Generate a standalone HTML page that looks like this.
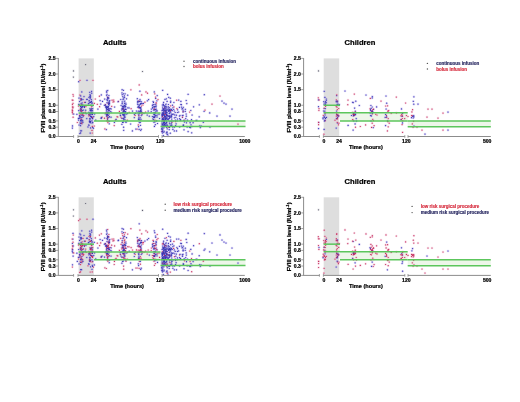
<!DOCTYPE html>
<html><head><meta charset="utf-8"><style>html,body{margin:0;padding:0;background:#fff;width:520px;height:402px;overflow:hidden}svg{display:block;filter:blur(0.22px)}.h circle{r:1.3px}.s circle{r:0.6px}.h .b{fill:#a89ce8}.h .r{fill:#eeb0c8}.h .g{fill:#c8c8d0}.s .b{fill:#3834b4}.s .r{fill:#c42c5c}.s .g{fill:#606070}</style></head>
<body><svg width="520" height="402" viewBox="0 0 520 402">
<defs><filter id="db" x="-5%" y="-5%" width="110%" height="110%"><feGaussianBlur stdDeviation="0.22"/></filter></defs>
<rect width="520" height="402" fill="#fff"/>
<rect x="78.6" y="58.4" width="15.2" height="78.1" fill="#dedede"/>
<rect x="78.6" y="105.26" width="15.4" height="7.81" fill="#e9f4e4" opacity="0.8"/>
<rect x="94" y="113.07" width="66.5" height="7.81" fill="#e9f4e4" opacity="0.8"/>
<rect x="160.5" y="120.88" width="85.0" height="5.62" fill="#e9f4e4" opacity="0.8"/>
<g filter="url(#db)">
<g opacity="0.45" class="h">
<circle class="r" cx="72.4" cy="104.6"/>
<circle class="r" cx="73.1" cy="117.2"/>
<circle class="r" cx="72.3" cy="110.9"/>
<circle class="r" cx="73.0" cy="94.5"/>
<circle class="b" cx="72.4" cy="128.1"/>
<circle class="r" cx="73.0" cy="103.3"/>
<circle class="r" cx="73.3" cy="96.1"/>
<circle class="r" cx="72.8" cy="113.8"/>
<circle class="b" cx="73.7" cy="114.0"/>
<circle class="b" cx="72.5" cy="125.9"/>
<circle class="r" cx="72.8" cy="107.9"/>
<circle class="r" cx="72.7" cy="110.8"/>
<circle class="r" cx="72.9" cy="100.2"/>
<circle class="r" cx="73.2" cy="107.0"/>
<circle class="r" cx="72.2" cy="100.1"/>
<circle class="r" cx="72.3" cy="112.4"/>
<circle class="r" cx="72.3" cy="109.9"/>
<circle class="r" cx="72.5" cy="106.9"/>
<circle class="b" cx="85.1" cy="112.6"/>
<circle class="b" cx="81.9" cy="123.7"/>
<circle class="b" cx="80.4" cy="106.3"/>
<circle class="b" cx="80.7" cy="108.9"/>
<circle class="b" cx="80.9" cy="120.9"/>
<circle class="r" cx="81.5" cy="119.2"/>
<circle class="b" cx="83.2" cy="116.6"/>
<circle class="b" cx="81.7" cy="112.1"/>
<circle class="b" cx="82.0" cy="117.4"/>
<circle class="b" cx="82.1" cy="113.2"/>
<circle class="b" cx="82.4" cy="106.7"/>
<circle class="r" cx="81.0" cy="119.0"/>
<circle class="r" cx="81.8" cy="108.0"/>
<circle class="b" cx="82.9" cy="115.4"/>
<circle class="b" cx="81.5" cy="107.7"/>
<circle class="b" cx="81.2" cy="110.3"/>
<circle class="b" cx="81.0" cy="117.4"/>
<circle class="r" cx="79.5" cy="115.6"/>
<circle class="b" cx="81.6" cy="98.9"/>
<circle class="b" cx="82.1" cy="102.9"/>
<circle class="b" cx="81.8" cy="106.0"/>
<circle class="b" cx="81.0" cy="105.4"/>
<circle class="b" cx="83.1" cy="115.0"/>
<circle class="r" cx="79.9" cy="95.0"/>
<circle class="b" cx="81.1" cy="103.6"/>
<circle class="b" cx="81.9" cy="122.1"/>
<circle class="b" cx="84.0" cy="96.6"/>
<circle class="b" cx="81.0" cy="105.6"/>
<circle class="b" cx="81.0" cy="119.9"/>
<circle class="b" cx="80.7" cy="108.9"/>
<circle class="b" cx="82.3" cy="105.9"/>
<circle class="b" cx="80.9" cy="100.3"/>
<circle class="b" cx="79.8" cy="105.2"/>
<circle class="r" cx="82.2" cy="114.7"/>
<circle class="b" cx="78.5" cy="120.1"/>
<circle class="b" cx="81.1" cy="107.5"/>
<circle class="b" cx="82.8" cy="120.9"/>
<circle class="b" cx="80.8" cy="106.5"/>
<circle class="b" cx="80.6" cy="132.9"/>
<circle class="b" cx="81.8" cy="91.9"/>
<circle class="b" cx="82.1" cy="120.2"/>
<circle class="b" cx="80.3" cy="110.2"/>
<circle class="b" cx="84.0" cy="106.7"/>
<circle class="b" cx="80.9" cy="98.5"/>
<circle class="b" cx="80.7" cy="95.9"/>
<circle class="b" cx="79.9" cy="116.3"/>
<circle class="b" cx="81.7" cy="99.7"/>
<circle class="b" cx="81.7" cy="109.5"/>
<circle class="b" cx="78.4" cy="118.4"/>
<circle class="b" cx="80.0" cy="116.8"/>
<circle class="b" cx="81.6" cy="115.1"/>
<circle class="r" cx="81.8" cy="111.4"/>
<circle class="b" cx="80.4" cy="111.1"/>
<circle class="r" cx="81.4" cy="104.6"/>
<circle class="r" cx="80.2" cy="114.2"/>
<circle class="b" cx="79.0" cy="98.1"/>
<circle class="r" cx="82.7" cy="113.7"/>
<circle class="b" cx="80.2" cy="122.9"/>
<circle class="r" cx="81.0" cy="110.3"/>
<circle class="b" cx="83.6" cy="110.0"/>
<circle class="b" cx="79.8" cy="133.5"/>
<circle class="b" cx="82.6" cy="110.5"/>
<circle class="b" cx="78.7" cy="110.6"/>
<circle class="b" cx="78.7" cy="81.7"/>
<circle class="b" cx="82.3" cy="107.1"/>
<circle class="b" cx="80.6" cy="130.8"/>
<circle class="b" cx="80.6" cy="125.7"/>
<circle class="b" cx="81.6" cy="130.8"/>
<circle class="b" cx="79.6" cy="101.5"/>
<circle class="b" cx="82.9" cy="122.5"/>
<circle class="b" cx="78.8" cy="104.4"/>
<circle class="b" cx="81.9" cy="120.8"/>
<circle class="b" cx="79.9" cy="118.2"/>
<circle class="b" cx="79.3" cy="118.1"/>
<circle class="b" cx="82.4" cy="106.1"/>
<circle class="b" cx="83.5" cy="112.9"/>
<circle class="b" cx="80.6" cy="120.7"/>
<circle class="b" cx="80.6" cy="123.6"/>
<circle class="r" cx="78.5" cy="106.0"/>
<circle class="b" cx="82.7" cy="104.8"/>
<circle class="b" cx="92.7" cy="108.5"/>
<circle class="b" cx="90.1" cy="110.1"/>
<circle class="b" cx="90.5" cy="121.3"/>
<circle class="b" cx="88.8" cy="124.8"/>
<circle class="r" cx="91.0" cy="109.5"/>
<circle class="b" cx="90.4" cy="97.5"/>
<circle class="b" cx="91.2" cy="105.4"/>
<circle class="b" cx="92.6" cy="118.6"/>
<circle class="b" cx="88.4" cy="103.8"/>
<circle class="b" cx="90.1" cy="98.6"/>
<circle class="b" cx="91.4" cy="101.4"/>
<circle class="r" cx="92.0" cy="130.4"/>
<circle class="r" cx="91.9" cy="117.2"/>
<circle class="b" cx="90.0" cy="115.0"/>
<circle class="b" cx="92.0" cy="102.6"/>
<circle class="r" cx="92.3" cy="126.4"/>
<circle class="b" cx="90.2" cy="133.1"/>
<circle class="b" cx="90.9" cy="105.3"/>
<circle class="b" cx="90.0" cy="108.6"/>
<circle class="b" cx="91.3" cy="101.4"/>
<circle class="b" cx="89.9" cy="118.7"/>
<circle class="b" cx="90.0" cy="94.5"/>
<circle class="b" cx="92.4" cy="112.0"/>
<circle class="b" cx="91.3" cy="109.8"/>
<circle class="b" cx="91.3" cy="112.8"/>
<circle class="b" cx="90.6" cy="122.7"/>
<circle class="b" cx="90.2" cy="95.4"/>
<circle class="b" cx="91.7" cy="110.3"/>
<circle class="b" cx="90.7" cy="110.3"/>
<circle class="b" cx="91.5" cy="116.9"/>
<circle class="b" cx="91.3" cy="108.6"/>
<circle class="b" cx="90.0" cy="118.3"/>
<circle class="b" cx="89.7" cy="120.8"/>
<circle class="r" cx="92.2" cy="133.0"/>
<circle class="b" cx="90.7" cy="116.6"/>
<circle class="b" cx="90.2" cy="110.0"/>
<circle class="b" cx="92.5" cy="110.2"/>
<circle class="b" cx="90.8" cy="116.6"/>
<circle class="b" cx="90.8" cy="102.3"/>
<circle class="b" cx="90.5" cy="121.6"/>
<circle class="b" cx="89.4" cy="121.3"/>
<circle class="b" cx="89.2" cy="100.6"/>
<circle class="b" cx="91.5" cy="113.1"/>
<circle class="b" cx="92.9" cy="117.0"/>
<circle class="b" cx="92.0" cy="103.4"/>
<circle class="b" cx="89.0" cy="125.5"/>
<circle class="b" cx="89.8" cy="102.4"/>
<circle class="b" cx="92.7" cy="122.4"/>
<circle class="b" cx="92.4" cy="114.5"/>
<circle class="b" cx="90.5" cy="116.0"/>
<circle class="b" cx="90.6" cy="127.9"/>
<circle class="b" cx="89.7" cy="122.5"/>
<circle class="b" cx="91.6" cy="91.3"/>
<circle class="b" cx="94.6" cy="114.0"/>
<circle class="b" cx="88.8" cy="114.7"/>
<circle class="b" cx="89.8" cy="92.3"/>
<circle class="b" cx="91.7" cy="117.7"/>
<circle class="b" cx="92.2" cy="105.9"/>
<circle class="r" cx="88.9" cy="115.9"/>
<circle class="b" cx="90.7" cy="110.7"/>
<circle class="b" cx="91.2" cy="114.1"/>
<circle class="b" cx="91.2" cy="116.4"/>
<circle class="b" cx="89.8" cy="96.7"/>
<circle class="r" cx="91.5" cy="106.8"/>
<circle class="b" cx="88.9" cy="112.4"/>
<circle class="b" cx="92.1" cy="123.0"/>
<circle class="b" cx="92.4" cy="114.5"/>
<circle class="b" cx="91.5" cy="112.1"/>
<circle class="b" cx="91.3" cy="99.6"/>
<circle class="b" cx="90.5" cy="96.2"/>
<circle class="b" cx="90.0" cy="119.6"/>
<circle class="b" cx="91.9" cy="120.9"/>
<circle class="b" cx="90.5" cy="102.4"/>
<circle class="b" cx="92.6" cy="127.5"/>
<circle class="b" cx="91.7" cy="93.2"/>
<circle class="b" cx="92.6" cy="113.1"/>
<circle class="b" cx="90.2" cy="113.7"/>
<circle class="b" cx="89.5" cy="113.4"/>
<circle class="b" cx="90.8" cy="112.2"/>
<circle class="b" cx="92.5" cy="113.0"/>
<circle class="b" cx="89.1" cy="101.0"/>
<circle class="b" cx="89.6" cy="115.1"/>
<circle class="b" cx="90.8" cy="114.1"/>
<circle class="b" cx="89.7" cy="113.2"/>
<circle class="b" cx="93.8" cy="116.6"/>
<circle class="b" cx="107.8" cy="99.6"/>
<circle class="b" cx="109.0" cy="102.4"/>
<circle class="b" cx="109.2" cy="123.8"/>
<circle class="b" cx="106.8" cy="107.4"/>
<circle class="b" cx="108.7" cy="98.3"/>
<circle class="r" cx="108.7" cy="110.2"/>
<circle class="b" cx="108.1" cy="110.0"/>
<circle class="b" cx="108.3" cy="103.1"/>
<circle class="b" cx="107.5" cy="114.7"/>
<circle class="b" cx="106.8" cy="99.8"/>
<circle class="b" cx="109.8" cy="100.6"/>
<circle class="b" cx="109.2" cy="101.9"/>
<circle class="r" cx="108.0" cy="103.2"/>
<circle class="b" cx="106.5" cy="110.0"/>
<circle class="b" cx="107.0" cy="102.7"/>
<circle class="b" cx="107.2" cy="109.2"/>
<circle class="b" cx="108.6" cy="97.8"/>
<circle class="b" cx="106.9" cy="115.7"/>
<circle class="b" cx="109.1" cy="117.0"/>
<circle class="b" cx="108.6" cy="112.8"/>
<circle class="r" cx="107.9" cy="122.6"/>
<circle class="b" cx="109.0" cy="112.3"/>
<circle class="b" cx="106.7" cy="92.2"/>
<circle class="b" cx="109.0" cy="105.2"/>
<circle class="b" cx="107.5" cy="107.5"/>
<circle class="b" cx="110.2" cy="108.6"/>
<circle class="b" cx="108.6" cy="104.3"/>
<circle class="b" cx="106.7" cy="107.4"/>
<circle class="b" cx="107.3" cy="118.1"/>
<circle class="b" cx="109.2" cy="103.2"/>
<circle class="r" cx="108.1" cy="115.5"/>
<circle class="b" cx="105.2" cy="104.6"/>
<circle class="r" cx="107.9" cy="121.5"/>
<circle class="b" cx="107.9" cy="120.3"/>
<circle class="b" cx="108.0" cy="107.3"/>
<circle class="b" cx="108.5" cy="106.7"/>
<circle class="b" cx="108.2" cy="117.3"/>
<circle class="b" cx="107.5" cy="112.4"/>
<circle class="b" cx="107.7" cy="106.3"/>
<circle class="b" cx="108.9" cy="95.6"/>
<circle class="b" cx="104.4" cy="105.3"/>
<circle class="b" cx="107.7" cy="90.6"/>
<circle class="b" cx="109.3" cy="121.3"/>
<circle class="b" cx="108.6" cy="112.5"/>
<circle class="b" cx="109.4" cy="116.6"/>
<circle class="b" cx="107.9" cy="109.4"/>
<circle class="b" cx="107.9" cy="112.9"/>
<circle class="r" cx="105.4" cy="104.8"/>
<circle class="b" cx="109.4" cy="108.9"/>
<circle class="b" cx="106.6" cy="106.8"/>
<circle class="b" cx="108.8" cy="109.8"/>
<circle class="b" cx="108.0" cy="97.4"/>
<circle class="r" cx="106.4" cy="112.7"/>
<circle class="b" cx="105.3" cy="113.8"/>
<circle class="b" cx="107.0" cy="115.9"/>
<circle class="b" cx="107.0" cy="94.3"/>
<circle class="b" cx="107.7" cy="109.3"/>
<circle class="b" cx="111.1" cy="108.9"/>
<circle class="b" cx="105.6" cy="105.2"/>
<circle class="b" cx="106.7" cy="95.6"/>
<circle class="b" cx="106.3" cy="112.9"/>
<circle class="b" cx="105.8" cy="107.6"/>
<circle class="b" cx="106.6" cy="108.9"/>
<circle class="b" cx="107.5" cy="113.2"/>
<circle class="b" cx="109.3" cy="101.1"/>
<circle class="b" cx="108.1" cy="115.4"/>
<circle class="b" cx="106.5" cy="106.3"/>
<circle class="b" cx="111.3" cy="112.0"/>
<circle class="r" cx="106.9" cy="113.8"/>
<circle class="b" cx="106.5" cy="116.0"/>
<circle class="r" cx="107.7" cy="97.2"/>
<circle class="b" cx="108.0" cy="112.4"/>
<circle class="b" cx="105.7" cy="106.7"/>
<circle class="b" cx="108.0" cy="118.0"/>
<circle class="b" cx="106.5" cy="108.7"/>
<circle class="b" cx="109.4" cy="103.5"/>
<circle class="b" cx="108.3" cy="110.9"/>
<circle class="b" cx="108.4" cy="108.5"/>
<circle class="b" cx="111.0" cy="117.2"/>
<circle class="b" cx="107.5" cy="98.5"/>
<circle class="b" cx="107.6" cy="97.3"/>
<circle class="b" cx="107.9" cy="107.2"/>
<circle class="b" cx="107.5" cy="119.2"/>
<circle class="b" cx="106.6" cy="91.1"/>
<circle class="b" cx="108.9" cy="103.7"/>
<circle class="b" cx="109.3" cy="103.9"/>
<circle class="b" cx="109.4" cy="110.5"/>
<circle class="b" cx="107.7" cy="100.7"/>
<circle class="r" cx="107.5" cy="118.8"/>
<circle class="b" cx="107.7" cy="112.6"/>
<circle class="b" cx="108.9" cy="114.0"/>
<circle class="b" cx="106.5" cy="111.0"/>
<circle class="b" cx="126.0" cy="109.4"/>
<circle class="b" cx="124.0" cy="108.9"/>
<circle class="b" cx="124.2" cy="101.8"/>
<circle class="b" cx="125.8" cy="121.9"/>
<circle class="b" cx="125.7" cy="109.0"/>
<circle class="b" cx="123.4" cy="90.3"/>
<circle class="b" cx="123.6" cy="93.8"/>
<circle class="b" cx="125.2" cy="117.1"/>
<circle class="b" cx="124.5" cy="103.3"/>
<circle class="b" cx="123.6" cy="127.2"/>
<circle class="b" cx="123.3" cy="110.5"/>
<circle class="b" cx="122.2" cy="94.7"/>
<circle class="b" cx="123.5" cy="112.1"/>
<circle class="b" cx="123.4" cy="115.1"/>
<circle class="b" cx="122.7" cy="108.3"/>
<circle class="b" cx="124.2" cy="113.0"/>
<circle class="b" cx="123.7" cy="119.9"/>
<circle class="b" cx="124.5" cy="114.9"/>
<circle class="b" cx="124.1" cy="116.1"/>
<circle class="b" cx="123.1" cy="107.3"/>
<circle class="b" cx="122.1" cy="89.7"/>
<circle class="r" cx="123.7" cy="109.6"/>
<circle class="b" cx="122.8" cy="96.6"/>
<circle class="b" cx="125.7" cy="106.7"/>
<circle class="b" cx="121.9" cy="112.9"/>
<circle class="b" cx="124.7" cy="113.0"/>
<circle class="r" cx="122.1" cy="118.3"/>
<circle class="b" cx="122.7" cy="108.9"/>
<circle class="b" cx="122.9" cy="108.9"/>
<circle class="b" cx="127.7" cy="95.2"/>
<circle class="b" cx="122.3" cy="106.3"/>
<circle class="r" cx="123.9" cy="110.1"/>
<circle class="b" cx="125.3" cy="111.6"/>
<circle class="b" cx="123.3" cy="111.9"/>
<circle class="b" cx="123.7" cy="99.0"/>
<circle class="b" cx="124.9" cy="119.5"/>
<circle class="b" cx="123.2" cy="115.2"/>
<circle class="b" cx="124.9" cy="107.3"/>
<circle class="b" cx="125.0" cy="109.5"/>
<circle class="b" cx="121.1" cy="105.5"/>
<circle class="b" cx="124.1" cy="105.0"/>
<circle class="b" cx="122.0" cy="108.4"/>
<circle class="b" cx="122.8" cy="114.4"/>
<circle class="b" cx="124.3" cy="106.3"/>
<circle class="b" cx="122.6" cy="122.4"/>
<circle class="b" cx="120.3" cy="113.5"/>
<circle class="b" cx="125.4" cy="109.4"/>
<circle class="b" cx="120.6" cy="115.7"/>
<circle class="b" cx="124.4" cy="95.9"/>
<circle class="b" cx="125.4" cy="106.1"/>
<circle class="b" cx="124.1" cy="117.3"/>
<circle class="b" cx="123.2" cy="111.6"/>
<circle class="r" cx="122.7" cy="108.5"/>
<circle class="b" cx="123.3" cy="106.4"/>
<circle class="b" cx="125.8" cy="103.2"/>
<circle class="b" cx="124.4" cy="110.9"/>
<circle class="b" cx="121.7" cy="109.9"/>
<circle class="b" cx="124.6" cy="116.9"/>
<circle class="b" cx="125.6" cy="111.6"/>
<circle class="b" cx="124.3" cy="111.6"/>
<circle class="b" cx="122.0" cy="92.9"/>
<circle class="b" cx="122.2" cy="101.8"/>
<circle class="b" cx="123.0" cy="106.8"/>
<circle class="b" cx="122.7" cy="112.3"/>
<circle class="b" cx="125.1" cy="93.8"/>
<circle class="b" cx="122.6" cy="108.9"/>
<circle class="b" cx="125.1" cy="113.9"/>
<circle class="b" cx="124.8" cy="115.1"/>
<circle class="b" cx="124.6" cy="105.6"/>
<circle class="b" cx="125.5" cy="106.2"/>
<circle class="b" cx="122.1" cy="103.8"/>
<circle class="b" cx="122.3" cy="103.1"/>
<circle class="b" cx="125.9" cy="104.4"/>
<circle class="b" cx="123.0" cy="99.7"/>
<circle class="b" cx="124.0" cy="118.7"/>
<circle class="b" cx="123.3" cy="97.9"/>
<circle class="b" cx="123.4" cy="108.1"/>
<circle class="b" cx="123.3" cy="122.2"/>
<circle class="b" cx="123.1" cy="106.2"/>
<circle class="b" cx="124.1" cy="110.4"/>
<circle class="b" cx="120.8" cy="99.5"/>
<circle class="b" cx="124.8" cy="101.0"/>
<circle class="b" cx="125.6" cy="112.5"/>
<circle class="b" cx="123.0" cy="106.6"/>
<circle class="b" cx="126.1" cy="122.2"/>
<circle class="b" cx="123.5" cy="114.6"/>
<circle class="b" cx="124.6" cy="97.6"/>
<circle class="b" cx="123.4" cy="118.7"/>
<circle class="b" cx="139.9" cy="112.3"/>
<circle class="b" cx="137.6" cy="102.8"/>
<circle class="b" cx="139.1" cy="104.4"/>
<circle class="b" cx="138.0" cy="101.0"/>
<circle class="b" cx="137.8" cy="101.4"/>
<circle class="b" cx="137.3" cy="98.7"/>
<circle class="b" cx="139.3" cy="122.6"/>
<circle class="b" cx="139.5" cy="107.2"/>
<circle class="b" cx="138.4" cy="114.0"/>
<circle class="b" cx="140.2" cy="111.3"/>
<circle class="b" cx="135.5" cy="113.4"/>
<circle class="b" cx="140.4" cy="107.5"/>
<circle class="b" cx="141.2" cy="115.6"/>
<circle class="b" cx="143.4" cy="103.4"/>
<circle class="b" cx="140.2" cy="101.1"/>
<circle class="b" cx="141.1" cy="109.1"/>
<circle class="b" cx="138.9" cy="101.6"/>
<circle class="b" cx="140.4" cy="125.3"/>
<circle class="b" cx="138.3" cy="106.2"/>
<circle class="b" cx="140.0" cy="107.7"/>
<circle class="b" cx="140.7" cy="108.8"/>
<circle class="b" cx="142.0" cy="114.7"/>
<circle class="b" cx="139.2" cy="107.3"/>
<circle class="b" cx="140.8" cy="103.5"/>
<circle class="r" cx="141.9" cy="113.8"/>
<circle class="r" cx="141.4" cy="106.1"/>
<circle class="b" cx="138.3" cy="111.1"/>
<circle class="b" cx="142.7" cy="103.6"/>
<circle class="b" cx="139.1" cy="129.4"/>
<circle class="r" cx="138.8" cy="115.7"/>
<circle class="b" cx="139.9" cy="91.2"/>
<circle class="b" cx="140.8" cy="107.4"/>
<circle class="b" cx="138.5" cy="119.6"/>
<circle class="b" cx="139.5" cy="113.7"/>
<circle class="b" cx="144.0" cy="113.2"/>
<circle class="r" cx="138.9" cy="100.8"/>
<circle class="b" cx="139.9" cy="120.0"/>
<circle class="r" cx="141.6" cy="112.5"/>
<circle class="b" cx="137.9" cy="107.3"/>
<circle class="b" cx="140.5" cy="112.7"/>
<circle class="b" cx="140.8" cy="103.3"/>
<circle class="b" cx="138.6" cy="126.7"/>
<circle class="b" cx="136.5" cy="111.0"/>
<circle class="b" cx="141.5" cy="101.8"/>
<circle class="r" cx="141.7" cy="94.9"/>
<circle class="b" cx="139.8" cy="101.4"/>
<circle class="b" cx="137.7" cy="104.3"/>
<circle class="b" cx="140.3" cy="110.7"/>
<circle class="b" cx="139.2" cy="119.0"/>
<circle class="b" cx="140.0" cy="99.6"/>
<circle class="b" cx="139.3" cy="105.6"/>
<circle class="r" cx="138.9" cy="107.9"/>
<circle class="b" cx="138.4" cy="106.9"/>
<circle class="b" cx="139.5" cy="107.4"/>
<circle class="b" cx="139.0" cy="119.5"/>
<circle class="b" cx="139.3" cy="101.5"/>
<circle class="b" cx="142.0" cy="112.6"/>
<circle class="b" cx="140.9" cy="103.8"/>
<circle class="b" cx="140.3" cy="122.5"/>
<circle class="b" cx="140.3" cy="117.8"/>
<circle class="b" cx="141.4" cy="103.5"/>
<circle class="b" cx="140.7" cy="130.5"/>
<circle class="b" cx="140.7" cy="104.3"/>
<circle class="b" cx="138.0" cy="102.1"/>
<circle class="b" cx="139.9" cy="111.4"/>
<circle class="b" cx="138.8" cy="118.2"/>
<circle class="r" cx="139.2" cy="84.9"/>
<circle class="b" cx="140.1" cy="108.3"/>
<circle class="b" cx="138.9" cy="115.0"/>
<circle class="b" cx="139.0" cy="117.1"/>
<circle class="b" cx="141.0" cy="112.1"/>
<circle class="b" cx="141.0" cy="119.3"/>
<circle class="b" cx="141.1" cy="110.2"/>
<circle class="b" cx="140.7" cy="110.8"/>
<circle class="b" cx="153.5" cy="102.4"/>
<circle class="b" cx="154.1" cy="112.6"/>
<circle class="b" cx="153.5" cy="110.0"/>
<circle class="b" cx="154.1" cy="109.4"/>
<circle class="b" cx="155.0" cy="116.7"/>
<circle class="b" cx="152.9" cy="108.3"/>
<circle class="b" cx="155.7" cy="106.3"/>
<circle class="b" cx="153.2" cy="107.0"/>
<circle class="r" cx="155.1" cy="109.4"/>
<circle class="b" cx="155.1" cy="113.9"/>
<circle class="b" cx="154.9" cy="104.6"/>
<circle class="b" cx="154.0" cy="122.3"/>
<circle class="b" cx="154.5" cy="110.0"/>
<circle class="b" cx="152.4" cy="116.6"/>
<circle class="b" cx="155.3" cy="112.6"/>
<circle class="r" cx="154.7" cy="120.9"/>
<circle class="b" cx="155.7" cy="98.4"/>
<circle class="b" cx="154.4" cy="117.0"/>
<circle class="b" cx="153.2" cy="104.8"/>
<circle class="b" cx="154.7" cy="117.5"/>
<circle class="b" cx="156.1" cy="105.8"/>
<circle class="b" cx="155.3" cy="124.7"/>
<circle class="b" cx="154.5" cy="106.8"/>
<circle class="b" cx="153.1" cy="104.5"/>
<circle class="r" cx="156.3" cy="103.8"/>
<circle class="b" cx="153.7" cy="116.8"/>
<circle class="b" cx="155.7" cy="104.1"/>
<circle class="r" cx="156.1" cy="102.5"/>
<circle class="b" cx="154.5" cy="114.6"/>
<circle class="b" cx="152.4" cy="105.6"/>
<circle class="b" cx="157.3" cy="115.0"/>
<circle class="b" cx="154.0" cy="106.6"/>
<circle class="b" cx="155.0" cy="121.8"/>
<circle class="b" cx="153.7" cy="119.7"/>
<circle class="b" cx="157.0" cy="116.9"/>
<circle class="r" cx="155.6" cy="97.1"/>
<circle class="b" cx="156.9" cy="100.8"/>
<circle class="b" cx="156.6" cy="120.8"/>
<circle class="b" cx="154.2" cy="117.0"/>
<circle class="b" cx="154.3" cy="91.9"/>
<circle class="b" cx="152.6" cy="107.3"/>
<circle class="b" cx="153.1" cy="101.5"/>
<circle class="b" cx="156.2" cy="115.3"/>
<circle class="b" cx="157.1" cy="110.9"/>
<circle class="b" cx="156.2" cy="109.2"/>
<circle class="b" cx="153.9" cy="114.4"/>
<circle class="b" cx="154.5" cy="106.9"/>
<circle class="r" cx="154.8" cy="93.8"/>
<circle class="b" cx="154.4" cy="115.0"/>
<circle class="b" cx="153.7" cy="117.3"/>
<circle class="b" cx="152.9" cy="118.9"/>
<circle class="b" cx="155.7" cy="111.1"/>
<circle class="r" cx="154.4" cy="108.9"/>
<circle class="b" cx="155.9" cy="106.9"/>
<circle class="b" cx="155.5" cy="115.7"/>
<circle class="b" cx="154.3" cy="117.3"/>
<circle class="b" cx="154.5" cy="117.6"/>
<circle class="b" cx="154.2" cy="112.8"/>
<circle class="b" cx="162.9" cy="120.0"/>
<circle class="b" cx="164.3" cy="106.7"/>
<circle class="b" cx="163.5" cy="126.3"/>
<circle class="b" cx="162.8" cy="126.9"/>
<circle class="b" cx="167.2" cy="117.0"/>
<circle class="b" cx="170.1" cy="115.3"/>
<circle class="b" cx="167.0" cy="131.9"/>
<circle class="b" cx="166.3" cy="112.9"/>
<circle class="b" cx="171.7" cy="125.1"/>
<circle class="b" cx="167.8" cy="119.4"/>
<circle class="b" cx="171.7" cy="110.2"/>
<circle class="b" cx="162.5" cy="115.2"/>
<circle class="b" cx="163.4" cy="135.6"/>
<circle class="b" cx="162.6" cy="129.1"/>
<circle class="b" cx="161.9" cy="124.9"/>
<circle class="b" cx="163.4" cy="119.5"/>
<circle class="b" cx="165.7" cy="111.3"/>
<circle class="b" cx="166.8" cy="117.9"/>
<circle class="b" cx="169.1" cy="113.6"/>
<circle class="b" cx="165.4" cy="118.8"/>
<circle class="b" cx="163.5" cy="109.8"/>
<circle class="b" cx="162.0" cy="114.6"/>
<circle class="b" cx="172.9" cy="129.4"/>
<circle class="b" cx="166.9" cy="132.4"/>
<circle class="b" cx="169.8" cy="110.5"/>
<circle class="b" cx="163.3" cy="104.0"/>
<circle class="b" cx="171.7" cy="125.2"/>
<circle class="b" cx="169.0" cy="109.1"/>
<circle class="b" cx="166.2" cy="110.4"/>
<circle class="b" cx="162.0" cy="117.8"/>
<circle class="b" cx="162.0" cy="110.6"/>
<circle class="b" cx="162.6" cy="115.1"/>
<circle class="b" cx="169.1" cy="127.3"/>
<circle class="b" cx="165.6" cy="113.0"/>
<circle class="b" cx="163.1" cy="119.1"/>
<circle class="b" cx="172.3" cy="114.2"/>
<circle class="b" cx="163.9" cy="108.5"/>
<circle class="b" cx="174.4" cy="127.1"/>
<circle class="b" cx="165.2" cy="116.8"/>
<circle class="b" cx="165.0" cy="99.4"/>
<circle class="b" cx="164.4" cy="121.1"/>
<circle class="b" cx="164.3" cy="124.5"/>
<circle class="b" cx="164.8" cy="116.9"/>
<circle class="b" cx="173.7" cy="114.2"/>
<circle class="b" cx="168.6" cy="111.5"/>
<circle class="b" cx="171.4" cy="114.0"/>
<circle class="b" cx="162.5" cy="118.9"/>
<circle class="b" cx="166.1" cy="104.0"/>
<circle class="b" cx="167.7" cy="118.8"/>
<circle class="b" cx="164.4" cy="124.4"/>
<circle class="b" cx="172.9" cy="121.0"/>
<circle class="r" cx="162.5" cy="116.5"/>
<circle class="b" cx="166.0" cy="119.1"/>
<circle class="b" cx="165.0" cy="115.2"/>
<circle class="b" cx="165.1" cy="125.4"/>
<circle class="b" cx="169.4" cy="126.4"/>
<circle class="b" cx="167.1" cy="109.3"/>
<circle class="b" cx="166.2" cy="116.8"/>
<circle class="b" cx="166.0" cy="106.5"/>
<circle class="b" cx="165.1" cy="119.8"/>
<circle class="b" cx="168.8" cy="97.4"/>
<circle class="b" cx="169.4" cy="127.4"/>
<circle class="b" cx="164.0" cy="120.3"/>
<circle class="b" cx="162.1" cy="123.3"/>
<circle class="r" cx="164.2" cy="117.8"/>
<circle class="b" cx="170.8" cy="111.9"/>
<circle class="b" cx="163.9" cy="117.5"/>
<circle class="b" cx="165.6" cy="119.7"/>
<circle class="b" cx="168.0" cy="110.8"/>
<circle class="b" cx="171.6" cy="115.6"/>
<circle class="r" cx="161.9" cy="131.4"/>
<circle class="b" cx="163.8" cy="132.3"/>
<circle class="b" cx="169.4" cy="123.1"/>
<circle class="b" cx="161.8" cy="129.2"/>
<circle class="b" cx="164.3" cy="125.6"/>
<circle class="r" cx="167.5" cy="115.7"/>
<circle class="b" cx="167.7" cy="134.0"/>
<circle class="b" cx="162.1" cy="121.9"/>
<circle class="b" cx="167.4" cy="112.8"/>
<circle class="r" cx="162.7" cy="116.8"/>
<circle class="b" cx="164.8" cy="122.6"/>
<circle class="b" cx="164.1" cy="131.3"/>
<circle class="r" cx="164.9" cy="114.4"/>
<circle class="b" cx="170.4" cy="116.9"/>
<circle class="b" cx="167.6" cy="115.8"/>
<circle class="b" cx="168.3" cy="120.0"/>
<circle class="b" cx="161.8" cy="128.7"/>
<circle class="b" cx="166.3" cy="133.1"/>
<circle class="b" cx="166.3" cy="115.7"/>
<circle class="b" cx="164.4" cy="107.9"/>
<circle class="b" cx="162.5" cy="126.1"/>
<circle class="b" cx="164.0" cy="119.0"/>
<circle class="b" cx="170.7" cy="101.2"/>
<circle class="b" cx="166.6" cy="127.3"/>
<circle class="b" cx="164.4" cy="116.1"/>
<circle class="b" cx="165.4" cy="113.3"/>
<circle class="r" cx="165.2" cy="110.7"/>
<circle class="b" cx="162.9" cy="125.2"/>
<circle class="b" cx="166.0" cy="118.8"/>
<circle class="b" cx="168.4" cy="104.5"/>
<circle class="b" cx="166.7" cy="114.7"/>
<circle class="b" cx="165.2" cy="110.8"/>
<circle class="b" cx="168.3" cy="110.5"/>
<circle class="b" cx="169.5" cy="109.7"/>
<circle class="b" cx="163.7" cy="121.6"/>
<circle class="b" cx="164.4" cy="115.3"/>
<circle class="b" cx="162.1" cy="132.0"/>
<circle class="b" cx="162.4" cy="113.1"/>
<circle class="b" cx="162.0" cy="131.2"/>
<circle class="b" cx="164.1" cy="111.7"/>
<circle class="r" cx="162.7" cy="114.2"/>
<circle class="b" cx="163.6" cy="123.3"/>
<circle class="b" cx="164.4" cy="120.7"/>
<circle class="b" cx="162.7" cy="90.3"/>
<circle class="b" cx="165.4" cy="116.6"/>
<circle class="b" cx="169.9" cy="116.9"/>
<circle class="b" cx="165.6" cy="123.7"/>
<circle class="b" cx="163.0" cy="113.1"/>
<circle class="r" cx="164.8" cy="112.0"/>
<circle class="b" cx="168.6" cy="119.1"/>
<circle class="b" cx="166.7" cy="115.6"/>
<circle class="b" cx="162.8" cy="120.1"/>
<circle class="b" cx="166.1" cy="106.9"/>
<circle class="b" cx="166.2" cy="126.2"/>
<circle class="b" cx="166.0" cy="123.9"/>
<circle class="b" cx="169.3" cy="107.6"/>
<circle class="b" cx="168.2" cy="107.8"/>
<circle class="b" cx="162.8" cy="110.1"/>
<circle class="r" cx="164.4" cy="108.0"/>
<circle class="b" cx="163.5" cy="112.9"/>
<circle class="b" cx="163.0" cy="108.5"/>
<circle class="b" cx="163.8" cy="109.2"/>
<circle class="b" cx="169.3" cy="118.3"/>
<circle class="b" cx="164.0" cy="122.1"/>
<circle class="b" cx="163.2" cy="115.6"/>
<circle class="b" cx="163.5" cy="125.2"/>
<circle class="b" cx="161.9" cy="116.1"/>
<circle class="b" cx="163.4" cy="111.8"/>
<circle class="r" cx="170.7" cy="105.8"/>
<circle class="b" cx="162.7" cy="124.3"/>
<circle class="b" cx="163.7" cy="114.0"/>
<circle class="b" cx="166.2" cy="120.8"/>
<circle class="b" cx="162.6" cy="131.2"/>
<circle class="b" cx="162.6" cy="118.7"/>
<circle class="b" cx="164.0" cy="110.3"/>
<circle class="b" cx="170.8" cy="109.0"/>
<circle class="b" cx="165.7" cy="104.9"/>
<circle class="b" cx="163.5" cy="118.1"/>
<circle class="b" cx="164.7" cy="113.9"/>
<circle class="b" cx="164.6" cy="116.5"/>
<circle class="b" cx="162.8" cy="119.0"/>
<circle class="b" cx="163.8" cy="109.6"/>
<circle class="b" cx="164.4" cy="119.0"/>
<circle class="b" cx="162.8" cy="124.1"/>
<circle class="b" cx="162.9" cy="130.1"/>
<circle class="b" cx="163.8" cy="113.2"/>
<circle class="b" cx="163.3" cy="104.7"/>
<circle class="b" cx="165.9" cy="113.1"/>
<circle class="b" cx="164.2" cy="122.3"/>
<circle class="b" cx="163.0" cy="110.3"/>
<circle class="b" cx="162.1" cy="115.4"/>
<circle class="b" cx="168.8" cy="115.9"/>
<circle class="b" cx="170.1" cy="123.9"/>
<circle class="b" cx="166.0" cy="118.8"/>
<circle class="b" cx="167.2" cy="134.4"/>
<circle class="b" cx="163.4" cy="105.2"/>
<circle class="b" cx="168.0" cy="136.0"/>
<circle class="b" cx="164.3" cy="122.3"/>
<circle class="r" cx="163.3" cy="120.5"/>
<circle class="b" cx="166.3" cy="114.1"/>
<circle class="b" cx="166.4" cy="114.7"/>
<circle class="b" cx="164.6" cy="109.0"/>
<circle class="b" cx="162.3" cy="112.9"/>
<circle class="b" cx="166.4" cy="112.2"/>
<circle class="b" cx="165.5" cy="106.9"/>
<circle class="b" cx="161.9" cy="114.0"/>
<circle class="b" cx="164.7" cy="110.4"/>
<circle class="b" cx="165.7" cy="108.7"/>
<circle class="b" cx="163.7" cy="128.0"/>
<circle class="b" cx="162.1" cy="119.5"/>
<circle class="b" cx="172.3" cy="110.6"/>
<circle class="b" cx="175.2" cy="112.5"/>
<circle class="b" cx="177.4" cy="112.5"/>
<circle class="r" cx="175.5" cy="121.6"/>
<circle class="b" cx="166.9" cy="109.8"/>
<circle class="b" cx="174.8" cy="114.9"/>
<circle class="b" cx="176.1" cy="123.8"/>
<circle class="b" cx="163.6" cy="102.3"/>
<circle class="b" cx="168.2" cy="106.5"/>
<circle class="b" cx="188.1" cy="131.6"/>
<circle class="r" cx="173.9" cy="106.9"/>
<circle class="b" cx="184.5" cy="121.9"/>
<circle class="b" cx="175.6" cy="125.6"/>
<circle class="b" cx="174.3" cy="111.0"/>
<circle class="b" cx="166.3" cy="98.8"/>
<circle class="r" cx="172.0" cy="122.5"/>
<circle class="b" cx="165.3" cy="117.6"/>
<circle class="b" cx="172.9" cy="107.8"/>
<circle class="b" cx="166.8" cy="107.9"/>
<circle class="b" cx="169.9" cy="117.0"/>
<circle class="b" cx="165.6" cy="109.9"/>
<circle class="b" cx="166.3" cy="122.4"/>
<circle class="b" cx="179.5" cy="116.1"/>
<circle class="b" cx="170.1" cy="111.9"/>
<circle class="b" cx="182.3" cy="115.6"/>
<circle class="b" cx="180.7" cy="120.1"/>
<circle class="b" cx="186.5" cy="122.8"/>
<circle class="b" cx="174.4" cy="117.8"/>
<circle class="b" cx="178.7" cy="100.1"/>
<circle class="b" cx="170.6" cy="102.5"/>
<circle class="b" cx="169.2" cy="129.6"/>
<circle class="b" cx="187.4" cy="120.1"/>
<circle class="b" cx="172.5" cy="105.2"/>
<circle class="b" cx="180.0" cy="115.5"/>
<circle class="b" cx="169.8" cy="110.6"/>
<circle class="b" cx="162.1" cy="127.8"/>
<circle class="b" cx="162.9" cy="109.1"/>
<circle class="b" cx="166.0" cy="111.0"/>
<circle class="b" cx="169.2" cy="116.6"/>
<circle class="b" cx="166.9" cy="114.8"/>
<circle class="b" cx="179.5" cy="107.4"/>
<circle class="b" cx="173.7" cy="109.5"/>
<circle class="b" cx="164.2" cy="126.8"/>
<circle class="r" cx="176.7" cy="100.2"/>
<circle class="b" cx="165.2" cy="118.5"/>
<circle class="b" cx="162.4" cy="105.0"/>
<circle class="b" cx="166.0" cy="125.2"/>
<circle class="b" cx="164.3" cy="123.2"/>
<circle class="b" cx="164.7" cy="124.3"/>
<circle class="b" cx="173.9" cy="102.5"/>
<circle class="b" cx="176.5" cy="130.9"/>
<circle class="b" cx="175.3" cy="120.2"/>
<circle class="b" cx="167.2" cy="128.8"/>
<circle class="b" cx="174.3" cy="130.9"/>
<circle class="b" cx="171.6" cy="109.7"/>
<circle class="b" cx="166.9" cy="122.1"/>
<circle class="b" cx="162.9" cy="114.8"/>
<circle class="b" cx="190.6" cy="127.6"/>
<circle class="b" cx="169.4" cy="117.1"/>
<circle class="b" cx="167.6" cy="125.2"/>
<circle class="b" cx="171.5" cy="123.1"/>
<circle class="b" cx="200.3" cy="127.6"/>
<circle class="r" cx="183.1" cy="111.7"/>
<circle class="r" cx="165.0" cy="114.3"/>
<circle class="b" cx="167.1" cy="101.4"/>
<circle class="b" cx="169.1" cy="116.4"/>
<circle class="b" cx="163.6" cy="114.3"/>
<circle class="b" cx="177.5" cy="119.0"/>
<circle class="b" cx="170.4" cy="110.4"/>
<circle class="b" cx="170.3" cy="133.2"/>
<circle class="b" cx="164.9" cy="107.1"/>
<circle class="b" cx="179.6" cy="127.0"/>
<circle class="b" cx="175.8" cy="117.3"/>
<circle class="r" cx="168.1" cy="127.3"/>
<circle class="b" cx="164.4" cy="121.2"/>
<circle class="b" cx="165.0" cy="112.2"/>
<circle class="b" cx="171.7" cy="119.1"/>
<circle class="b" cx="169.1" cy="115.8"/>
<circle class="b" cx="163.2" cy="114.5"/>
<circle class="b" cx="169.1" cy="118.3"/>
<circle class="b" cx="169.9" cy="121.5"/>
<circle class="b" cx="164.3" cy="105.5"/>
<circle class="b" cx="169.2" cy="110.8"/>
<circle class="b" cx="166.8" cy="115.1"/>
<circle class="b" cx="171.4" cy="121.2"/>
<circle class="b" cx="169.8" cy="113.4"/>
<circle class="b" cx="209.7" cy="112.9"/>
<circle class="b" cx="170.3" cy="98.2"/>
<circle class="b" cx="176.4" cy="115.2"/>
<circle class="b" cx="166.9" cy="125.0"/>
<circle class="b" cx="178.6" cy="112.0"/>
<circle class="b" cx="172.8" cy="127.1"/>
<circle class="b" cx="167.6" cy="94.4"/>
<circle class="b" cx="191.7" cy="132.8"/>
<circle class="b" cx="171.3" cy="117.1"/>
<circle class="r" cx="170.6" cy="110.6"/>
<circle class="b" cx="163.4" cy="113.5"/>
<circle class="b" cx="165.7" cy="126.1"/>
<circle class="b" cx="180.2" cy="120.3"/>
<circle class="b" cx="177.6" cy="109.8"/>
<circle class="b" cx="162.6" cy="114.8"/>
<circle class="b" cx="162.5" cy="133.0"/>
<circle class="b" cx="166.3" cy="112.2"/>
<circle class="b" cx="184.0" cy="129.8"/>
<circle class="r" cx="176.9" cy="108.7"/>
<circle class="b" cx="183.1" cy="111.9"/>
<circle class="b" cx="162.6" cy="107.1"/>
<circle class="b" cx="166.4" cy="118.2"/>
<circle class="b" cx="172.2" cy="114.5"/>
<circle class="b" cx="163.6" cy="122.2"/>
<circle class="b" cx="166.7" cy="123.1"/>
<circle class="b" cx="170.7" cy="125.6"/>
<circle class="b" cx="183.3" cy="125.0"/>
<circle class="b" cx="177.0" cy="120.8"/>
<circle class="b" cx="171.0" cy="109.4"/>
<circle class="b" cx="168.9" cy="109.2"/>
<circle class="b" cx="169.0" cy="116.5"/>
<circle class="b" cx="171.6" cy="116.7"/>
<circle class="b" cx="179.6" cy="118.7"/>
<circle class="b" cx="169.9" cy="112.1"/>
<circle class="b" cx="185.2" cy="111.4"/>
<circle class="b" cx="186.8" cy="103.6"/>
<circle class="b" cx="186.2" cy="114.0"/>
<circle class="r" cx="184.7" cy="120.0"/>
<circle class="b" cx="182.7" cy="108.6"/>
<circle class="b" cx="196.8" cy="120.3"/>
<circle class="b" cx="181.4" cy="104.7"/>
<circle class="b" cx="183.0" cy="115.4"/>
<circle class="b" cx="186.3" cy="116.2"/>
<circle class="b" cx="183.8" cy="120.3"/>
<circle class="b" cx="193.6" cy="106.8"/>
<circle class="b" cx="182.4" cy="117.3"/>
<circle class="b" cx="185.3" cy="109.3"/>
<circle class="b" cx="192.1" cy="115.0"/>
<circle class="b" cx="185.7" cy="118.6"/>
<circle class="b" cx="191.5" cy="119.7"/>
<circle class="b" cx="203.3" cy="122.3"/>
<circle class="b" cx="190.1" cy="122.7"/>
<circle class="b" cx="181.5" cy="107.1"/>
<circle class="b" cx="187.2" cy="126.9"/>
<circle class="b" cx="193.1" cy="122.7"/>
<circle class="b" cx="183.1" cy="110.2"/>
<circle class="b" cx="191.0" cy="124.8"/>
<circle class="b" cx="180.4" cy="119.6"/>
<circle class="b" cx="191.8" cy="126.5"/>
<circle class="b" cx="190.8" cy="110.5"/>
<circle class="b" cx="182.0" cy="108.9"/>
<circle class="b" cx="196.1" cy="120.5"/>
<circle class="b" cx="186.2" cy="100.5"/>
<circle class="b" cx="204.3" cy="94.7"/>
<circle class="b" cx="188.1" cy="94.3"/>
<circle class="b" cx="183.2" cy="107.3"/>
<circle class="b" cx="201.2" cy="126.1"/>
<circle class="b" cx="199.2" cy="116.8"/>
<circle class="b" cx="180.8" cy="104.5"/>
<circle class="b" cx="183.5" cy="125.4"/>
<circle class="b" cx="199.8" cy="125.8"/>
<circle class="b" cx="204.1" cy="111.3"/>
<circle class="r" cx="182.6" cy="117.1"/>
<circle class="b" cx="180.9" cy="101.4"/>
<circle class="r" cx="189.7" cy="112.1"/>
<circle class="b" cx="183.3" cy="125.2"/>
<circle class="b" cx="199.3" cy="104.8"/>
<circle class="b" cx="189.6" cy="127.3"/>
<circle class="r" cx="220.0" cy="96.0"/>
<circle class="b" cx="222.0" cy="101.1"/>
<circle class="b" cx="224.0" cy="103.1"/>
<circle class="b" cx="226.0" cy="104.1"/>
<circle class="b" cx="232.0" cy="109.1"/>
<circle class="b" cx="230.0" cy="116.1"/>
<circle class="b" cx="217.0" cy="116.1"/>
<circle class="r" cx="238.0" cy="124.1"/>
<circle class="b" cx="210.0" cy="127.1"/>
<circle class="r" cx="205.0" cy="110.1"/>
<circle class="r" cx="212.0" cy="104.1"/>
<circle class="r" cx="142.9" cy="105.0"/>
<circle class="r" cx="84.4" cy="102.3"/>
<circle class="b" cx="79.1" cy="125.0"/>
<circle class="r" cx="146.0" cy="91.9"/>
<circle class="r" cx="85.9" cy="106.6"/>
<circle class="b" cx="147.3" cy="100.8"/>
<circle class="b" cx="127.8" cy="107.8"/>
<circle class="b" cx="159.0" cy="114.2"/>
<circle class="b" cx="93.4" cy="128.2"/>
<circle class="r" cx="137.1" cy="129.1"/>
<circle class="r" cx="92.6" cy="117.7"/>
<circle class="r" cx="77.3" cy="122.5"/>
<circle class="r" cx="104.5" cy="118.2"/>
<circle class="r" cx="99.4" cy="96.2"/>
<circle class="b" cx="126.7" cy="114.1"/>
<circle class="b" cx="86.8" cy="118.6"/>
<circle class="b" cx="134.3" cy="117.6"/>
<circle class="b" cx="85.7" cy="110.2"/>
<circle class="r" cx="155.0" cy="120.1"/>
<circle class="b" cx="92.5" cy="118.6"/>
<circle class="b" cx="159.6" cy="118.5"/>
<circle class="b" cx="106.3" cy="129.6"/>
<circle class="r" cx="102.1" cy="117.1"/>
<circle class="b" cx="129.0" cy="107.9"/>
<circle class="r" cx="111.7" cy="106.3"/>
<circle class="b" cx="114.4" cy="122.5"/>
<circle class="r" cx="118.5" cy="101.3"/>
<circle class="r" cx="135.1" cy="115.4"/>
<circle class="b" cx="95.7" cy="120.0"/>
<circle class="b" cx="149.3" cy="116.2"/>
<circle class="b" cx="100.1" cy="100.6"/>
<circle class="r" cx="114.2" cy="125.6"/>
<circle class="b" cx="154.4" cy="126.4"/>
<circle class="b" cx="126.5" cy="98.8"/>
<circle class="r" cx="113.7" cy="100.1"/>
<circle class="r" cx="99.6" cy="106.7"/>
<circle class="r" cx="113.0" cy="102.0"/>
<circle class="b" cx="134.4" cy="114.3"/>
<circle class="b" cx="132.5" cy="111.1"/>
<circle class="b" cx="87.1" cy="99.3"/>
<circle class="b" cx="151.2" cy="111.6"/>
<circle class="b" cx="104.7" cy="99.1"/>
<circle class="r" cx="144.9" cy="102.2"/>
<circle class="b" cx="121.9" cy="124.3"/>
<circle class="b" cx="84.4" cy="107.4"/>
<circle class="b" cx="106.5" cy="114.6"/>
<circle class="b" cx="107.5" cy="114.5"/>
<circle class="r" cx="104.9" cy="128.9"/>
<circle class="b" cx="151.4" cy="109.1"/>
<circle class="r" cx="129.2" cy="112.3"/>
<circle class="r" cx="115.4" cy="120.1"/>
<circle class="b" cx="102.5" cy="101.4"/>
<circle class="b" cx="132.4" cy="130.9"/>
<circle class="r" cx="158.0" cy="99.6"/>
<circle class="r" cx="145.6" cy="112.1"/>
<circle class="b" cx="130.6" cy="124.0"/>
<circle class="r" cx="81.6" cy="123.2"/>
<circle class="r" cx="131.1" cy="108.7"/>
<circle class="r" cx="94.3" cy="103.4"/>
<circle class="b" cx="107.1" cy="112.0"/>
<circle class="b" cx="88.0" cy="126.9"/>
<circle class="b" cx="83.0" cy="99.5"/>
<circle class="b" cx="90.0" cy="121.3"/>
<circle class="r" cx="138.3" cy="124.9"/>
<circle class="r" cx="97.3" cy="104.3"/>
<circle class="b" cx="141.2" cy="129.3"/>
<circle class="b" cx="86.1" cy="113.6"/>
<circle class="b" cx="148.2" cy="111.1"/>
<circle class="b" cx="155.3" cy="109.4"/>
<circle class="r" cx="105.5" cy="113.1"/>
<circle class="r" cx="121.0" cy="117.1"/>
<circle class="r" cx="142.3" cy="112.7"/>
<circle class="b" cx="101.3" cy="117.6"/>
<circle class="b" cx="123.7" cy="111.8"/>
<circle class="b" cx="86.9" cy="99.4"/>
<circle class="b" cx="100.7" cy="104.0"/>
<circle class="b" cx="141.3" cy="111.3"/>
<circle class="r" cx="80.6" cy="99.2"/>
<circle class="r" cx="94.3" cy="126.0"/>
<circle class="b" cx="114.6" cy="107.0"/>
<circle class="r" cx="147.5" cy="93.2"/>
<circle class="b" cx="89.0" cy="97.4"/>
<circle class="b" cx="157.5" cy="123.5"/>
<circle class="b" cx="127.4" cy="113.4"/>
<circle class="b" cx="148.6" cy="99.6"/>
<circle class="b" cx="76.9" cy="114.3"/>
<circle class="b" cx="88.9" cy="103.4"/>
<circle class="b" cx="135.9" cy="129.1"/>
<circle class="r" cx="89.2" cy="114.3"/>
<circle class="r" cx="85.3" cy="112.1"/>
<circle class="b" cx="101.3" cy="94.9"/>
<circle class="b" cx="147.2" cy="115.1"/>
<circle class="b" cx="79.9" cy="115.7"/>
<circle class="b" cx="97.9" cy="109.1"/>
<circle class="b" cx="85.4" cy="102.3"/>
<circle class="r" cx="117.1" cy="116.7"/>
<circle class="r" cx="130.9" cy="89.8"/>
<circle class="b" cx="123.7" cy="130.3"/>
<circle class="b" cx="118.1" cy="101.7"/>
<circle class="b" cx="101.1" cy="118.3"/>
<circle class="b" cx="138.1" cy="112.1"/>
<circle class="r" cx="112.1" cy="100.2"/>
<circle class="b" cx="116.1" cy="119.4"/>
<circle class="r" cx="113.9" cy="101.7"/>
<circle class="r" cx="80.2" cy="109.3"/>
<circle class="b" cx="120.3" cy="115.1"/>
<circle class="b" cx="122.0" cy="118.3"/>
<circle class="b" cx="84.3" cy="106.5"/>
<circle class="r" cx="107.2" cy="116.9"/>
<circle class="r" cx="95.3" cy="99.0"/>
<circle class="b" cx="139.0" cy="113.1"/>
<circle class="b" cx="110.2" cy="111.4"/>
<circle class="b" cx="157.2" cy="95.6"/>
<circle class="b" cx="156.7" cy="110.8"/>
<circle class="r" cx="106.7" cy="120.8"/>
<circle class="b" cx="101.3" cy="118.1"/>
<circle class="r" cx="127.2" cy="120.2"/>
<circle class="r" cx="117.8" cy="117.0"/>
<circle class="r" cx="119.4" cy="111.4"/>
<circle class="r" cx="83.8" cy="115.4"/>
<circle class="r" cx="80.0" cy="80.3"/>
<circle class="b" cx="87.0" cy="80.3"/>
<circle class="r" cx="93.0" cy="80.3"/>
<circle class="g" cx="142.5" cy="71.5"/>
<circle class="g" cx="85.6" cy="64.6"/>
<circle class="g" cx="73.5" cy="70.9"/>
<circle class="g" cx="73.4" cy="77.1"/>
</g><g class="s">
<circle class="r" cx="72.4" cy="104.6"/>
<circle class="r" cx="73.1" cy="117.2"/>
<circle class="r" cx="72.3" cy="110.9"/>
<circle class="r" cx="73.0" cy="94.5"/>
<circle class="b" cx="72.4" cy="128.1"/>
<circle class="r" cx="73.0" cy="103.3"/>
<circle class="r" cx="73.3" cy="96.1"/>
<circle class="r" cx="72.8" cy="113.8"/>
<circle class="b" cx="73.7" cy="114.0"/>
<circle class="b" cx="72.5" cy="125.9"/>
<circle class="r" cx="72.8" cy="107.9"/>
<circle class="r" cx="72.7" cy="110.8"/>
<circle class="r" cx="72.9" cy="100.2"/>
<circle class="r" cx="73.2" cy="107.0"/>
<circle class="r" cx="72.2" cy="100.1"/>
<circle class="r" cx="72.3" cy="112.4"/>
<circle class="r" cx="72.3" cy="109.9"/>
<circle class="r" cx="72.5" cy="106.9"/>
<circle class="b" cx="85.1" cy="112.6"/>
<circle class="b" cx="81.9" cy="123.7"/>
<circle class="b" cx="80.4" cy="106.3"/>
<circle class="b" cx="80.7" cy="108.9"/>
<circle class="b" cx="80.9" cy="120.9"/>
<circle class="r" cx="81.5" cy="119.2"/>
<circle class="b" cx="83.2" cy="116.6"/>
<circle class="b" cx="81.7" cy="112.1"/>
<circle class="b" cx="82.0" cy="117.4"/>
<circle class="b" cx="82.1" cy="113.2"/>
<circle class="b" cx="82.4" cy="106.7"/>
<circle class="r" cx="81.0" cy="119.0"/>
<circle class="r" cx="81.8" cy="108.0"/>
<circle class="b" cx="82.9" cy="115.4"/>
<circle class="b" cx="81.5" cy="107.7"/>
<circle class="b" cx="81.2" cy="110.3"/>
<circle class="b" cx="81.0" cy="117.4"/>
<circle class="r" cx="79.5" cy="115.6"/>
<circle class="b" cx="81.6" cy="98.9"/>
<circle class="b" cx="82.1" cy="102.9"/>
<circle class="b" cx="81.8" cy="106.0"/>
<circle class="b" cx="81.0" cy="105.4"/>
<circle class="b" cx="83.1" cy="115.0"/>
<circle class="r" cx="79.9" cy="95.0"/>
<circle class="b" cx="81.1" cy="103.6"/>
<circle class="b" cx="81.9" cy="122.1"/>
<circle class="b" cx="84.0" cy="96.6"/>
<circle class="b" cx="81.0" cy="105.6"/>
<circle class="b" cx="81.0" cy="119.9"/>
<circle class="b" cx="80.7" cy="108.9"/>
<circle class="b" cx="82.3" cy="105.9"/>
<circle class="b" cx="80.9" cy="100.3"/>
<circle class="b" cx="79.8" cy="105.2"/>
<circle class="r" cx="82.2" cy="114.7"/>
<circle class="b" cx="78.5" cy="120.1"/>
<circle class="b" cx="81.1" cy="107.5"/>
<circle class="b" cx="82.8" cy="120.9"/>
<circle class="b" cx="80.8" cy="106.5"/>
<circle class="b" cx="80.6" cy="132.9"/>
<circle class="b" cx="81.8" cy="91.9"/>
<circle class="b" cx="82.1" cy="120.2"/>
<circle class="b" cx="80.3" cy="110.2"/>
<circle class="b" cx="84.0" cy="106.7"/>
<circle class="b" cx="80.9" cy="98.5"/>
<circle class="b" cx="80.7" cy="95.9"/>
<circle class="b" cx="79.9" cy="116.3"/>
<circle class="b" cx="81.7" cy="99.7"/>
<circle class="b" cx="81.7" cy="109.5"/>
<circle class="b" cx="78.4" cy="118.4"/>
<circle class="b" cx="80.0" cy="116.8"/>
<circle class="b" cx="81.6" cy="115.1"/>
<circle class="r" cx="81.8" cy="111.4"/>
<circle class="b" cx="80.4" cy="111.1"/>
<circle class="r" cx="81.4" cy="104.6"/>
<circle class="r" cx="80.2" cy="114.2"/>
<circle class="b" cx="79.0" cy="98.1"/>
<circle class="r" cx="82.7" cy="113.7"/>
<circle class="b" cx="80.2" cy="122.9"/>
<circle class="r" cx="81.0" cy="110.3"/>
<circle class="b" cx="83.6" cy="110.0"/>
<circle class="b" cx="79.8" cy="133.5"/>
<circle class="b" cx="82.6" cy="110.5"/>
<circle class="b" cx="78.7" cy="110.6"/>
<circle class="b" cx="78.7" cy="81.7"/>
<circle class="b" cx="82.3" cy="107.1"/>
<circle class="b" cx="80.6" cy="130.8"/>
<circle class="b" cx="80.6" cy="125.7"/>
<circle class="b" cx="81.6" cy="130.8"/>
<circle class="b" cx="79.6" cy="101.5"/>
<circle class="b" cx="82.9" cy="122.5"/>
<circle class="b" cx="78.8" cy="104.4"/>
<circle class="b" cx="81.9" cy="120.8"/>
<circle class="b" cx="79.9" cy="118.2"/>
<circle class="b" cx="79.3" cy="118.1"/>
<circle class="b" cx="82.4" cy="106.1"/>
<circle class="b" cx="83.5" cy="112.9"/>
<circle class="b" cx="80.6" cy="120.7"/>
<circle class="b" cx="80.6" cy="123.6"/>
<circle class="r" cx="78.5" cy="106.0"/>
<circle class="b" cx="82.7" cy="104.8"/>
<circle class="b" cx="92.7" cy="108.5"/>
<circle class="b" cx="90.1" cy="110.1"/>
<circle class="b" cx="90.5" cy="121.3"/>
<circle class="b" cx="88.8" cy="124.8"/>
<circle class="r" cx="91.0" cy="109.5"/>
<circle class="b" cx="90.4" cy="97.5"/>
<circle class="b" cx="91.2" cy="105.4"/>
<circle class="b" cx="92.6" cy="118.6"/>
<circle class="b" cx="88.4" cy="103.8"/>
<circle class="b" cx="90.1" cy="98.6"/>
<circle class="b" cx="91.4" cy="101.4"/>
<circle class="r" cx="92.0" cy="130.4"/>
<circle class="r" cx="91.9" cy="117.2"/>
<circle class="b" cx="90.0" cy="115.0"/>
<circle class="b" cx="92.0" cy="102.6"/>
<circle class="r" cx="92.3" cy="126.4"/>
<circle class="b" cx="90.2" cy="133.1"/>
<circle class="b" cx="90.9" cy="105.3"/>
<circle class="b" cx="90.0" cy="108.6"/>
<circle class="b" cx="91.3" cy="101.4"/>
<circle class="b" cx="89.9" cy="118.7"/>
<circle class="b" cx="90.0" cy="94.5"/>
<circle class="b" cx="92.4" cy="112.0"/>
<circle class="b" cx="91.3" cy="109.8"/>
<circle class="b" cx="91.3" cy="112.8"/>
<circle class="b" cx="90.6" cy="122.7"/>
<circle class="b" cx="90.2" cy="95.4"/>
<circle class="b" cx="91.7" cy="110.3"/>
<circle class="b" cx="90.7" cy="110.3"/>
<circle class="b" cx="91.5" cy="116.9"/>
<circle class="b" cx="91.3" cy="108.6"/>
<circle class="b" cx="90.0" cy="118.3"/>
<circle class="b" cx="89.7" cy="120.8"/>
<circle class="r" cx="92.2" cy="133.0"/>
<circle class="b" cx="90.7" cy="116.6"/>
<circle class="b" cx="90.2" cy="110.0"/>
<circle class="b" cx="92.5" cy="110.2"/>
<circle class="b" cx="90.8" cy="116.6"/>
<circle class="b" cx="90.8" cy="102.3"/>
<circle class="b" cx="90.5" cy="121.6"/>
<circle class="b" cx="89.4" cy="121.3"/>
<circle class="b" cx="89.2" cy="100.6"/>
<circle class="b" cx="91.5" cy="113.1"/>
<circle class="b" cx="92.9" cy="117.0"/>
<circle class="b" cx="92.0" cy="103.4"/>
<circle class="b" cx="89.0" cy="125.5"/>
<circle class="b" cx="89.8" cy="102.4"/>
<circle class="b" cx="92.7" cy="122.4"/>
<circle class="b" cx="92.4" cy="114.5"/>
<circle class="b" cx="90.5" cy="116.0"/>
<circle class="b" cx="90.6" cy="127.9"/>
<circle class="b" cx="89.7" cy="122.5"/>
<circle class="b" cx="91.6" cy="91.3"/>
<circle class="b" cx="94.6" cy="114.0"/>
<circle class="b" cx="88.8" cy="114.7"/>
<circle class="b" cx="89.8" cy="92.3"/>
<circle class="b" cx="91.7" cy="117.7"/>
<circle class="b" cx="92.2" cy="105.9"/>
<circle class="r" cx="88.9" cy="115.9"/>
<circle class="b" cx="90.7" cy="110.7"/>
<circle class="b" cx="91.2" cy="114.1"/>
<circle class="b" cx="91.2" cy="116.4"/>
<circle class="b" cx="89.8" cy="96.7"/>
<circle class="r" cx="91.5" cy="106.8"/>
<circle class="b" cx="88.9" cy="112.4"/>
<circle class="b" cx="92.1" cy="123.0"/>
<circle class="b" cx="92.4" cy="114.5"/>
<circle class="b" cx="91.5" cy="112.1"/>
<circle class="b" cx="91.3" cy="99.6"/>
<circle class="b" cx="90.5" cy="96.2"/>
<circle class="b" cx="90.0" cy="119.6"/>
<circle class="b" cx="91.9" cy="120.9"/>
<circle class="b" cx="90.5" cy="102.4"/>
<circle class="b" cx="92.6" cy="127.5"/>
<circle class="b" cx="91.7" cy="93.2"/>
<circle class="b" cx="92.6" cy="113.1"/>
<circle class="b" cx="90.2" cy="113.7"/>
<circle class="b" cx="89.5" cy="113.4"/>
<circle class="b" cx="90.8" cy="112.2"/>
<circle class="b" cx="92.5" cy="113.0"/>
<circle class="b" cx="89.1" cy="101.0"/>
<circle class="b" cx="89.6" cy="115.1"/>
<circle class="b" cx="90.8" cy="114.1"/>
<circle class="b" cx="89.7" cy="113.2"/>
<circle class="b" cx="93.8" cy="116.6"/>
<circle class="b" cx="107.8" cy="99.6"/>
<circle class="b" cx="109.0" cy="102.4"/>
<circle class="b" cx="109.2" cy="123.8"/>
<circle class="b" cx="106.8" cy="107.4"/>
<circle class="b" cx="108.7" cy="98.3"/>
<circle class="r" cx="108.7" cy="110.2"/>
<circle class="b" cx="108.1" cy="110.0"/>
<circle class="b" cx="108.3" cy="103.1"/>
<circle class="b" cx="107.5" cy="114.7"/>
<circle class="b" cx="106.8" cy="99.8"/>
<circle class="b" cx="109.8" cy="100.6"/>
<circle class="b" cx="109.2" cy="101.9"/>
<circle class="r" cx="108.0" cy="103.2"/>
<circle class="b" cx="106.5" cy="110.0"/>
<circle class="b" cx="107.0" cy="102.7"/>
<circle class="b" cx="107.2" cy="109.2"/>
<circle class="b" cx="108.6" cy="97.8"/>
<circle class="b" cx="106.9" cy="115.7"/>
<circle class="b" cx="109.1" cy="117.0"/>
<circle class="b" cx="108.6" cy="112.8"/>
<circle class="r" cx="107.9" cy="122.6"/>
<circle class="b" cx="109.0" cy="112.3"/>
<circle class="b" cx="106.7" cy="92.2"/>
<circle class="b" cx="109.0" cy="105.2"/>
<circle class="b" cx="107.5" cy="107.5"/>
<circle class="b" cx="110.2" cy="108.6"/>
<circle class="b" cx="108.6" cy="104.3"/>
<circle class="b" cx="106.7" cy="107.4"/>
<circle class="b" cx="107.3" cy="118.1"/>
<circle class="b" cx="109.2" cy="103.2"/>
<circle class="r" cx="108.1" cy="115.5"/>
<circle class="b" cx="105.2" cy="104.6"/>
<circle class="r" cx="107.9" cy="121.5"/>
<circle class="b" cx="107.9" cy="120.3"/>
<circle class="b" cx="108.0" cy="107.3"/>
<circle class="b" cx="108.5" cy="106.7"/>
<circle class="b" cx="108.2" cy="117.3"/>
<circle class="b" cx="107.5" cy="112.4"/>
<circle class="b" cx="107.7" cy="106.3"/>
<circle class="b" cx="108.9" cy="95.6"/>
<circle class="b" cx="104.4" cy="105.3"/>
<circle class="b" cx="107.7" cy="90.6"/>
<circle class="b" cx="109.3" cy="121.3"/>
<circle class="b" cx="108.6" cy="112.5"/>
<circle class="b" cx="109.4" cy="116.6"/>
<circle class="b" cx="107.9" cy="109.4"/>
<circle class="b" cx="107.9" cy="112.9"/>
<circle class="r" cx="105.4" cy="104.8"/>
<circle class="b" cx="109.4" cy="108.9"/>
<circle class="b" cx="106.6" cy="106.8"/>
<circle class="b" cx="108.8" cy="109.8"/>
<circle class="b" cx="108.0" cy="97.4"/>
<circle class="r" cx="106.4" cy="112.7"/>
<circle class="b" cx="105.3" cy="113.8"/>
<circle class="b" cx="107.0" cy="115.9"/>
<circle class="b" cx="107.0" cy="94.3"/>
<circle class="b" cx="107.7" cy="109.3"/>
<circle class="b" cx="111.1" cy="108.9"/>
<circle class="b" cx="105.6" cy="105.2"/>
<circle class="b" cx="106.7" cy="95.6"/>
<circle class="b" cx="106.3" cy="112.9"/>
<circle class="b" cx="105.8" cy="107.6"/>
<circle class="b" cx="106.6" cy="108.9"/>
<circle class="b" cx="107.5" cy="113.2"/>
<circle class="b" cx="109.3" cy="101.1"/>
<circle class="b" cx="108.1" cy="115.4"/>
<circle class="b" cx="106.5" cy="106.3"/>
<circle class="b" cx="111.3" cy="112.0"/>
<circle class="r" cx="106.9" cy="113.8"/>
<circle class="b" cx="106.5" cy="116.0"/>
<circle class="r" cx="107.7" cy="97.2"/>
<circle class="b" cx="108.0" cy="112.4"/>
<circle class="b" cx="105.7" cy="106.7"/>
<circle class="b" cx="108.0" cy="118.0"/>
<circle class="b" cx="106.5" cy="108.7"/>
<circle class="b" cx="109.4" cy="103.5"/>
<circle class="b" cx="108.3" cy="110.9"/>
<circle class="b" cx="108.4" cy="108.5"/>
<circle class="b" cx="111.0" cy="117.2"/>
<circle class="b" cx="107.5" cy="98.5"/>
<circle class="b" cx="107.6" cy="97.3"/>
<circle class="b" cx="107.9" cy="107.2"/>
<circle class="b" cx="107.5" cy="119.2"/>
<circle class="b" cx="106.6" cy="91.1"/>
<circle class="b" cx="108.9" cy="103.7"/>
<circle class="b" cx="109.3" cy="103.9"/>
<circle class="b" cx="109.4" cy="110.5"/>
<circle class="b" cx="107.7" cy="100.7"/>
<circle class="r" cx="107.5" cy="118.8"/>
<circle class="b" cx="107.7" cy="112.6"/>
<circle class="b" cx="108.9" cy="114.0"/>
<circle class="b" cx="106.5" cy="111.0"/>
<circle class="b" cx="126.0" cy="109.4"/>
<circle class="b" cx="124.0" cy="108.9"/>
<circle class="b" cx="124.2" cy="101.8"/>
<circle class="b" cx="125.8" cy="121.9"/>
<circle class="b" cx="125.7" cy="109.0"/>
<circle class="b" cx="123.4" cy="90.3"/>
<circle class="b" cx="123.6" cy="93.8"/>
<circle class="b" cx="125.2" cy="117.1"/>
<circle class="b" cx="124.5" cy="103.3"/>
<circle class="b" cx="123.6" cy="127.2"/>
<circle class="b" cx="123.3" cy="110.5"/>
<circle class="b" cx="122.2" cy="94.7"/>
<circle class="b" cx="123.5" cy="112.1"/>
<circle class="b" cx="123.4" cy="115.1"/>
<circle class="b" cx="122.7" cy="108.3"/>
<circle class="b" cx="124.2" cy="113.0"/>
<circle class="b" cx="123.7" cy="119.9"/>
<circle class="b" cx="124.5" cy="114.9"/>
<circle class="b" cx="124.1" cy="116.1"/>
<circle class="b" cx="123.1" cy="107.3"/>
<circle class="b" cx="122.1" cy="89.7"/>
<circle class="r" cx="123.7" cy="109.6"/>
<circle class="b" cx="122.8" cy="96.6"/>
<circle class="b" cx="125.7" cy="106.7"/>
<circle class="b" cx="121.9" cy="112.9"/>
<circle class="b" cx="124.7" cy="113.0"/>
<circle class="r" cx="122.1" cy="118.3"/>
<circle class="b" cx="122.7" cy="108.9"/>
<circle class="b" cx="122.9" cy="108.9"/>
<circle class="b" cx="127.7" cy="95.2"/>
<circle class="b" cx="122.3" cy="106.3"/>
<circle class="r" cx="123.9" cy="110.1"/>
<circle class="b" cx="125.3" cy="111.6"/>
<circle class="b" cx="123.3" cy="111.9"/>
<circle class="b" cx="123.7" cy="99.0"/>
<circle class="b" cx="124.9" cy="119.5"/>
<circle class="b" cx="123.2" cy="115.2"/>
<circle class="b" cx="124.9" cy="107.3"/>
<circle class="b" cx="125.0" cy="109.5"/>
<circle class="b" cx="121.1" cy="105.5"/>
<circle class="b" cx="124.1" cy="105.0"/>
<circle class="b" cx="122.0" cy="108.4"/>
<circle class="b" cx="122.8" cy="114.4"/>
<circle class="b" cx="124.3" cy="106.3"/>
<circle class="b" cx="122.6" cy="122.4"/>
<circle class="b" cx="120.3" cy="113.5"/>
<circle class="b" cx="125.4" cy="109.4"/>
<circle class="b" cx="120.6" cy="115.7"/>
<circle class="b" cx="124.4" cy="95.9"/>
<circle class="b" cx="125.4" cy="106.1"/>
<circle class="b" cx="124.1" cy="117.3"/>
<circle class="b" cx="123.2" cy="111.6"/>
<circle class="r" cx="122.7" cy="108.5"/>
<circle class="b" cx="123.3" cy="106.4"/>
<circle class="b" cx="125.8" cy="103.2"/>
<circle class="b" cx="124.4" cy="110.9"/>
<circle class="b" cx="121.7" cy="109.9"/>
<circle class="b" cx="124.6" cy="116.9"/>
<circle class="b" cx="125.6" cy="111.6"/>
<circle class="b" cx="124.3" cy="111.6"/>
<circle class="b" cx="122.0" cy="92.9"/>
<circle class="b" cx="122.2" cy="101.8"/>
<circle class="b" cx="123.0" cy="106.8"/>
<circle class="b" cx="122.7" cy="112.3"/>
<circle class="b" cx="125.1" cy="93.8"/>
<circle class="b" cx="122.6" cy="108.9"/>
<circle class="b" cx="125.1" cy="113.9"/>
<circle class="b" cx="124.8" cy="115.1"/>
<circle class="b" cx="124.6" cy="105.6"/>
<circle class="b" cx="125.5" cy="106.2"/>
<circle class="b" cx="122.1" cy="103.8"/>
<circle class="b" cx="122.3" cy="103.1"/>
<circle class="b" cx="125.9" cy="104.4"/>
<circle class="b" cx="123.0" cy="99.7"/>
<circle class="b" cx="124.0" cy="118.7"/>
<circle class="b" cx="123.3" cy="97.9"/>
<circle class="b" cx="123.4" cy="108.1"/>
<circle class="b" cx="123.3" cy="122.2"/>
<circle class="b" cx="123.1" cy="106.2"/>
<circle class="b" cx="124.1" cy="110.4"/>
<circle class="b" cx="120.8" cy="99.5"/>
<circle class="b" cx="124.8" cy="101.0"/>
<circle class="b" cx="125.6" cy="112.5"/>
<circle class="b" cx="123.0" cy="106.6"/>
<circle class="b" cx="126.1" cy="122.2"/>
<circle class="b" cx="123.5" cy="114.6"/>
<circle class="b" cx="124.6" cy="97.6"/>
<circle class="b" cx="123.4" cy="118.7"/>
<circle class="b" cx="139.9" cy="112.3"/>
<circle class="b" cx="137.6" cy="102.8"/>
<circle class="b" cx="139.1" cy="104.4"/>
<circle class="b" cx="138.0" cy="101.0"/>
<circle class="b" cx="137.8" cy="101.4"/>
<circle class="b" cx="137.3" cy="98.7"/>
<circle class="b" cx="139.3" cy="122.6"/>
<circle class="b" cx="139.5" cy="107.2"/>
<circle class="b" cx="138.4" cy="114.0"/>
<circle class="b" cx="140.2" cy="111.3"/>
<circle class="b" cx="135.5" cy="113.4"/>
<circle class="b" cx="140.4" cy="107.5"/>
<circle class="b" cx="141.2" cy="115.6"/>
<circle class="b" cx="143.4" cy="103.4"/>
<circle class="b" cx="140.2" cy="101.1"/>
<circle class="b" cx="141.1" cy="109.1"/>
<circle class="b" cx="138.9" cy="101.6"/>
<circle class="b" cx="140.4" cy="125.3"/>
<circle class="b" cx="138.3" cy="106.2"/>
<circle class="b" cx="140.0" cy="107.7"/>
<circle class="b" cx="140.7" cy="108.8"/>
<circle class="b" cx="142.0" cy="114.7"/>
<circle class="b" cx="139.2" cy="107.3"/>
<circle class="b" cx="140.8" cy="103.5"/>
<circle class="r" cx="141.9" cy="113.8"/>
<circle class="r" cx="141.4" cy="106.1"/>
<circle class="b" cx="138.3" cy="111.1"/>
<circle class="b" cx="142.7" cy="103.6"/>
<circle class="b" cx="139.1" cy="129.4"/>
<circle class="r" cx="138.8" cy="115.7"/>
<circle class="b" cx="139.9" cy="91.2"/>
<circle class="b" cx="140.8" cy="107.4"/>
<circle class="b" cx="138.5" cy="119.6"/>
<circle class="b" cx="139.5" cy="113.7"/>
<circle class="b" cx="144.0" cy="113.2"/>
<circle class="r" cx="138.9" cy="100.8"/>
<circle class="b" cx="139.9" cy="120.0"/>
<circle class="r" cx="141.6" cy="112.5"/>
<circle class="b" cx="137.9" cy="107.3"/>
<circle class="b" cx="140.5" cy="112.7"/>
<circle class="b" cx="140.8" cy="103.3"/>
<circle class="b" cx="138.6" cy="126.7"/>
<circle class="b" cx="136.5" cy="111.0"/>
<circle class="b" cx="141.5" cy="101.8"/>
<circle class="r" cx="141.7" cy="94.9"/>
<circle class="b" cx="139.8" cy="101.4"/>
<circle class="b" cx="137.7" cy="104.3"/>
<circle class="b" cx="140.3" cy="110.7"/>
<circle class="b" cx="139.2" cy="119.0"/>
<circle class="b" cx="140.0" cy="99.6"/>
<circle class="b" cx="139.3" cy="105.6"/>
<circle class="r" cx="138.9" cy="107.9"/>
<circle class="b" cx="138.4" cy="106.9"/>
<circle class="b" cx="139.5" cy="107.4"/>
<circle class="b" cx="139.0" cy="119.5"/>
<circle class="b" cx="139.3" cy="101.5"/>
<circle class="b" cx="142.0" cy="112.6"/>
<circle class="b" cx="140.9" cy="103.8"/>
<circle class="b" cx="140.3" cy="122.5"/>
<circle class="b" cx="140.3" cy="117.8"/>
<circle class="b" cx="141.4" cy="103.5"/>
<circle class="b" cx="140.7" cy="130.5"/>
<circle class="b" cx="140.7" cy="104.3"/>
<circle class="b" cx="138.0" cy="102.1"/>
<circle class="b" cx="139.9" cy="111.4"/>
<circle class="b" cx="138.8" cy="118.2"/>
<circle class="r" cx="139.2" cy="84.9"/>
<circle class="b" cx="140.1" cy="108.3"/>
<circle class="b" cx="138.9" cy="115.0"/>
<circle class="b" cx="139.0" cy="117.1"/>
<circle class="b" cx="141.0" cy="112.1"/>
<circle class="b" cx="141.0" cy="119.3"/>
<circle class="b" cx="141.1" cy="110.2"/>
<circle class="b" cx="140.7" cy="110.8"/>
<circle class="b" cx="153.5" cy="102.4"/>
<circle class="b" cx="154.1" cy="112.6"/>
<circle class="b" cx="153.5" cy="110.0"/>
<circle class="b" cx="154.1" cy="109.4"/>
<circle class="b" cx="155.0" cy="116.7"/>
<circle class="b" cx="152.9" cy="108.3"/>
<circle class="b" cx="155.7" cy="106.3"/>
<circle class="b" cx="153.2" cy="107.0"/>
<circle class="r" cx="155.1" cy="109.4"/>
<circle class="b" cx="155.1" cy="113.9"/>
<circle class="b" cx="154.9" cy="104.6"/>
<circle class="b" cx="154.0" cy="122.3"/>
<circle class="b" cx="154.5" cy="110.0"/>
<circle class="b" cx="152.4" cy="116.6"/>
<circle class="b" cx="155.3" cy="112.6"/>
<circle class="r" cx="154.7" cy="120.9"/>
<circle class="b" cx="155.7" cy="98.4"/>
<circle class="b" cx="154.4" cy="117.0"/>
<circle class="b" cx="153.2" cy="104.8"/>
<circle class="b" cx="154.7" cy="117.5"/>
<circle class="b" cx="156.1" cy="105.8"/>
<circle class="b" cx="155.3" cy="124.7"/>
<circle class="b" cx="154.5" cy="106.8"/>
<circle class="b" cx="153.1" cy="104.5"/>
<circle class="r" cx="156.3" cy="103.8"/>
<circle class="b" cx="153.7" cy="116.8"/>
<circle class="b" cx="155.7" cy="104.1"/>
<circle class="r" cx="156.1" cy="102.5"/>
<circle class="b" cx="154.5" cy="114.6"/>
<circle class="b" cx="152.4" cy="105.6"/>
<circle class="b" cx="157.3" cy="115.0"/>
<circle class="b" cx="154.0" cy="106.6"/>
<circle class="b" cx="155.0" cy="121.8"/>
<circle class="b" cx="153.7" cy="119.7"/>
<circle class="b" cx="157.0" cy="116.9"/>
<circle class="r" cx="155.6" cy="97.1"/>
<circle class="b" cx="156.9" cy="100.8"/>
<circle class="b" cx="156.6" cy="120.8"/>
<circle class="b" cx="154.2" cy="117.0"/>
<circle class="b" cx="154.3" cy="91.9"/>
<circle class="b" cx="152.6" cy="107.3"/>
<circle class="b" cx="153.1" cy="101.5"/>
<circle class="b" cx="156.2" cy="115.3"/>
<circle class="b" cx="157.1" cy="110.9"/>
<circle class="b" cx="156.2" cy="109.2"/>
<circle class="b" cx="153.9" cy="114.4"/>
<circle class="b" cx="154.5" cy="106.9"/>
<circle class="r" cx="154.8" cy="93.8"/>
<circle class="b" cx="154.4" cy="115.0"/>
<circle class="b" cx="153.7" cy="117.3"/>
<circle class="b" cx="152.9" cy="118.9"/>
<circle class="b" cx="155.7" cy="111.1"/>
<circle class="r" cx="154.4" cy="108.9"/>
<circle class="b" cx="155.9" cy="106.9"/>
<circle class="b" cx="155.5" cy="115.7"/>
<circle class="b" cx="154.3" cy="117.3"/>
<circle class="b" cx="154.5" cy="117.6"/>
<circle class="b" cx="154.2" cy="112.8"/>
<circle class="b" cx="162.9" cy="120.0"/>
<circle class="b" cx="164.3" cy="106.7"/>
<circle class="b" cx="163.5" cy="126.3"/>
<circle class="b" cx="162.8" cy="126.9"/>
<circle class="b" cx="167.2" cy="117.0"/>
<circle class="b" cx="170.1" cy="115.3"/>
<circle class="b" cx="167.0" cy="131.9"/>
<circle class="b" cx="166.3" cy="112.9"/>
<circle class="b" cx="171.7" cy="125.1"/>
<circle class="b" cx="167.8" cy="119.4"/>
<circle class="b" cx="171.7" cy="110.2"/>
<circle class="b" cx="162.5" cy="115.2"/>
<circle class="b" cx="163.4" cy="135.6"/>
<circle class="b" cx="162.6" cy="129.1"/>
<circle class="b" cx="161.9" cy="124.9"/>
<circle class="b" cx="163.4" cy="119.5"/>
<circle class="b" cx="165.7" cy="111.3"/>
<circle class="b" cx="166.8" cy="117.9"/>
<circle class="b" cx="169.1" cy="113.6"/>
<circle class="b" cx="165.4" cy="118.8"/>
<circle class="b" cx="163.5" cy="109.8"/>
<circle class="b" cx="162.0" cy="114.6"/>
<circle class="b" cx="172.9" cy="129.4"/>
<circle class="b" cx="166.9" cy="132.4"/>
<circle class="b" cx="169.8" cy="110.5"/>
<circle class="b" cx="163.3" cy="104.0"/>
<circle class="b" cx="171.7" cy="125.2"/>
<circle class="b" cx="169.0" cy="109.1"/>
<circle class="b" cx="166.2" cy="110.4"/>
<circle class="b" cx="162.0" cy="117.8"/>
<circle class="b" cx="162.0" cy="110.6"/>
<circle class="b" cx="162.6" cy="115.1"/>
<circle class="b" cx="169.1" cy="127.3"/>
<circle class="b" cx="165.6" cy="113.0"/>
<circle class="b" cx="163.1" cy="119.1"/>
<circle class="b" cx="172.3" cy="114.2"/>
<circle class="b" cx="163.9" cy="108.5"/>
<circle class="b" cx="174.4" cy="127.1"/>
<circle class="b" cx="165.2" cy="116.8"/>
<circle class="b" cx="165.0" cy="99.4"/>
<circle class="b" cx="164.4" cy="121.1"/>
<circle class="b" cx="164.3" cy="124.5"/>
<circle class="b" cx="164.8" cy="116.9"/>
<circle class="b" cx="173.7" cy="114.2"/>
<circle class="b" cx="168.6" cy="111.5"/>
<circle class="b" cx="171.4" cy="114.0"/>
<circle class="b" cx="162.5" cy="118.9"/>
<circle class="b" cx="166.1" cy="104.0"/>
<circle class="b" cx="167.7" cy="118.8"/>
<circle class="b" cx="164.4" cy="124.4"/>
<circle class="b" cx="172.9" cy="121.0"/>
<circle class="r" cx="162.5" cy="116.5"/>
<circle class="b" cx="166.0" cy="119.1"/>
<circle class="b" cx="165.0" cy="115.2"/>
<circle class="b" cx="165.1" cy="125.4"/>
<circle class="b" cx="169.4" cy="126.4"/>
<circle class="b" cx="167.1" cy="109.3"/>
<circle class="b" cx="166.2" cy="116.8"/>
<circle class="b" cx="166.0" cy="106.5"/>
<circle class="b" cx="165.1" cy="119.8"/>
<circle class="b" cx="168.8" cy="97.4"/>
<circle class="b" cx="169.4" cy="127.4"/>
<circle class="b" cx="164.0" cy="120.3"/>
<circle class="b" cx="162.1" cy="123.3"/>
<circle class="r" cx="164.2" cy="117.8"/>
<circle class="b" cx="170.8" cy="111.9"/>
<circle class="b" cx="163.9" cy="117.5"/>
<circle class="b" cx="165.6" cy="119.7"/>
<circle class="b" cx="168.0" cy="110.8"/>
<circle class="b" cx="171.6" cy="115.6"/>
<circle class="r" cx="161.9" cy="131.4"/>
<circle class="b" cx="163.8" cy="132.3"/>
<circle class="b" cx="169.4" cy="123.1"/>
<circle class="b" cx="161.8" cy="129.2"/>
<circle class="b" cx="164.3" cy="125.6"/>
<circle class="r" cx="167.5" cy="115.7"/>
<circle class="b" cx="167.7" cy="134.0"/>
<circle class="b" cx="162.1" cy="121.9"/>
<circle class="b" cx="167.4" cy="112.8"/>
<circle class="r" cx="162.7" cy="116.8"/>
<circle class="b" cx="164.8" cy="122.6"/>
<circle class="b" cx="164.1" cy="131.3"/>
<circle class="r" cx="164.9" cy="114.4"/>
<circle class="b" cx="170.4" cy="116.9"/>
<circle class="b" cx="167.6" cy="115.8"/>
<circle class="b" cx="168.3" cy="120.0"/>
<circle class="b" cx="161.8" cy="128.7"/>
<circle class="b" cx="166.3" cy="133.1"/>
<circle class="b" cx="166.3" cy="115.7"/>
<circle class="b" cx="164.4" cy="107.9"/>
<circle class="b" cx="162.5" cy="126.1"/>
<circle class="b" cx="164.0" cy="119.0"/>
<circle class="b" cx="170.7" cy="101.2"/>
<circle class="b" cx="166.6" cy="127.3"/>
<circle class="b" cx="164.4" cy="116.1"/>
<circle class="b" cx="165.4" cy="113.3"/>
<circle class="r" cx="165.2" cy="110.7"/>
<circle class="b" cx="162.9" cy="125.2"/>
<circle class="b" cx="166.0" cy="118.8"/>
<circle class="b" cx="168.4" cy="104.5"/>
<circle class="b" cx="166.7" cy="114.7"/>
<circle class="b" cx="165.2" cy="110.8"/>
<circle class="b" cx="168.3" cy="110.5"/>
<circle class="b" cx="169.5" cy="109.7"/>
<circle class="b" cx="163.7" cy="121.6"/>
<circle class="b" cx="164.4" cy="115.3"/>
<circle class="b" cx="162.1" cy="132.0"/>
<circle class="b" cx="162.4" cy="113.1"/>
<circle class="b" cx="162.0" cy="131.2"/>
<circle class="b" cx="164.1" cy="111.7"/>
<circle class="r" cx="162.7" cy="114.2"/>
<circle class="b" cx="163.6" cy="123.3"/>
<circle class="b" cx="164.4" cy="120.7"/>
<circle class="b" cx="162.7" cy="90.3"/>
<circle class="b" cx="165.4" cy="116.6"/>
<circle class="b" cx="169.9" cy="116.9"/>
<circle class="b" cx="165.6" cy="123.7"/>
<circle class="b" cx="163.0" cy="113.1"/>
<circle class="r" cx="164.8" cy="112.0"/>
<circle class="b" cx="168.6" cy="119.1"/>
<circle class="b" cx="166.7" cy="115.6"/>
<circle class="b" cx="162.8" cy="120.1"/>
<circle class="b" cx="166.1" cy="106.9"/>
<circle class="b" cx="166.2" cy="126.2"/>
<circle class="b" cx="166.0" cy="123.9"/>
<circle class="b" cx="169.3" cy="107.6"/>
<circle class="b" cx="168.2" cy="107.8"/>
<circle class="b" cx="162.8" cy="110.1"/>
<circle class="r" cx="164.4" cy="108.0"/>
<circle class="b" cx="163.5" cy="112.9"/>
<circle class="b" cx="163.0" cy="108.5"/>
<circle class="b" cx="163.8" cy="109.2"/>
<circle class="b" cx="169.3" cy="118.3"/>
<circle class="b" cx="164.0" cy="122.1"/>
<circle class="b" cx="163.2" cy="115.6"/>
<circle class="b" cx="163.5" cy="125.2"/>
<circle class="b" cx="161.9" cy="116.1"/>
<circle class="b" cx="163.4" cy="111.8"/>
<circle class="r" cx="170.7" cy="105.8"/>
<circle class="b" cx="162.7" cy="124.3"/>
<circle class="b" cx="163.7" cy="114.0"/>
<circle class="b" cx="166.2" cy="120.8"/>
<circle class="b" cx="162.6" cy="131.2"/>
<circle class="b" cx="162.6" cy="118.7"/>
<circle class="b" cx="164.0" cy="110.3"/>
<circle class="b" cx="170.8" cy="109.0"/>
<circle class="b" cx="165.7" cy="104.9"/>
<circle class="b" cx="163.5" cy="118.1"/>
<circle class="b" cx="164.7" cy="113.9"/>
<circle class="b" cx="164.6" cy="116.5"/>
<circle class="b" cx="162.8" cy="119.0"/>
<circle class="b" cx="163.8" cy="109.6"/>
<circle class="b" cx="164.4" cy="119.0"/>
<circle class="b" cx="162.8" cy="124.1"/>
<circle class="b" cx="162.9" cy="130.1"/>
<circle class="b" cx="163.8" cy="113.2"/>
<circle class="b" cx="163.3" cy="104.7"/>
<circle class="b" cx="165.9" cy="113.1"/>
<circle class="b" cx="164.2" cy="122.3"/>
<circle class="b" cx="163.0" cy="110.3"/>
<circle class="b" cx="162.1" cy="115.4"/>
<circle class="b" cx="168.8" cy="115.9"/>
<circle class="b" cx="170.1" cy="123.9"/>
<circle class="b" cx="166.0" cy="118.8"/>
<circle class="b" cx="167.2" cy="134.4"/>
<circle class="b" cx="163.4" cy="105.2"/>
<circle class="b" cx="168.0" cy="136.0"/>
<circle class="b" cx="164.3" cy="122.3"/>
<circle class="r" cx="163.3" cy="120.5"/>
<circle class="b" cx="166.3" cy="114.1"/>
<circle class="b" cx="166.4" cy="114.7"/>
<circle class="b" cx="164.6" cy="109.0"/>
<circle class="b" cx="162.3" cy="112.9"/>
<circle class="b" cx="166.4" cy="112.2"/>
<circle class="b" cx="165.5" cy="106.9"/>
<circle class="b" cx="161.9" cy="114.0"/>
<circle class="b" cx="164.7" cy="110.4"/>
<circle class="b" cx="165.7" cy="108.7"/>
<circle class="b" cx="163.7" cy="128.0"/>
<circle class="b" cx="162.1" cy="119.5"/>
<circle class="b" cx="172.3" cy="110.6"/>
<circle class="b" cx="175.2" cy="112.5"/>
<circle class="b" cx="177.4" cy="112.5"/>
<circle class="r" cx="175.5" cy="121.6"/>
<circle class="b" cx="166.9" cy="109.8"/>
<circle class="b" cx="174.8" cy="114.9"/>
<circle class="b" cx="176.1" cy="123.8"/>
<circle class="b" cx="163.6" cy="102.3"/>
<circle class="b" cx="168.2" cy="106.5"/>
<circle class="b" cx="188.1" cy="131.6"/>
<circle class="r" cx="173.9" cy="106.9"/>
<circle class="b" cx="184.5" cy="121.9"/>
<circle class="b" cx="175.6" cy="125.6"/>
<circle class="b" cx="174.3" cy="111.0"/>
<circle class="b" cx="166.3" cy="98.8"/>
<circle class="r" cx="172.0" cy="122.5"/>
<circle class="b" cx="165.3" cy="117.6"/>
<circle class="b" cx="172.9" cy="107.8"/>
<circle class="b" cx="166.8" cy="107.9"/>
<circle class="b" cx="169.9" cy="117.0"/>
<circle class="b" cx="165.6" cy="109.9"/>
<circle class="b" cx="166.3" cy="122.4"/>
<circle class="b" cx="179.5" cy="116.1"/>
<circle class="b" cx="170.1" cy="111.9"/>
<circle class="b" cx="182.3" cy="115.6"/>
<circle class="b" cx="180.7" cy="120.1"/>
<circle class="b" cx="186.5" cy="122.8"/>
<circle class="b" cx="174.4" cy="117.8"/>
<circle class="b" cx="178.7" cy="100.1"/>
<circle class="b" cx="170.6" cy="102.5"/>
<circle class="b" cx="169.2" cy="129.6"/>
<circle class="b" cx="187.4" cy="120.1"/>
<circle class="b" cx="172.5" cy="105.2"/>
<circle class="b" cx="180.0" cy="115.5"/>
<circle class="b" cx="169.8" cy="110.6"/>
<circle class="b" cx="162.1" cy="127.8"/>
<circle class="b" cx="162.9" cy="109.1"/>
<circle class="b" cx="166.0" cy="111.0"/>
<circle class="b" cx="169.2" cy="116.6"/>
<circle class="b" cx="166.9" cy="114.8"/>
<circle class="b" cx="179.5" cy="107.4"/>
<circle class="b" cx="173.7" cy="109.5"/>
<circle class="b" cx="164.2" cy="126.8"/>
<circle class="r" cx="176.7" cy="100.2"/>
<circle class="b" cx="165.2" cy="118.5"/>
<circle class="b" cx="162.4" cy="105.0"/>
<circle class="b" cx="166.0" cy="125.2"/>
<circle class="b" cx="164.3" cy="123.2"/>
<circle class="b" cx="164.7" cy="124.3"/>
<circle class="b" cx="173.9" cy="102.5"/>
<circle class="b" cx="176.5" cy="130.9"/>
<circle class="b" cx="175.3" cy="120.2"/>
<circle class="b" cx="167.2" cy="128.8"/>
<circle class="b" cx="174.3" cy="130.9"/>
<circle class="b" cx="171.6" cy="109.7"/>
<circle class="b" cx="166.9" cy="122.1"/>
<circle class="b" cx="162.9" cy="114.8"/>
<circle class="b" cx="190.6" cy="127.6"/>
<circle class="b" cx="169.4" cy="117.1"/>
<circle class="b" cx="167.6" cy="125.2"/>
<circle class="b" cx="171.5" cy="123.1"/>
<circle class="b" cx="200.3" cy="127.6"/>
<circle class="r" cx="183.1" cy="111.7"/>
<circle class="r" cx="165.0" cy="114.3"/>
<circle class="b" cx="167.1" cy="101.4"/>
<circle class="b" cx="169.1" cy="116.4"/>
<circle class="b" cx="163.6" cy="114.3"/>
<circle class="b" cx="177.5" cy="119.0"/>
<circle class="b" cx="170.4" cy="110.4"/>
<circle class="b" cx="170.3" cy="133.2"/>
<circle class="b" cx="164.9" cy="107.1"/>
<circle class="b" cx="179.6" cy="127.0"/>
<circle class="b" cx="175.8" cy="117.3"/>
<circle class="r" cx="168.1" cy="127.3"/>
<circle class="b" cx="164.4" cy="121.2"/>
<circle class="b" cx="165.0" cy="112.2"/>
<circle class="b" cx="171.7" cy="119.1"/>
<circle class="b" cx="169.1" cy="115.8"/>
<circle class="b" cx="163.2" cy="114.5"/>
<circle class="b" cx="169.1" cy="118.3"/>
<circle class="b" cx="169.9" cy="121.5"/>
<circle class="b" cx="164.3" cy="105.5"/>
<circle class="b" cx="169.2" cy="110.8"/>
<circle class="b" cx="166.8" cy="115.1"/>
<circle class="b" cx="171.4" cy="121.2"/>
<circle class="b" cx="169.8" cy="113.4"/>
<circle class="b" cx="209.7" cy="112.9"/>
<circle class="b" cx="170.3" cy="98.2"/>
<circle class="b" cx="176.4" cy="115.2"/>
<circle class="b" cx="166.9" cy="125.0"/>
<circle class="b" cx="178.6" cy="112.0"/>
<circle class="b" cx="172.8" cy="127.1"/>
<circle class="b" cx="167.6" cy="94.4"/>
<circle class="b" cx="191.7" cy="132.8"/>
<circle class="b" cx="171.3" cy="117.1"/>
<circle class="r" cx="170.6" cy="110.6"/>
<circle class="b" cx="163.4" cy="113.5"/>
<circle class="b" cx="165.7" cy="126.1"/>
<circle class="b" cx="180.2" cy="120.3"/>
<circle class="b" cx="177.6" cy="109.8"/>
<circle class="b" cx="162.6" cy="114.8"/>
<circle class="b" cx="162.5" cy="133.0"/>
<circle class="b" cx="166.3" cy="112.2"/>
<circle class="b" cx="184.0" cy="129.8"/>
<circle class="r" cx="176.9" cy="108.7"/>
<circle class="b" cx="183.1" cy="111.9"/>
<circle class="b" cx="162.6" cy="107.1"/>
<circle class="b" cx="166.4" cy="118.2"/>
<circle class="b" cx="172.2" cy="114.5"/>
<circle class="b" cx="163.6" cy="122.2"/>
<circle class="b" cx="166.7" cy="123.1"/>
<circle class="b" cx="170.7" cy="125.6"/>
<circle class="b" cx="183.3" cy="125.0"/>
<circle class="b" cx="177.0" cy="120.8"/>
<circle class="b" cx="171.0" cy="109.4"/>
<circle class="b" cx="168.9" cy="109.2"/>
<circle class="b" cx="169.0" cy="116.5"/>
<circle class="b" cx="171.6" cy="116.7"/>
<circle class="b" cx="179.6" cy="118.7"/>
<circle class="b" cx="169.9" cy="112.1"/>
<circle class="b" cx="185.2" cy="111.4"/>
<circle class="b" cx="186.8" cy="103.6"/>
<circle class="b" cx="186.2" cy="114.0"/>
<circle class="r" cx="184.7" cy="120.0"/>
<circle class="b" cx="182.7" cy="108.6"/>
<circle class="b" cx="196.8" cy="120.3"/>
<circle class="b" cx="181.4" cy="104.7"/>
<circle class="b" cx="183.0" cy="115.4"/>
<circle class="b" cx="186.3" cy="116.2"/>
<circle class="b" cx="183.8" cy="120.3"/>
<circle class="b" cx="193.6" cy="106.8"/>
<circle class="b" cx="182.4" cy="117.3"/>
<circle class="b" cx="185.3" cy="109.3"/>
<circle class="b" cx="192.1" cy="115.0"/>
<circle class="b" cx="185.7" cy="118.6"/>
<circle class="b" cx="191.5" cy="119.7"/>
<circle class="b" cx="203.3" cy="122.3"/>
<circle class="b" cx="190.1" cy="122.7"/>
<circle class="b" cx="181.5" cy="107.1"/>
<circle class="b" cx="187.2" cy="126.9"/>
<circle class="b" cx="193.1" cy="122.7"/>
<circle class="b" cx="183.1" cy="110.2"/>
<circle class="b" cx="191.0" cy="124.8"/>
<circle class="b" cx="180.4" cy="119.6"/>
<circle class="b" cx="191.8" cy="126.5"/>
<circle class="b" cx="190.8" cy="110.5"/>
<circle class="b" cx="182.0" cy="108.9"/>
<circle class="b" cx="196.1" cy="120.5"/>
<circle class="b" cx="186.2" cy="100.5"/>
<circle class="b" cx="204.3" cy="94.7"/>
<circle class="b" cx="188.1" cy="94.3"/>
<circle class="b" cx="183.2" cy="107.3"/>
<circle class="b" cx="201.2" cy="126.1"/>
<circle class="b" cx="199.2" cy="116.8"/>
<circle class="b" cx="180.8" cy="104.5"/>
<circle class="b" cx="183.5" cy="125.4"/>
<circle class="b" cx="199.8" cy="125.8"/>
<circle class="b" cx="204.1" cy="111.3"/>
<circle class="r" cx="182.6" cy="117.1"/>
<circle class="b" cx="180.9" cy="101.4"/>
<circle class="r" cx="189.7" cy="112.1"/>
<circle class="b" cx="183.3" cy="125.2"/>
<circle class="b" cx="199.3" cy="104.8"/>
<circle class="b" cx="189.6" cy="127.3"/>
<circle class="r" cx="220.0" cy="96.0"/>
<circle class="b" cx="222.0" cy="101.1"/>
<circle class="b" cx="224.0" cy="103.1"/>
<circle class="b" cx="226.0" cy="104.1"/>
<circle class="b" cx="232.0" cy="109.1"/>
<circle class="b" cx="230.0" cy="116.1"/>
<circle class="b" cx="217.0" cy="116.1"/>
<circle class="r" cx="238.0" cy="124.1"/>
<circle class="b" cx="210.0" cy="127.1"/>
<circle class="r" cx="205.0" cy="110.1"/>
<circle class="r" cx="212.0" cy="104.1"/>
<circle class="r" cx="142.9" cy="105.0"/>
<circle class="r" cx="84.4" cy="102.3"/>
<circle class="b" cx="79.1" cy="125.0"/>
<circle class="r" cx="146.0" cy="91.9"/>
<circle class="r" cx="85.9" cy="106.6"/>
<circle class="b" cx="147.3" cy="100.8"/>
<circle class="b" cx="127.8" cy="107.8"/>
<circle class="b" cx="159.0" cy="114.2"/>
<circle class="b" cx="93.4" cy="128.2"/>
<circle class="r" cx="137.1" cy="129.1"/>
<circle class="r" cx="92.6" cy="117.7"/>
<circle class="r" cx="77.3" cy="122.5"/>
<circle class="r" cx="104.5" cy="118.2"/>
<circle class="r" cx="99.4" cy="96.2"/>
<circle class="b" cx="126.7" cy="114.1"/>
<circle class="b" cx="86.8" cy="118.6"/>
<circle class="b" cx="134.3" cy="117.6"/>
<circle class="b" cx="85.7" cy="110.2"/>
<circle class="r" cx="155.0" cy="120.1"/>
<circle class="b" cx="92.5" cy="118.6"/>
<circle class="b" cx="159.6" cy="118.5"/>
<circle class="b" cx="106.3" cy="129.6"/>
<circle class="r" cx="102.1" cy="117.1"/>
<circle class="b" cx="129.0" cy="107.9"/>
<circle class="r" cx="111.7" cy="106.3"/>
<circle class="b" cx="114.4" cy="122.5"/>
<circle class="r" cx="118.5" cy="101.3"/>
<circle class="r" cx="135.1" cy="115.4"/>
<circle class="b" cx="95.7" cy="120.0"/>
<circle class="b" cx="149.3" cy="116.2"/>
<circle class="b" cx="100.1" cy="100.6"/>
<circle class="r" cx="114.2" cy="125.6"/>
<circle class="b" cx="154.4" cy="126.4"/>
<circle class="b" cx="126.5" cy="98.8"/>
<circle class="r" cx="113.7" cy="100.1"/>
<circle class="r" cx="99.6" cy="106.7"/>
<circle class="r" cx="113.0" cy="102.0"/>
<circle class="b" cx="134.4" cy="114.3"/>
<circle class="b" cx="132.5" cy="111.1"/>
<circle class="b" cx="87.1" cy="99.3"/>
<circle class="b" cx="151.2" cy="111.6"/>
<circle class="b" cx="104.7" cy="99.1"/>
<circle class="r" cx="144.9" cy="102.2"/>
<circle class="b" cx="121.9" cy="124.3"/>
<circle class="b" cx="84.4" cy="107.4"/>
<circle class="b" cx="106.5" cy="114.6"/>
<circle class="b" cx="107.5" cy="114.5"/>
<circle class="r" cx="104.9" cy="128.9"/>
<circle class="b" cx="151.4" cy="109.1"/>
<circle class="r" cx="129.2" cy="112.3"/>
<circle class="r" cx="115.4" cy="120.1"/>
<circle class="b" cx="102.5" cy="101.4"/>
<circle class="b" cx="132.4" cy="130.9"/>
<circle class="r" cx="158.0" cy="99.6"/>
<circle class="r" cx="145.6" cy="112.1"/>
<circle class="b" cx="130.6" cy="124.0"/>
<circle class="r" cx="81.6" cy="123.2"/>
<circle class="r" cx="131.1" cy="108.7"/>
<circle class="r" cx="94.3" cy="103.4"/>
<circle class="b" cx="107.1" cy="112.0"/>
<circle class="b" cx="88.0" cy="126.9"/>
<circle class="b" cx="83.0" cy="99.5"/>
<circle class="b" cx="90.0" cy="121.3"/>
<circle class="r" cx="138.3" cy="124.9"/>
<circle class="r" cx="97.3" cy="104.3"/>
<circle class="b" cx="141.2" cy="129.3"/>
<circle class="b" cx="86.1" cy="113.6"/>
<circle class="b" cx="148.2" cy="111.1"/>
<circle class="b" cx="155.3" cy="109.4"/>
<circle class="r" cx="105.5" cy="113.1"/>
<circle class="r" cx="121.0" cy="117.1"/>
<circle class="r" cx="142.3" cy="112.7"/>
<circle class="b" cx="101.3" cy="117.6"/>
<circle class="b" cx="123.7" cy="111.8"/>
<circle class="b" cx="86.9" cy="99.4"/>
<circle class="b" cx="100.7" cy="104.0"/>
<circle class="b" cx="141.3" cy="111.3"/>
<circle class="r" cx="80.6" cy="99.2"/>
<circle class="r" cx="94.3" cy="126.0"/>
<circle class="b" cx="114.6" cy="107.0"/>
<circle class="r" cx="147.5" cy="93.2"/>
<circle class="b" cx="89.0" cy="97.4"/>
<circle class="b" cx="157.5" cy="123.5"/>
<circle class="b" cx="127.4" cy="113.4"/>
<circle class="b" cx="148.6" cy="99.6"/>
<circle class="b" cx="76.9" cy="114.3"/>
<circle class="b" cx="88.9" cy="103.4"/>
<circle class="b" cx="135.9" cy="129.1"/>
<circle class="r" cx="89.2" cy="114.3"/>
<circle class="r" cx="85.3" cy="112.1"/>
<circle class="b" cx="101.3" cy="94.9"/>
<circle class="b" cx="147.2" cy="115.1"/>
<circle class="b" cx="79.9" cy="115.7"/>
<circle class="b" cx="97.9" cy="109.1"/>
<circle class="b" cx="85.4" cy="102.3"/>
<circle class="r" cx="117.1" cy="116.7"/>
<circle class="r" cx="130.9" cy="89.8"/>
<circle class="b" cx="123.7" cy="130.3"/>
<circle class="b" cx="118.1" cy="101.7"/>
<circle class="b" cx="101.1" cy="118.3"/>
<circle class="b" cx="138.1" cy="112.1"/>
<circle class="r" cx="112.1" cy="100.2"/>
<circle class="b" cx="116.1" cy="119.4"/>
<circle class="r" cx="113.9" cy="101.7"/>
<circle class="r" cx="80.2" cy="109.3"/>
<circle class="b" cx="120.3" cy="115.1"/>
<circle class="b" cx="122.0" cy="118.3"/>
<circle class="b" cx="84.3" cy="106.5"/>
<circle class="r" cx="107.2" cy="116.9"/>
<circle class="r" cx="95.3" cy="99.0"/>
<circle class="b" cx="139.0" cy="113.1"/>
<circle class="b" cx="110.2" cy="111.4"/>
<circle class="b" cx="157.2" cy="95.6"/>
<circle class="b" cx="156.7" cy="110.8"/>
<circle class="r" cx="106.7" cy="120.8"/>
<circle class="b" cx="101.3" cy="118.1"/>
<circle class="r" cx="127.2" cy="120.2"/>
<circle class="r" cx="117.8" cy="117.0"/>
<circle class="r" cx="119.4" cy="111.4"/>
<circle class="r" cx="83.8" cy="115.4"/>
<circle class="r" cx="80.0" cy="80.3"/>
<circle class="b" cx="87.0" cy="80.3"/>
<circle class="r" cx="93.0" cy="80.3"/>
<circle class="g" cx="142.5" cy="71.5"/>
<circle class="g" cx="85.6" cy="64.6"/>
<circle class="g" cx="73.5" cy="70.9"/>
<circle class="g" cx="73.4" cy="77.1"/>
</g></g>
<line x1="78.6" x2="94" y1="105.26" y2="105.26" stroke="#5cc65c" stroke-width="1.5"/>
<line x1="78.6" x2="94" y1="113.07" y2="113.07" stroke="#5cc65c" stroke-width="1.5"/>
<line x1="94" x2="160.5" y1="113.07" y2="113.07" stroke="#5cc65c" stroke-width="1.5"/>
<line x1="94" x2="160.5" y1="120.88" y2="120.88" stroke="#5cc65c" stroke-width="1.5"/>
<line x1="160.5" x2="245.5" y1="120.88" y2="120.88" stroke="#5cc65c" stroke-width="1.5"/>
<line x1="160.5" x2="245.5" y1="126.50" y2="126.50" stroke="#5cc65c" stroke-width="1.5"/>
<line x1="58.3" x2="58.3" y1="58.0" y2="137.0" stroke="#8c8c8c" stroke-width="1"/>
<line x1="58.3" x2="73.6" y1="136.5" y2="136.5" stroke="#8c8c8c" stroke-width="1"/>
<line x1="78" x2="158.5" y1="136.5" y2="136.5" stroke="#8c8c8c" stroke-width="1"/>
<line x1="162" x2="244.8" y1="136.5" y2="136.5" stroke="#8c8c8c" stroke-width="1"/>
<line x1="55.9" x2="58.3" y1="136.50" y2="136.50" stroke="#8c8c8c" stroke-width="0.8"/>
<text x="55.599999999999994" y="138.30" font-size="5.1" text-anchor="end" font-family="Liberation Sans, sans-serif" font-weight="bold" stroke="#000" stroke-width="0.22">0.0</text>
<line x1="55.9" x2="58.3" y1="127.13" y2="127.13" stroke="#8c8c8c" stroke-width="0.8"/>
<text x="55.599999999999994" y="128.93" font-size="5.1" text-anchor="end" font-family="Liberation Sans, sans-serif" font-weight="bold" stroke="#000" stroke-width="0.22">0.3</text>
<line x1="55.9" x2="58.3" y1="120.88" y2="120.88" stroke="#8c8c8c" stroke-width="0.8"/>
<text x="55.599999999999994" y="122.68" font-size="5.1" text-anchor="end" font-family="Liberation Sans, sans-serif" font-weight="bold" stroke="#000" stroke-width="0.22">0.5</text>
<line x1="55.9" x2="58.3" y1="111.51" y2="111.51" stroke="#8c8c8c" stroke-width="0.8"/>
<text x="55.599999999999994" y="113.31" font-size="5.1" text-anchor="end" font-family="Liberation Sans, sans-serif" font-weight="bold" stroke="#000" stroke-width="0.22">0.8</text>
<line x1="55.9" x2="58.3" y1="105.26" y2="105.26" stroke="#8c8c8c" stroke-width="0.8"/>
<text x="55.599999999999994" y="107.06" font-size="5.1" text-anchor="end" font-family="Liberation Sans, sans-serif" font-weight="bold" stroke="#000" stroke-width="0.22">1.0</text>
<line x1="55.9" x2="58.3" y1="89.64" y2="89.64" stroke="#8c8c8c" stroke-width="0.8"/>
<text x="55.599999999999994" y="91.44" font-size="5.1" text-anchor="end" font-family="Liberation Sans, sans-serif" font-weight="bold" stroke="#000" stroke-width="0.22">1.5</text>
<line x1="55.9" x2="58.3" y1="74.02" y2="74.02" stroke="#8c8c8c" stroke-width="0.8"/>
<text x="55.599999999999994" y="75.82" font-size="5.1" text-anchor="end" font-family="Liberation Sans, sans-serif" font-weight="bold" stroke="#000" stroke-width="0.22">2.0</text>
<line x1="55.9" x2="58.3" y1="58.40" y2="58.40" stroke="#8c8c8c" stroke-width="0.8"/>
<text x="55.599999999999994" y="60.20" font-size="5.1" text-anchor="end" font-family="Liberation Sans, sans-serif" font-weight="bold" stroke="#000" stroke-width="0.22">2.5</text>
<text x="78.5" y="142.80" font-size="5.1" text-anchor="middle" font-family="Liberation Sans, sans-serif" font-weight="bold" stroke="#000" stroke-width="0.22">0</text>
<text x="93.5" y="142.80" font-size="5.1" text-anchor="middle" font-family="Liberation Sans, sans-serif" font-weight="bold" stroke="#000" stroke-width="0.22">24</text>
<text x="160.2" y="142.80" font-size="5.1" text-anchor="middle" font-family="Liberation Sans, sans-serif" font-weight="bold" stroke="#000" stroke-width="0.22">120</text>
<text x="244.8" y="142.80" font-size="5.1" text-anchor="middle" font-family="Liberation Sans, sans-serif" font-weight="bold" stroke="#000" stroke-width="0.22">1000</text>
<line x1="73.6" x2="73.6" y1="135.2" y2="137.8" stroke="#8c8c8c" stroke-width="0.9"/>
<line x1="78" x2="78" y1="135.2" y2="137.8" stroke="#8c8c8c" stroke-width="0.9"/>
<line x1="158.5" x2="158.5" y1="135.2" y2="137.8" stroke="#8c8c8c" stroke-width="0.9"/>
<line x1="162" x2="162" y1="135.2" y2="137.8" stroke="#8c8c8c" stroke-width="0.9"/>
<text x="110.2" y="149.00" font-size="5.6" font-family="Liberation Sans, sans-serif" font-weight="bold" stroke="#000" stroke-width="0.22">Time (hours)</text>
<text transform="translate(45.2,98.0) rotate(-90)" font-size="5.6" text-anchor="middle" font-family="Liberation Sans, sans-serif" font-weight="bold" stroke="#000" stroke-width="0.22">FVIII plasma level (IU/ml<tspan font-size="3.6" dy="-1.8">-1</tspan><tspan dy="1.8">)</tspan></text>
<text x="114.7" y="45.30" font-size="7.6" text-anchor="middle" font-family="Liberation Sans, sans-serif" font-weight="bold" stroke="#000" stroke-width="0.22">Adults</text>
<circle cx="184" cy="61.3" r="0.7" fill="#555"/>
<text x="193.1" y="62.90" font-size="4.5" fill="#24245e" stroke="#24245e" stroke-width="0.15" font-family="Liberation Sans, sans-serif" font-weight="bold">continuous infusion</text>
<circle cx="184" cy="66.5" r="0.7" fill="#555"/>
<text x="193.1" y="68.10" font-size="4.5" fill="#d62a3c" stroke="#d62a3c" stroke-width="0.15" font-family="Liberation Sans, sans-serif" font-weight="bold">bolus infusion</text>
<rect x="323.7" y="58.4" width="15.5" height="78.1" fill="#dedede"/>
<rect x="323.6" y="105.26" width="16.4" height="7.50" fill="#e9f4e4" opacity="0.8"/>
<rect x="340" y="112.76" width="67.7" height="8.12" fill="#e9f4e4" opacity="0.8"/>
<rect x="407.7" y="120.88" width="83.1" height="5.94" fill="#e9f4e4" opacity="0.8"/>
<g filter="url(#db)">
<g opacity="0.45" class="h">
<circle class="b" cx="318.5" cy="106.7"/>
<circle class="r" cx="318.6" cy="124.7"/>
<circle class="b" cx="318.7" cy="122.4"/>
<circle class="b" cx="318.4" cy="99.9"/>
<circle class="r" cx="319.2" cy="99.9"/>
<circle class="r" cx="318.6" cy="122.4"/>
<circle class="r" cx="318.3" cy="97.8"/>
<circle class="b" cx="318.6" cy="128.6"/>
<circle class="r" cx="319.0" cy="108.7"/>
<circle class="r" cx="318.9" cy="110.5"/>
<circle class="b" cx="323.0" cy="117.9"/>
<circle class="b" cx="324.9" cy="112.9"/>
<circle class="b" cx="326.4" cy="117.4"/>
<circle class="b" cx="324.9" cy="112.0"/>
<circle class="b" cx="324.9" cy="120.6"/>
<circle class="r" cx="323.9" cy="134.2"/>
<circle class="r" cx="325.3" cy="113.2"/>
<circle class="r" cx="325.2" cy="120.8"/>
<circle class="b" cx="325.0" cy="120.0"/>
<circle class="b" cx="324.1" cy="108.5"/>
<circle class="r" cx="325.6" cy="106.3"/>
<circle class="b" cx="325.0" cy="114.9"/>
<circle class="b" cx="326.3" cy="100.5"/>
<circle class="b" cx="324.4" cy="121.0"/>
<circle class="b" cx="325.3" cy="108.6"/>
<circle class="b" cx="324.2" cy="91.3"/>
<circle class="b" cx="323.1" cy="118.8"/>
<circle class="b" cx="325.2" cy="102.7"/>
<circle class="r" cx="323.3" cy="115.3"/>
<circle class="b" cx="326.3" cy="99.1"/>
<circle class="b" cx="324.8" cy="111.1"/>
<circle class="r" cx="324.2" cy="108.0"/>
<circle class="b" cx="324.1" cy="129.4"/>
<circle class="b" cx="323.6" cy="111.0"/>
<circle class="b" cx="323.8" cy="101.7"/>
<circle class="b" cx="326.2" cy="102.7"/>
<circle class="b" cx="325.6" cy="101.5"/>
<circle class="b" cx="325.2" cy="103.8"/>
<circle class="b" cx="325.4" cy="104.6"/>
<circle class="b" cx="324.1" cy="117.3"/>
<circle class="b" cx="324.1" cy="104.1"/>
<circle class="b" cx="325.5" cy="118.4"/>
<circle class="b" cx="324.1" cy="116.5"/>
<circle class="r" cx="325.8" cy="112.5"/>
<circle class="b" cx="324.8" cy="117.5"/>
<circle class="b" cx="324.9" cy="97.4"/>
<circle class="b" cx="336.7" cy="114.6"/>
<circle class="b" cx="338.8" cy="105.1"/>
<circle class="b" cx="336.3" cy="101.8"/>
<circle class="r" cx="336.2" cy="106.5"/>
<circle class="r" cx="335.0" cy="120.2"/>
<circle class="b" cx="338.1" cy="116.7"/>
<circle class="b" cx="336.6" cy="111.0"/>
<circle class="r" cx="337.3" cy="115.6"/>
<circle class="b" cx="336.7" cy="95.6"/>
<circle class="r" cx="338.7" cy="108.5"/>
<circle class="r" cx="336.3" cy="116.1"/>
<circle class="r" cx="337.0" cy="107.2"/>
<circle class="r" cx="338.8" cy="116.0"/>
<circle class="r" cx="337.4" cy="115.2"/>
<circle class="b" cx="337.4" cy="117.5"/>
<circle class="b" cx="337.6" cy="101.2"/>
<circle class="r" cx="336.9" cy="114.3"/>
<circle class="b" cx="337.4" cy="123.0"/>
<circle class="r" cx="338.9" cy="123.2"/>
<circle class="r" cx="337.0" cy="119.2"/>
<circle class="b" cx="338.7" cy="115.7"/>
<circle class="r" cx="336.8" cy="94.8"/>
<circle class="r" cx="337.2" cy="118.3"/>
<circle class="r" cx="337.3" cy="109.7"/>
<circle class="r" cx="336.6" cy="113.1"/>
<circle class="b" cx="337.1" cy="105.1"/>
<circle class="b" cx="338.0" cy="104.1"/>
<circle class="b" cx="337.2" cy="104.4"/>
<circle class="r" cx="337.1" cy="101.2"/>
<circle class="b" cx="337.7" cy="115.2"/>
<circle class="r" cx="338.4" cy="124.8"/>
<circle class="b" cx="336.4" cy="118.5"/>
<circle class="r" cx="337.2" cy="122.3"/>
<circle class="b" cx="336.2" cy="128.1"/>
<circle class="r" cx="337.4" cy="118.2"/>
<circle class="b" cx="339.3" cy="104.6"/>
<circle class="r" cx="336.3" cy="99.8"/>
<circle class="b" cx="337.4" cy="102.0"/>
<circle class="b" cx="336.3" cy="101.2"/>
<circle class="r" cx="338.3" cy="115.1"/>
<circle class="r" cx="353.2" cy="116.0"/>
<circle class="r" cx="354.3" cy="94.1"/>
<circle class="b" cx="355.8" cy="101.2"/>
<circle class="b" cx="353.8" cy="115.6"/>
<circle class="r" cx="354.4" cy="115.2"/>
<circle class="r" cx="353.5" cy="114.6"/>
<circle class="b" cx="354.9" cy="113.5"/>
<circle class="r" cx="354.2" cy="115.1"/>
<circle class="b" cx="353.8" cy="115.6"/>
<circle class="b" cx="355.3" cy="111.2"/>
<circle class="b" cx="355.5" cy="114.3"/>
<circle class="b" cx="355.1" cy="123.9"/>
<circle class="b" cx="353.6" cy="113.5"/>
<circle class="r" cx="353.4" cy="113.9"/>
<circle class="r" cx="353.1" cy="114.3"/>
<circle class="b" cx="353.3" cy="113.0"/>
<circle class="b" cx="353.7" cy="120.9"/>
<circle class="b" cx="353.6" cy="112.8"/>
<circle class="r" cx="352.7" cy="112.3"/>
<circle class="b" cx="355.3" cy="114.8"/>
<circle class="b" cx="354.6" cy="108.1"/>
<circle class="b" cx="353.2" cy="102.6"/>
<circle class="b" cx="356.5" cy="121.1"/>
<circle class="b" cx="356.2" cy="118.6"/>
<circle class="r" cx="355.5" cy="127.2"/>
<circle class="r" cx="355.2" cy="111.9"/>
<circle class="r" cx="352.7" cy="119.5"/>
<circle class="r" cx="353.0" cy="120.1"/>
<circle class="r" cx="354.4" cy="114.4"/>
<circle class="b" cx="351.5" cy="115.5"/>
<circle class="b" cx="372.0" cy="110.7"/>
<circle class="b" cx="373.2" cy="127.6"/>
<circle class="r" cx="371.8" cy="111.2"/>
<circle class="r" cx="372.2" cy="123.2"/>
<circle class="b" cx="370.2" cy="112.9"/>
<circle class="r" cx="371.6" cy="127.4"/>
<circle class="b" cx="371.9" cy="111.5"/>
<circle class="b" cx="372.2" cy="107.0"/>
<circle class="b" cx="370.6" cy="115.6"/>
<circle class="b" cx="372.3" cy="96.6"/>
<circle class="r" cx="371.7" cy="112.4"/>
<circle class="r" cx="372.8" cy="119.3"/>
<circle class="b" cx="371.4" cy="115.9"/>
<circle class="b" cx="370.5" cy="109.7"/>
<circle class="b" cx="373.6" cy="109.3"/>
<circle class="r" cx="372.0" cy="111.7"/>
<circle class="r" cx="372.6" cy="109.9"/>
<circle class="b" cx="370.6" cy="110.6"/>
<circle class="b" cx="373.0" cy="112.2"/>
<circle class="r" cx="372.7" cy="112.1"/>
<circle class="r" cx="373.5" cy="109.0"/>
<circle class="r" cx="372.2" cy="114.0"/>
<circle class="b" cx="372.3" cy="113.4"/>
<circle class="r" cx="370.0" cy="108.8"/>
<circle class="r" cx="370.3" cy="98.4"/>
<circle class="b" cx="372.3" cy="111.3"/>
<circle class="b" cx="372.2" cy="97.9"/>
<circle class="b" cx="370.9" cy="105.5"/>
<circle class="r" cx="374.1" cy="125.7"/>
<circle class="b" cx="371.1" cy="108.4"/>
<circle class="r" cx="387.4" cy="130.9"/>
<circle class="b" cx="386.1" cy="109.0"/>
<circle class="r" cx="386.4" cy="115.4"/>
<circle class="b" cx="385.6" cy="125.6"/>
<circle class="b" cx="385.2" cy="117.4"/>
<circle class="r" cx="388.2" cy="118.6"/>
<circle class="r" cx="386.7" cy="117.6"/>
<circle class="r" cx="387.5" cy="121.3"/>
<circle class="r" cx="387.6" cy="105.8"/>
<circle class="r" cx="389.2" cy="123.2"/>
<circle class="r" cx="385.7" cy="106.0"/>
<circle class="r" cx="388.0" cy="110.9"/>
<circle class="b" cx="387.6" cy="120.8"/>
<circle class="r" cx="388.0" cy="111.5"/>
<circle class="r" cx="388.2" cy="126.8"/>
<circle class="r" cx="388.0" cy="121.7"/>
<circle class="b" cx="386.6" cy="116.8"/>
<circle class="b" cx="386.7" cy="103.2"/>
<circle class="r" cx="402.5" cy="116.2"/>
<circle class="b" cx="401.9" cy="116.3"/>
<circle class="r" cx="401.8" cy="114.4"/>
<circle class="r" cx="402.7" cy="113.0"/>
<circle class="b" cx="401.0" cy="119.6"/>
<circle class="r" cx="402.1" cy="124.6"/>
<circle class="r" cx="402.3" cy="118.5"/>
<circle class="r" cx="402.1" cy="115.5"/>
<circle class="b" cx="401.5" cy="108.9"/>
<circle class="r" cx="402.8" cy="120.8"/>
<circle class="b" cx="402.4" cy="113.5"/>
<circle class="r" cx="401.4" cy="119.7"/>
<circle class="r" cx="402.6" cy="132.3"/>
<circle class="r" cx="400.9" cy="115.8"/>
<circle class="b" cx="402.5" cy="122.9"/>
<circle class="b" cx="413.9" cy="96.8"/>
<circle class="b" cx="413.2" cy="118.0"/>
<circle class="r" cx="413.1" cy="127.2"/>
<circle class="b" cx="413.6" cy="116.0"/>
<circle class="b" cx="413.8" cy="104.2"/>
<circle class="b" cx="413.0" cy="115.9"/>
<circle class="b" cx="413.3" cy="101.3"/>
<circle class="b" cx="411.5" cy="117.7"/>
<circle class="b" cx="412.4" cy="116.5"/>
<circle class="b" cx="413.8" cy="117.0"/>
<circle class="b" cx="413.8" cy="115.9"/>
<circle class="r" cx="412.3" cy="123.9"/>
<circle class="r" cx="411.6" cy="115.5"/>
<circle class="r" cx="412.6" cy="109.7"/>
<circle class="b" cx="414.0" cy="126.0"/>
<circle class="r" cx="411.9" cy="111.9"/>
<circle class="r" cx="412.1" cy="115.7"/>
<circle class="r" cx="413.6" cy="121.3"/>
<circle class="r" cx="405.6" cy="103.0"/>
<circle class="b" cx="353.1" cy="130.1"/>
<circle class="b" cx="376.6" cy="106.9"/>
<circle class="b" cx="353.6" cy="115.4"/>
<circle class="r" cx="391.2" cy="113.5"/>
<circle class="b" cx="352.7" cy="102.3"/>
<circle class="r" cx="406.4" cy="115.5"/>
<circle class="r" cx="388.7" cy="110.5"/>
<circle class="r" cx="365.6" cy="124.9"/>
<circle class="r" cx="404.7" cy="118.6"/>
<circle class="r" cx="377.0" cy="115.0"/>
<circle class="r" cx="375.8" cy="114.3"/>
<circle class="r" cx="360.3" cy="126.5"/>
<circle class="r" cx="373.4" cy="120.6"/>
<circle class="b" cx="348.1" cy="125.4"/>
<circle class="b" cx="385.6" cy="114.5"/>
<circle class="r" cx="408.0" cy="116.5"/>
<circle class="r" cx="347.8" cy="104.7"/>
<circle class="r" cx="396.4" cy="112.9"/>
<circle class="r" cx="396.3" cy="97.1"/>
<circle class="b" cx="359.3" cy="105.5"/>
<circle class="b" cx="371.0" cy="121.0"/>
<circle class="r" cx="417.0" cy="127.1"/>
<circle class="r" cx="422.0" cy="130.1"/>
<circle class="r" cx="428.0" cy="109.1"/>
<circle class="r" cx="432.0" cy="109.1"/>
<circle class="r" cx="427.0" cy="117.1"/>
<circle class="r" cx="438.0" cy="118.1"/>
<circle class="r" cx="443.0" cy="113.1"/>
<circle class="b" cx="448.0" cy="112.1"/>
<circle class="r" cx="443.0" cy="130.1"/>
<circle class="b" cx="448.0" cy="130.1"/>
<circle class="b" cx="425.0" cy="134.1"/>
<circle class="b" cx="418.0" cy="104.1"/>
<circle class="b" cx="345.0" cy="91.0"/>
<circle class="r" cx="348.0" cy="100.1"/>
<circle class="b" cx="366.0" cy="95.0"/>
<circle class="b" cx="386.0" cy="96.0"/>
<circle class="r" cx="381.0" cy="101.1"/>
<circle class="g" cx="318.5" cy="70.9"/>
</g><g class="s">
<circle class="b" cx="318.5" cy="106.7"/>
<circle class="r" cx="318.6" cy="124.7"/>
<circle class="b" cx="318.7" cy="122.4"/>
<circle class="b" cx="318.4" cy="99.9"/>
<circle class="r" cx="319.2" cy="99.9"/>
<circle class="r" cx="318.6" cy="122.4"/>
<circle class="r" cx="318.3" cy="97.8"/>
<circle class="b" cx="318.6" cy="128.6"/>
<circle class="r" cx="319.0" cy="108.7"/>
<circle class="r" cx="318.9" cy="110.5"/>
<circle class="b" cx="323.0" cy="117.9"/>
<circle class="b" cx="324.9" cy="112.9"/>
<circle class="b" cx="326.4" cy="117.4"/>
<circle class="b" cx="324.9" cy="112.0"/>
<circle class="b" cx="324.9" cy="120.6"/>
<circle class="r" cx="323.9" cy="134.2"/>
<circle class="r" cx="325.3" cy="113.2"/>
<circle class="r" cx="325.2" cy="120.8"/>
<circle class="b" cx="325.0" cy="120.0"/>
<circle class="b" cx="324.1" cy="108.5"/>
<circle class="r" cx="325.6" cy="106.3"/>
<circle class="b" cx="325.0" cy="114.9"/>
<circle class="b" cx="326.3" cy="100.5"/>
<circle class="b" cx="324.4" cy="121.0"/>
<circle class="b" cx="325.3" cy="108.6"/>
<circle class="b" cx="324.2" cy="91.3"/>
<circle class="b" cx="323.1" cy="118.8"/>
<circle class="b" cx="325.2" cy="102.7"/>
<circle class="r" cx="323.3" cy="115.3"/>
<circle class="b" cx="326.3" cy="99.1"/>
<circle class="b" cx="324.8" cy="111.1"/>
<circle class="r" cx="324.2" cy="108.0"/>
<circle class="b" cx="324.1" cy="129.4"/>
<circle class="b" cx="323.6" cy="111.0"/>
<circle class="b" cx="323.8" cy="101.7"/>
<circle class="b" cx="326.2" cy="102.7"/>
<circle class="b" cx="325.6" cy="101.5"/>
<circle class="b" cx="325.2" cy="103.8"/>
<circle class="b" cx="325.4" cy="104.6"/>
<circle class="b" cx="324.1" cy="117.3"/>
<circle class="b" cx="324.1" cy="104.1"/>
<circle class="b" cx="325.5" cy="118.4"/>
<circle class="b" cx="324.1" cy="116.5"/>
<circle class="r" cx="325.8" cy="112.5"/>
<circle class="b" cx="324.8" cy="117.5"/>
<circle class="b" cx="324.9" cy="97.4"/>
<circle class="b" cx="336.7" cy="114.6"/>
<circle class="b" cx="338.8" cy="105.1"/>
<circle class="b" cx="336.3" cy="101.8"/>
<circle class="r" cx="336.2" cy="106.5"/>
<circle class="r" cx="335.0" cy="120.2"/>
<circle class="b" cx="338.1" cy="116.7"/>
<circle class="b" cx="336.6" cy="111.0"/>
<circle class="r" cx="337.3" cy="115.6"/>
<circle class="b" cx="336.7" cy="95.6"/>
<circle class="r" cx="338.7" cy="108.5"/>
<circle class="r" cx="336.3" cy="116.1"/>
<circle class="r" cx="337.0" cy="107.2"/>
<circle class="r" cx="338.8" cy="116.0"/>
<circle class="r" cx="337.4" cy="115.2"/>
<circle class="b" cx="337.4" cy="117.5"/>
<circle class="b" cx="337.6" cy="101.2"/>
<circle class="r" cx="336.9" cy="114.3"/>
<circle class="b" cx="337.4" cy="123.0"/>
<circle class="r" cx="338.9" cy="123.2"/>
<circle class="r" cx="337.0" cy="119.2"/>
<circle class="b" cx="338.7" cy="115.7"/>
<circle class="r" cx="336.8" cy="94.8"/>
<circle class="r" cx="337.2" cy="118.3"/>
<circle class="r" cx="337.3" cy="109.7"/>
<circle class="r" cx="336.6" cy="113.1"/>
<circle class="b" cx="337.1" cy="105.1"/>
<circle class="b" cx="338.0" cy="104.1"/>
<circle class="b" cx="337.2" cy="104.4"/>
<circle class="r" cx="337.1" cy="101.2"/>
<circle class="b" cx="337.7" cy="115.2"/>
<circle class="r" cx="338.4" cy="124.8"/>
<circle class="b" cx="336.4" cy="118.5"/>
<circle class="r" cx="337.2" cy="122.3"/>
<circle class="b" cx="336.2" cy="128.1"/>
<circle class="r" cx="337.4" cy="118.2"/>
<circle class="b" cx="339.3" cy="104.6"/>
<circle class="r" cx="336.3" cy="99.8"/>
<circle class="b" cx="337.4" cy="102.0"/>
<circle class="b" cx="336.3" cy="101.2"/>
<circle class="r" cx="338.3" cy="115.1"/>
<circle class="r" cx="353.2" cy="116.0"/>
<circle class="r" cx="354.3" cy="94.1"/>
<circle class="b" cx="355.8" cy="101.2"/>
<circle class="b" cx="353.8" cy="115.6"/>
<circle class="r" cx="354.4" cy="115.2"/>
<circle class="r" cx="353.5" cy="114.6"/>
<circle class="b" cx="354.9" cy="113.5"/>
<circle class="r" cx="354.2" cy="115.1"/>
<circle class="b" cx="353.8" cy="115.6"/>
<circle class="b" cx="355.3" cy="111.2"/>
<circle class="b" cx="355.5" cy="114.3"/>
<circle class="b" cx="355.1" cy="123.9"/>
<circle class="b" cx="353.6" cy="113.5"/>
<circle class="r" cx="353.4" cy="113.9"/>
<circle class="r" cx="353.1" cy="114.3"/>
<circle class="b" cx="353.3" cy="113.0"/>
<circle class="b" cx="353.7" cy="120.9"/>
<circle class="b" cx="353.6" cy="112.8"/>
<circle class="r" cx="352.7" cy="112.3"/>
<circle class="b" cx="355.3" cy="114.8"/>
<circle class="b" cx="354.6" cy="108.1"/>
<circle class="b" cx="353.2" cy="102.6"/>
<circle class="b" cx="356.5" cy="121.1"/>
<circle class="b" cx="356.2" cy="118.6"/>
<circle class="r" cx="355.5" cy="127.2"/>
<circle class="r" cx="355.2" cy="111.9"/>
<circle class="r" cx="352.7" cy="119.5"/>
<circle class="r" cx="353.0" cy="120.1"/>
<circle class="r" cx="354.4" cy="114.4"/>
<circle class="b" cx="351.5" cy="115.5"/>
<circle class="b" cx="372.0" cy="110.7"/>
<circle class="b" cx="373.2" cy="127.6"/>
<circle class="r" cx="371.8" cy="111.2"/>
<circle class="r" cx="372.2" cy="123.2"/>
<circle class="b" cx="370.2" cy="112.9"/>
<circle class="r" cx="371.6" cy="127.4"/>
<circle class="b" cx="371.9" cy="111.5"/>
<circle class="b" cx="372.2" cy="107.0"/>
<circle class="b" cx="370.6" cy="115.6"/>
<circle class="b" cx="372.3" cy="96.6"/>
<circle class="r" cx="371.7" cy="112.4"/>
<circle class="r" cx="372.8" cy="119.3"/>
<circle class="b" cx="371.4" cy="115.9"/>
<circle class="b" cx="370.5" cy="109.7"/>
<circle class="b" cx="373.6" cy="109.3"/>
<circle class="r" cx="372.0" cy="111.7"/>
<circle class="r" cx="372.6" cy="109.9"/>
<circle class="b" cx="370.6" cy="110.6"/>
<circle class="b" cx="373.0" cy="112.2"/>
<circle class="r" cx="372.7" cy="112.1"/>
<circle class="r" cx="373.5" cy="109.0"/>
<circle class="r" cx="372.2" cy="114.0"/>
<circle class="b" cx="372.3" cy="113.4"/>
<circle class="r" cx="370.0" cy="108.8"/>
<circle class="r" cx="370.3" cy="98.4"/>
<circle class="b" cx="372.3" cy="111.3"/>
<circle class="b" cx="372.2" cy="97.9"/>
<circle class="b" cx="370.9" cy="105.5"/>
<circle class="r" cx="374.1" cy="125.7"/>
<circle class="b" cx="371.1" cy="108.4"/>
<circle class="r" cx="387.4" cy="130.9"/>
<circle class="b" cx="386.1" cy="109.0"/>
<circle class="r" cx="386.4" cy="115.4"/>
<circle class="b" cx="385.6" cy="125.6"/>
<circle class="b" cx="385.2" cy="117.4"/>
<circle class="r" cx="388.2" cy="118.6"/>
<circle class="r" cx="386.7" cy="117.6"/>
<circle class="r" cx="387.5" cy="121.3"/>
<circle class="r" cx="387.6" cy="105.8"/>
<circle class="r" cx="389.2" cy="123.2"/>
<circle class="r" cx="385.7" cy="106.0"/>
<circle class="r" cx="388.0" cy="110.9"/>
<circle class="b" cx="387.6" cy="120.8"/>
<circle class="r" cx="388.0" cy="111.5"/>
<circle class="r" cx="388.2" cy="126.8"/>
<circle class="r" cx="388.0" cy="121.7"/>
<circle class="b" cx="386.6" cy="116.8"/>
<circle class="b" cx="386.7" cy="103.2"/>
<circle class="r" cx="402.5" cy="116.2"/>
<circle class="b" cx="401.9" cy="116.3"/>
<circle class="r" cx="401.8" cy="114.4"/>
<circle class="r" cx="402.7" cy="113.0"/>
<circle class="b" cx="401.0" cy="119.6"/>
<circle class="r" cx="402.1" cy="124.6"/>
<circle class="r" cx="402.3" cy="118.5"/>
<circle class="r" cx="402.1" cy="115.5"/>
<circle class="b" cx="401.5" cy="108.9"/>
<circle class="r" cx="402.8" cy="120.8"/>
<circle class="b" cx="402.4" cy="113.5"/>
<circle class="r" cx="401.4" cy="119.7"/>
<circle class="r" cx="402.6" cy="132.3"/>
<circle class="r" cx="400.9" cy="115.8"/>
<circle class="b" cx="402.5" cy="122.9"/>
<circle class="b" cx="413.9" cy="96.8"/>
<circle class="b" cx="413.2" cy="118.0"/>
<circle class="r" cx="413.1" cy="127.2"/>
<circle class="b" cx="413.6" cy="116.0"/>
<circle class="b" cx="413.8" cy="104.2"/>
<circle class="b" cx="413.0" cy="115.9"/>
<circle class="b" cx="413.3" cy="101.3"/>
<circle class="b" cx="411.5" cy="117.7"/>
<circle class="b" cx="412.4" cy="116.5"/>
<circle class="b" cx="413.8" cy="117.0"/>
<circle class="b" cx="413.8" cy="115.9"/>
<circle class="r" cx="412.3" cy="123.9"/>
<circle class="r" cx="411.6" cy="115.5"/>
<circle class="r" cx="412.6" cy="109.7"/>
<circle class="b" cx="414.0" cy="126.0"/>
<circle class="r" cx="411.9" cy="111.9"/>
<circle class="r" cx="412.1" cy="115.7"/>
<circle class="r" cx="413.6" cy="121.3"/>
<circle class="r" cx="405.6" cy="103.0"/>
<circle class="b" cx="353.1" cy="130.1"/>
<circle class="b" cx="376.6" cy="106.9"/>
<circle class="b" cx="353.6" cy="115.4"/>
<circle class="r" cx="391.2" cy="113.5"/>
<circle class="b" cx="352.7" cy="102.3"/>
<circle class="r" cx="406.4" cy="115.5"/>
<circle class="r" cx="388.7" cy="110.5"/>
<circle class="r" cx="365.6" cy="124.9"/>
<circle class="r" cx="404.7" cy="118.6"/>
<circle class="r" cx="377.0" cy="115.0"/>
<circle class="r" cx="375.8" cy="114.3"/>
<circle class="r" cx="360.3" cy="126.5"/>
<circle class="r" cx="373.4" cy="120.6"/>
<circle class="b" cx="348.1" cy="125.4"/>
<circle class="b" cx="385.6" cy="114.5"/>
<circle class="r" cx="408.0" cy="116.5"/>
<circle class="r" cx="347.8" cy="104.7"/>
<circle class="r" cx="396.4" cy="112.9"/>
<circle class="r" cx="396.3" cy="97.1"/>
<circle class="b" cx="359.3" cy="105.5"/>
<circle class="b" cx="371.0" cy="121.0"/>
<circle class="r" cx="417.0" cy="127.1"/>
<circle class="r" cx="422.0" cy="130.1"/>
<circle class="r" cx="428.0" cy="109.1"/>
<circle class="r" cx="432.0" cy="109.1"/>
<circle class="r" cx="427.0" cy="117.1"/>
<circle class="r" cx="438.0" cy="118.1"/>
<circle class="r" cx="443.0" cy="113.1"/>
<circle class="b" cx="448.0" cy="112.1"/>
<circle class="r" cx="443.0" cy="130.1"/>
<circle class="b" cx="448.0" cy="130.1"/>
<circle class="b" cx="425.0" cy="134.1"/>
<circle class="b" cx="418.0" cy="104.1"/>
<circle class="b" cx="345.0" cy="91.0"/>
<circle class="r" cx="348.0" cy="100.1"/>
<circle class="b" cx="366.0" cy="95.0"/>
<circle class="b" cx="386.0" cy="96.0"/>
<circle class="r" cx="381.0" cy="101.1"/>
<circle class="g" cx="318.5" cy="70.9"/>
</g></g>
<line x1="323.6" x2="340" y1="105.26" y2="105.26" stroke="#5cc65c" stroke-width="1.5"/>
<line x1="323.6" x2="340" y1="112.76" y2="112.76" stroke="#5cc65c" stroke-width="1.5"/>
<line x1="340" x2="407.7" y1="112.76" y2="112.76" stroke="#5cc65c" stroke-width="1.5"/>
<line x1="340" x2="407.7" y1="120.88" y2="120.88" stroke="#5cc65c" stroke-width="1.5"/>
<line x1="407.7" x2="490.8" y1="120.88" y2="120.88" stroke="#5cc65c" stroke-width="1.5"/>
<line x1="407.7" x2="490.8" y1="126.82" y2="126.82" stroke="#5cc65c" stroke-width="1.5"/>
<line x1="303.6" x2="303.6" y1="58.0" y2="137.0" stroke="#8c8c8c" stroke-width="1"/>
<line x1="303.6" x2="319.4" y1="136.5" y2="136.5" stroke="#8c8c8c" stroke-width="1"/>
<line x1="323.4" x2="404.8" y1="136.5" y2="136.5" stroke="#8c8c8c" stroke-width="1"/>
<line x1="408" x2="490.8" y1="136.5" y2="136.5" stroke="#8c8c8c" stroke-width="1"/>
<line x1="301.20000000000005" x2="303.6" y1="136.50" y2="136.50" stroke="#8c8c8c" stroke-width="0.8"/>
<text x="300.90000000000003" y="138.30" font-size="5.1" text-anchor="end" font-family="Liberation Sans, sans-serif" font-weight="bold" stroke="#000" stroke-width="0.22">0.0</text>
<line x1="301.20000000000005" x2="303.6" y1="127.13" y2="127.13" stroke="#8c8c8c" stroke-width="0.8"/>
<text x="300.90000000000003" y="128.93" font-size="5.1" text-anchor="end" font-family="Liberation Sans, sans-serif" font-weight="bold" stroke="#000" stroke-width="0.22">0.3</text>
<line x1="301.20000000000005" x2="303.6" y1="120.88" y2="120.88" stroke="#8c8c8c" stroke-width="0.8"/>
<text x="300.90000000000003" y="122.68" font-size="5.1" text-anchor="end" font-family="Liberation Sans, sans-serif" font-weight="bold" stroke="#000" stroke-width="0.22">0.5</text>
<line x1="301.20000000000005" x2="303.6" y1="111.51" y2="111.51" stroke="#8c8c8c" stroke-width="0.8"/>
<text x="300.90000000000003" y="113.31" font-size="5.1" text-anchor="end" font-family="Liberation Sans, sans-serif" font-weight="bold" stroke="#000" stroke-width="0.22">0.8</text>
<line x1="301.20000000000005" x2="303.6" y1="105.26" y2="105.26" stroke="#8c8c8c" stroke-width="0.8"/>
<text x="300.90000000000003" y="107.06" font-size="5.1" text-anchor="end" font-family="Liberation Sans, sans-serif" font-weight="bold" stroke="#000" stroke-width="0.22">1.0</text>
<line x1="301.20000000000005" x2="303.6" y1="89.64" y2="89.64" stroke="#8c8c8c" stroke-width="0.8"/>
<text x="300.90000000000003" y="91.44" font-size="5.1" text-anchor="end" font-family="Liberation Sans, sans-serif" font-weight="bold" stroke="#000" stroke-width="0.22">1.5</text>
<line x1="301.20000000000005" x2="303.6" y1="74.02" y2="74.02" stroke="#8c8c8c" stroke-width="0.8"/>
<text x="300.90000000000003" y="75.82" font-size="5.1" text-anchor="end" font-family="Liberation Sans, sans-serif" font-weight="bold" stroke="#000" stroke-width="0.22">2.0</text>
<line x1="301.20000000000005" x2="303.6" y1="58.40" y2="58.40" stroke="#8c8c8c" stroke-width="0.8"/>
<text x="300.90000000000003" y="60.20" font-size="5.1" text-anchor="end" font-family="Liberation Sans, sans-serif" font-weight="bold" stroke="#000" stroke-width="0.22">2.5</text>
<text x="323.8" y="142.80" font-size="5.1" text-anchor="middle" font-family="Liberation Sans, sans-serif" font-weight="bold" stroke="#000" stroke-width="0.22">0</text>
<text x="339" y="142.80" font-size="5.1" text-anchor="middle" font-family="Liberation Sans, sans-serif" font-weight="bold" stroke="#000" stroke-width="0.22">24</text>
<text x="406.3" y="142.80" font-size="5.1" text-anchor="middle" font-family="Liberation Sans, sans-serif" font-weight="bold" stroke="#000" stroke-width="0.22">120</text>
<text x="487.2" y="142.80" font-size="5.1" text-anchor="middle" font-family="Liberation Sans, sans-serif" font-weight="bold" stroke="#000" stroke-width="0.22">500</text>
<line x1="319.4" x2="319.4" y1="135.2" y2="137.8" stroke="#8c8c8c" stroke-width="0.9"/>
<line x1="323.4" x2="323.4" y1="135.2" y2="137.8" stroke="#8c8c8c" stroke-width="0.9"/>
<line x1="404.8" x2="404.8" y1="135.2" y2="137.8" stroke="#8c8c8c" stroke-width="0.9"/>
<line x1="408" x2="408" y1="135.2" y2="137.8" stroke="#8c8c8c" stroke-width="0.9"/>
<text x="349" y="149.00" font-size="5.6" font-family="Liberation Sans, sans-serif" font-weight="bold" stroke="#000" stroke-width="0.22">Time (hours)</text>
<text transform="translate(290.6,98.0) rotate(-90)" font-size="5.6" text-anchor="middle" font-family="Liberation Sans, sans-serif" font-weight="bold" stroke="#000" stroke-width="0.22">FVIII plasma level (IU/ml<tspan font-size="3.6" dy="-1.8">-1</tspan><tspan dy="1.8">)</tspan></text>
<text x="360" y="45.30" font-size="7.6" text-anchor="middle" font-family="Liberation Sans, sans-serif" font-weight="bold" stroke="#000" stroke-width="0.22">Children</text>
<circle cx="427.4" cy="63.4" r="0.7" fill="#555"/>
<text x="436.2" y="65.00" font-size="4.5" fill="#24245e" stroke="#24245e" stroke-width="0.15" font-family="Liberation Sans, sans-serif" font-weight="bold">continuous infusion</text>
<circle cx="427.4" cy="69" r="0.7" fill="#555"/>
<text x="436.2" y="70.60" font-size="4.5" fill="#d62a3c" stroke="#d62a3c" stroke-width="0.15" font-family="Liberation Sans, sans-serif" font-weight="bold">bolus infusion</text>
<rect x="78.6" y="197.3" width="15.2" height="78.1" fill="#dedede"/>
<rect x="78.6" y="244.16" width="15.4" height="7.81" fill="#e9f4e4" opacity="0.8"/>
<rect x="94" y="251.97" width="66.5" height="7.81" fill="#e9f4e4" opacity="0.8"/>
<rect x="160.5" y="259.78" width="85.0" height="5.62" fill="#e9f4e4" opacity="0.8"/>
<g filter="url(#db)">
<g opacity="0.45" class="h">
<circle class="b" cx="72.4" cy="243.5"/>
<circle class="b" cx="73.1" cy="256.1"/>
<circle class="b" cx="72.3" cy="249.8"/>
<circle class="b" cx="73.0" cy="233.4"/>
<circle class="r" cx="72.4" cy="267.0"/>
<circle class="r" cx="73.0" cy="242.2"/>
<circle class="r" cx="73.3" cy="235.0"/>
<circle class="b" cx="72.8" cy="252.7"/>
<circle class="r" cx="73.7" cy="252.9"/>
<circle class="b" cx="72.5" cy="264.8"/>
<circle class="r" cx="72.8" cy="246.8"/>
<circle class="b" cx="72.7" cy="249.7"/>
<circle class="b" cx="72.9" cy="239.1"/>
<circle class="b" cx="73.2" cy="245.9"/>
<circle class="r" cx="72.2" cy="239.0"/>
<circle class="b" cx="72.3" cy="251.3"/>
<circle class="r" cx="72.3" cy="248.8"/>
<circle class="r" cx="72.5" cy="245.8"/>
<circle class="b" cx="85.1" cy="251.5"/>
<circle class="b" cx="81.9" cy="262.6"/>
<circle class="b" cx="80.4" cy="245.2"/>
<circle class="b" cx="80.7" cy="247.8"/>
<circle class="b" cx="80.9" cy="259.8"/>
<circle class="r" cx="81.5" cy="258.1"/>
<circle class="r" cx="83.2" cy="255.5"/>
<circle class="r" cx="81.7" cy="251.0"/>
<circle class="b" cx="82.0" cy="256.3"/>
<circle class="r" cx="82.1" cy="252.1"/>
<circle class="r" cx="82.4" cy="245.6"/>
<circle class="b" cx="81.0" cy="257.9"/>
<circle class="b" cx="81.8" cy="246.9"/>
<circle class="r" cx="82.9" cy="254.3"/>
<circle class="r" cx="81.5" cy="246.6"/>
<circle class="r" cx="81.2" cy="249.2"/>
<circle class="r" cx="81.0" cy="256.3"/>
<circle class="b" cx="79.5" cy="254.5"/>
<circle class="b" cx="81.6" cy="237.8"/>
<circle class="r" cx="82.1" cy="241.8"/>
<circle class="r" cx="81.8" cy="244.9"/>
<circle class="b" cx="81.0" cy="244.3"/>
<circle class="r" cx="83.1" cy="253.9"/>
<circle class="b" cx="79.9" cy="233.9"/>
<circle class="b" cx="81.1" cy="242.5"/>
<circle class="r" cx="81.9" cy="261.0"/>
<circle class="b" cx="84.0" cy="235.5"/>
<circle class="b" cx="81.0" cy="244.5"/>
<circle class="r" cx="81.0" cy="258.8"/>
<circle class="b" cx="80.7" cy="247.8"/>
<circle class="b" cx="82.3" cy="244.8"/>
<circle class="b" cx="80.9" cy="239.2"/>
<circle class="r" cx="79.8" cy="244.1"/>
<circle class="b" cx="82.2" cy="253.6"/>
<circle class="r" cx="78.5" cy="259.0"/>
<circle class="r" cx="81.1" cy="246.4"/>
<circle class="r" cx="82.8" cy="259.8"/>
<circle class="r" cx="80.8" cy="245.4"/>
<circle class="r" cx="80.6" cy="271.8"/>
<circle class="b" cx="81.8" cy="230.8"/>
<circle class="r" cx="82.1" cy="259.1"/>
<circle class="b" cx="80.3" cy="249.1"/>
<circle class="b" cx="84.0" cy="245.6"/>
<circle class="b" cx="80.9" cy="237.4"/>
<circle class="b" cx="80.7" cy="234.8"/>
<circle class="r" cx="79.9" cy="255.2"/>
<circle class="b" cx="81.7" cy="238.6"/>
<circle class="r" cx="81.7" cy="248.4"/>
<circle class="b" cx="78.4" cy="257.3"/>
<circle class="b" cx="80.0" cy="255.7"/>
<circle class="r" cx="81.6" cy="254.0"/>
<circle class="b" cx="81.8" cy="250.3"/>
<circle class="r" cx="80.4" cy="250.0"/>
<circle class="r" cx="81.4" cy="243.5"/>
<circle class="b" cx="80.2" cy="253.1"/>
<circle class="b" cx="79.0" cy="237.0"/>
<circle class="b" cx="82.7" cy="252.6"/>
<circle class="r" cx="80.2" cy="261.8"/>
<circle class="b" cx="81.0" cy="249.2"/>
<circle class="b" cx="83.6" cy="248.9"/>
<circle class="r" cx="79.8" cy="272.4"/>
<circle class="r" cx="82.6" cy="249.4"/>
<circle class="b" cx="78.7" cy="249.5"/>
<circle class="r" cx="78.7" cy="220.6"/>
<circle class="r" cx="82.3" cy="246.0"/>
<circle class="b" cx="80.6" cy="269.7"/>
<circle class="r" cx="80.6" cy="264.6"/>
<circle class="b" cx="81.6" cy="269.7"/>
<circle class="b" cx="79.6" cy="240.4"/>
<circle class="b" cx="82.9" cy="261.4"/>
<circle class="b" cx="78.8" cy="243.3"/>
<circle class="b" cx="81.9" cy="259.7"/>
<circle class="r" cx="79.9" cy="257.1"/>
<circle class="b" cx="79.3" cy="257.0"/>
<circle class="r" cx="82.4" cy="245.0"/>
<circle class="b" cx="83.5" cy="251.8"/>
<circle class="b" cx="80.6" cy="259.6"/>
<circle class="b" cx="80.6" cy="262.5"/>
<circle class="r" cx="78.5" cy="244.9"/>
<circle class="r" cx="82.7" cy="243.7"/>
<circle class="r" cx="92.7" cy="247.4"/>
<circle class="b" cx="90.1" cy="249.0"/>
<circle class="b" cx="90.5" cy="260.2"/>
<circle class="b" cx="88.8" cy="263.7"/>
<circle class="b" cx="91.0" cy="248.4"/>
<circle class="r" cx="90.4" cy="236.4"/>
<circle class="r" cx="91.2" cy="244.3"/>
<circle class="r" cx="92.6" cy="257.5"/>
<circle class="b" cx="88.4" cy="242.7"/>
<circle class="b" cx="90.1" cy="237.5"/>
<circle class="b" cx="91.4" cy="240.3"/>
<circle class="b" cx="92.0" cy="269.3"/>
<circle class="b" cx="91.9" cy="256.1"/>
<circle class="b" cx="90.0" cy="253.9"/>
<circle class="b" cx="92.0" cy="241.5"/>
<circle class="b" cx="92.3" cy="265.3"/>
<circle class="r" cx="90.2" cy="272.0"/>
<circle class="b" cx="90.9" cy="244.2"/>
<circle class="r" cx="90.0" cy="247.5"/>
<circle class="b" cx="91.3" cy="240.3"/>
<circle class="b" cx="89.9" cy="257.6"/>
<circle class="b" cx="90.0" cy="233.4"/>
<circle class="r" cx="92.4" cy="250.9"/>
<circle class="r" cx="91.3" cy="248.7"/>
<circle class="b" cx="91.3" cy="251.7"/>
<circle class="r" cx="90.6" cy="261.6"/>
<circle class="b" cx="90.2" cy="234.3"/>
<circle class="r" cx="91.7" cy="249.2"/>
<circle class="r" cx="90.7" cy="249.2"/>
<circle class="r" cx="91.5" cy="255.8"/>
<circle class="b" cx="91.3" cy="247.5"/>
<circle class="b" cx="90.0" cy="257.2"/>
<circle class="r" cx="89.7" cy="259.7"/>
<circle class="r" cx="92.2" cy="271.9"/>
<circle class="r" cx="90.7" cy="255.5"/>
<circle class="b" cx="90.2" cy="248.9"/>
<circle class="b" cx="92.5" cy="249.1"/>
<circle class="b" cx="90.8" cy="255.5"/>
<circle class="r" cx="90.8" cy="241.2"/>
<circle class="b" cx="90.5" cy="260.5"/>
<circle class="b" cx="89.4" cy="260.2"/>
<circle class="b" cx="89.2" cy="239.5"/>
<circle class="r" cx="91.5" cy="252.0"/>
<circle class="b" cx="92.9" cy="255.9"/>
<circle class="b" cx="92.0" cy="242.3"/>
<circle class="b" cx="89.0" cy="264.4"/>
<circle class="b" cx="89.8" cy="241.3"/>
<circle class="b" cx="92.7" cy="261.3"/>
<circle class="r" cx="92.4" cy="253.4"/>
<circle class="r" cx="90.5" cy="254.9"/>
<circle class="b" cx="90.6" cy="266.8"/>
<circle class="b" cx="89.7" cy="261.4"/>
<circle class="b" cx="91.6" cy="230.2"/>
<circle class="b" cx="94.6" cy="252.9"/>
<circle class="r" cx="88.8" cy="253.6"/>
<circle class="b" cx="89.8" cy="231.2"/>
<circle class="r" cx="91.7" cy="256.6"/>
<circle class="b" cx="92.2" cy="244.8"/>
<circle class="b" cx="88.9" cy="254.8"/>
<circle class="r" cx="90.7" cy="249.6"/>
<circle class="b" cx="91.2" cy="253.0"/>
<circle class="b" cx="91.2" cy="255.3"/>
<circle class="b" cx="89.8" cy="235.6"/>
<circle class="r" cx="91.5" cy="245.7"/>
<circle class="r" cx="88.9" cy="251.3"/>
<circle class="r" cx="92.1" cy="261.9"/>
<circle class="b" cx="92.4" cy="253.4"/>
<circle class="b" cx="91.5" cy="251.0"/>
<circle class="b" cx="91.3" cy="238.5"/>
<circle class="b" cx="90.5" cy="235.1"/>
<circle class="b" cx="90.0" cy="258.5"/>
<circle class="b" cx="91.9" cy="259.8"/>
<circle class="r" cx="90.5" cy="241.3"/>
<circle class="b" cx="92.6" cy="266.4"/>
<circle class="b" cx="91.7" cy="232.1"/>
<circle class="b" cx="92.6" cy="252.0"/>
<circle class="r" cx="90.2" cy="252.6"/>
<circle class="r" cx="89.5" cy="252.3"/>
<circle class="r" cx="90.8" cy="251.1"/>
<circle class="b" cx="92.5" cy="251.9"/>
<circle class="r" cx="89.1" cy="239.9"/>
<circle class="b" cx="89.6" cy="254.0"/>
<circle class="r" cx="90.8" cy="253.0"/>
<circle class="r" cx="89.7" cy="252.1"/>
<circle class="b" cx="93.8" cy="255.5"/>
<circle class="b" cx="107.8" cy="238.5"/>
<circle class="b" cx="109.0" cy="241.3"/>
<circle class="b" cx="109.2" cy="262.7"/>
<circle class="r" cx="106.8" cy="246.3"/>
<circle class="r" cx="108.7" cy="237.2"/>
<circle class="b" cx="108.7" cy="249.1"/>
<circle class="b" cx="108.1" cy="248.9"/>
<circle class="r" cx="108.3" cy="242.0"/>
<circle class="b" cx="107.5" cy="253.6"/>
<circle class="b" cx="106.8" cy="238.7"/>
<circle class="b" cx="109.8" cy="239.5"/>
<circle class="r" cx="109.2" cy="240.8"/>
<circle class="r" cx="108.0" cy="242.1"/>
<circle class="r" cx="106.5" cy="248.9"/>
<circle class="b" cx="107.0" cy="241.6"/>
<circle class="b" cx="107.2" cy="248.1"/>
<circle class="b" cx="108.6" cy="236.7"/>
<circle class="b" cx="106.9" cy="254.6"/>
<circle class="b" cx="109.1" cy="255.9"/>
<circle class="r" cx="108.6" cy="251.7"/>
<circle class="r" cx="107.9" cy="261.5"/>
<circle class="r" cx="109.0" cy="251.2"/>
<circle class="b" cx="106.7" cy="231.1"/>
<circle class="r" cx="109.0" cy="244.1"/>
<circle class="r" cx="107.5" cy="246.4"/>
<circle class="r" cx="110.2" cy="247.5"/>
<circle class="r" cx="108.6" cy="243.2"/>
<circle class="b" cx="106.7" cy="246.3"/>
<circle class="b" cx="107.3" cy="257.0"/>
<circle class="b" cx="109.2" cy="242.1"/>
<circle class="r" cx="108.1" cy="254.4"/>
<circle class="b" cx="105.2" cy="243.5"/>
<circle class="r" cx="107.9" cy="260.4"/>
<circle class="b" cx="107.9" cy="259.2"/>
<circle class="b" cx="108.0" cy="246.2"/>
<circle class="r" cx="108.5" cy="245.6"/>
<circle class="r" cx="108.2" cy="256.2"/>
<circle class="r" cx="107.5" cy="251.3"/>
<circle class="r" cx="107.7" cy="245.2"/>
<circle class="r" cx="108.9" cy="234.5"/>
<circle class="b" cx="104.4" cy="244.2"/>
<circle class="r" cx="107.7" cy="229.5"/>
<circle class="b" cx="109.3" cy="260.2"/>
<circle class="r" cx="108.6" cy="251.4"/>
<circle class="r" cx="109.4" cy="255.5"/>
<circle class="b" cx="107.9" cy="248.3"/>
<circle class="b" cx="107.9" cy="251.8"/>
<circle class="b" cx="105.4" cy="243.7"/>
<circle class="b" cx="109.4" cy="247.8"/>
<circle class="b" cx="106.6" cy="245.7"/>
<circle class="b" cx="108.8" cy="248.7"/>
<circle class="b" cx="108.0" cy="236.3"/>
<circle class="r" cx="106.4" cy="251.6"/>
<circle class="r" cx="105.3" cy="252.7"/>
<circle class="r" cx="107.0" cy="254.8"/>
<circle class="b" cx="107.0" cy="233.2"/>
<circle class="b" cx="107.7" cy="248.2"/>
<circle class="b" cx="111.1" cy="247.8"/>
<circle class="r" cx="105.6" cy="244.1"/>
<circle class="b" cx="106.7" cy="234.5"/>
<circle class="b" cx="106.3" cy="251.8"/>
<circle class="b" cx="105.8" cy="246.5"/>
<circle class="b" cx="106.6" cy="247.8"/>
<circle class="b" cx="107.5" cy="252.1"/>
<circle class="b" cx="109.3" cy="240.0"/>
<circle class="b" cx="108.1" cy="254.3"/>
<circle class="b" cx="106.5" cy="245.2"/>
<circle class="b" cx="111.3" cy="250.9"/>
<circle class="r" cx="106.9" cy="252.7"/>
<circle class="r" cx="106.5" cy="254.9"/>
<circle class="r" cx="107.7" cy="236.1"/>
<circle class="b" cx="108.0" cy="251.3"/>
<circle class="b" cx="105.7" cy="245.6"/>
<circle class="b" cx="108.0" cy="256.9"/>
<circle class="r" cx="106.5" cy="247.6"/>
<circle class="b" cx="109.4" cy="242.4"/>
<circle class="r" cx="108.3" cy="249.8"/>
<circle class="r" cx="108.4" cy="247.4"/>
<circle class="b" cx="111.0" cy="256.1"/>
<circle class="b" cx="107.5" cy="237.4"/>
<circle class="b" cx="107.6" cy="236.2"/>
<circle class="r" cx="107.9" cy="246.1"/>
<circle class="r" cx="107.5" cy="258.1"/>
<circle class="b" cx="106.6" cy="230.0"/>
<circle class="b" cx="108.9" cy="242.6"/>
<circle class="b" cx="109.3" cy="242.8"/>
<circle class="b" cx="109.4" cy="249.4"/>
<circle class="b" cx="107.7" cy="239.6"/>
<circle class="r" cx="107.5" cy="257.7"/>
<circle class="b" cx="107.7" cy="251.5"/>
<circle class="b" cx="108.9" cy="252.9"/>
<circle class="b" cx="106.5" cy="249.9"/>
<circle class="b" cx="126.0" cy="248.3"/>
<circle class="r" cx="124.0" cy="247.8"/>
<circle class="r" cx="124.2" cy="240.7"/>
<circle class="b" cx="125.8" cy="260.8"/>
<circle class="b" cx="125.7" cy="247.9"/>
<circle class="b" cx="123.4" cy="229.2"/>
<circle class="b" cx="123.6" cy="232.7"/>
<circle class="r" cx="125.2" cy="256.0"/>
<circle class="r" cx="124.5" cy="242.2"/>
<circle class="r" cx="123.6" cy="266.1"/>
<circle class="b" cx="123.3" cy="249.4"/>
<circle class="r" cx="122.2" cy="233.6"/>
<circle class="b" cx="123.5" cy="251.0"/>
<circle class="r" cx="123.4" cy="254.0"/>
<circle class="b" cx="122.7" cy="247.2"/>
<circle class="r" cx="124.2" cy="251.9"/>
<circle class="r" cx="123.7" cy="258.8"/>
<circle class="r" cx="124.5" cy="253.8"/>
<circle class="b" cx="124.1" cy="255.0"/>
<circle class="r" cx="123.1" cy="246.2"/>
<circle class="b" cx="122.1" cy="228.6"/>
<circle class="b" cx="123.7" cy="248.5"/>
<circle class="r" cx="122.8" cy="235.5"/>
<circle class="b" cx="125.7" cy="245.6"/>
<circle class="b" cx="121.9" cy="251.8"/>
<circle class="b" cx="124.7" cy="251.9"/>
<circle class="r" cx="122.1" cy="257.2"/>
<circle class="b" cx="122.7" cy="247.8"/>
<circle class="b" cx="122.9" cy="247.8"/>
<circle class="r" cx="127.7" cy="234.1"/>
<circle class="b" cx="122.3" cy="245.2"/>
<circle class="r" cx="123.9" cy="249.0"/>
<circle class="b" cx="125.3" cy="250.5"/>
<circle class="b" cx="123.3" cy="250.8"/>
<circle class="r" cx="123.7" cy="237.9"/>
<circle class="r" cx="124.9" cy="258.4"/>
<circle class="r" cx="123.2" cy="254.1"/>
<circle class="r" cx="124.9" cy="246.2"/>
<circle class="r" cx="125.0" cy="248.4"/>
<circle class="r" cx="121.1" cy="244.4"/>
<circle class="r" cx="124.1" cy="243.9"/>
<circle class="b" cx="122.0" cy="247.3"/>
<circle class="b" cx="122.8" cy="253.3"/>
<circle class="b" cx="124.3" cy="245.2"/>
<circle class="b" cx="122.6" cy="261.3"/>
<circle class="b" cx="120.3" cy="252.4"/>
<circle class="r" cx="125.4" cy="248.3"/>
<circle class="r" cx="120.6" cy="254.6"/>
<circle class="r" cx="124.4" cy="234.8"/>
<circle class="b" cx="125.4" cy="245.0"/>
<circle class="b" cx="124.1" cy="256.2"/>
<circle class="b" cx="123.2" cy="250.5"/>
<circle class="b" cx="122.7" cy="247.4"/>
<circle class="r" cx="123.3" cy="245.3"/>
<circle class="b" cx="125.8" cy="242.1"/>
<circle class="b" cx="124.4" cy="249.8"/>
<circle class="r" cx="121.7" cy="248.8"/>
<circle class="b" cx="124.6" cy="255.8"/>
<circle class="r" cx="125.6" cy="250.5"/>
<circle class="b" cx="124.3" cy="250.5"/>
<circle class="b" cx="122.0" cy="231.8"/>
<circle class="b" cx="122.2" cy="240.7"/>
<circle class="b" cx="123.0" cy="245.7"/>
<circle class="b" cx="122.7" cy="251.2"/>
<circle class="r" cx="125.1" cy="232.7"/>
<circle class="r" cx="122.6" cy="247.8"/>
<circle class="b" cx="125.1" cy="252.8"/>
<circle class="b" cx="124.8" cy="254.0"/>
<circle class="b" cx="124.6" cy="244.5"/>
<circle class="b" cx="125.5" cy="245.1"/>
<circle class="b" cx="122.1" cy="242.7"/>
<circle class="r" cx="122.3" cy="242.0"/>
<circle class="b" cx="125.9" cy="243.3"/>
<circle class="b" cx="123.0" cy="238.6"/>
<circle class="b" cx="124.0" cy="257.6"/>
<circle class="b" cx="123.3" cy="236.8"/>
<circle class="b" cx="123.4" cy="247.0"/>
<circle class="b" cx="123.3" cy="261.1"/>
<circle class="b" cx="123.1" cy="245.1"/>
<circle class="b" cx="124.1" cy="249.3"/>
<circle class="r" cx="120.8" cy="238.4"/>
<circle class="r" cx="124.8" cy="239.9"/>
<circle class="r" cx="125.6" cy="251.4"/>
<circle class="b" cx="123.0" cy="245.5"/>
<circle class="r" cx="126.1" cy="261.1"/>
<circle class="b" cx="123.5" cy="253.5"/>
<circle class="b" cx="124.6" cy="236.5"/>
<circle class="r" cx="123.4" cy="257.6"/>
<circle class="b" cx="139.9" cy="251.2"/>
<circle class="r" cx="137.6" cy="241.7"/>
<circle class="b" cx="139.1" cy="243.3"/>
<circle class="r" cx="138.0" cy="239.9"/>
<circle class="r" cx="137.8" cy="240.3"/>
<circle class="b" cx="137.3" cy="237.6"/>
<circle class="r" cx="139.3" cy="261.5"/>
<circle class="b" cx="139.5" cy="246.1"/>
<circle class="b" cx="138.4" cy="252.9"/>
<circle class="b" cx="140.2" cy="250.2"/>
<circle class="r" cx="135.5" cy="252.3"/>
<circle class="r" cx="140.4" cy="246.4"/>
<circle class="b" cx="141.2" cy="254.5"/>
<circle class="r" cx="143.4" cy="242.3"/>
<circle class="r" cx="140.2" cy="240.0"/>
<circle class="b" cx="141.1" cy="248.0"/>
<circle class="r" cx="138.9" cy="240.5"/>
<circle class="r" cx="140.4" cy="264.2"/>
<circle class="b" cx="138.3" cy="245.1"/>
<circle class="b" cx="140.0" cy="246.6"/>
<circle class="b" cx="140.7" cy="247.7"/>
<circle class="b" cx="142.0" cy="253.6"/>
<circle class="r" cx="139.2" cy="246.2"/>
<circle class="r" cx="140.8" cy="242.4"/>
<circle class="r" cx="141.9" cy="252.7"/>
<circle class="b" cx="141.4" cy="245.0"/>
<circle class="r" cx="138.3" cy="250.0"/>
<circle class="r" cx="142.7" cy="242.5"/>
<circle class="r" cx="139.1" cy="268.3"/>
<circle class="b" cx="138.8" cy="254.6"/>
<circle class="r" cx="139.9" cy="230.1"/>
<circle class="b" cx="140.8" cy="246.3"/>
<circle class="b" cx="138.5" cy="258.5"/>
<circle class="r" cx="139.5" cy="252.6"/>
<circle class="r" cx="144.0" cy="252.1"/>
<circle class="b" cx="138.9" cy="239.7"/>
<circle class="r" cx="139.9" cy="258.9"/>
<circle class="b" cx="141.6" cy="251.4"/>
<circle class="b" cx="137.9" cy="246.2"/>
<circle class="b" cx="140.5" cy="251.6"/>
<circle class="b" cx="140.8" cy="242.2"/>
<circle class="b" cx="138.6" cy="265.6"/>
<circle class="r" cx="136.5" cy="249.9"/>
<circle class="b" cx="141.5" cy="240.7"/>
<circle class="r" cx="141.7" cy="233.8"/>
<circle class="b" cx="139.8" cy="240.3"/>
<circle class="b" cx="137.7" cy="243.2"/>
<circle class="r" cx="140.3" cy="249.6"/>
<circle class="b" cx="139.2" cy="257.9"/>
<circle class="r" cx="140.0" cy="238.5"/>
<circle class="b" cx="139.3" cy="244.5"/>
<circle class="r" cx="138.9" cy="246.8"/>
<circle class="r" cx="138.4" cy="245.8"/>
<circle class="b" cx="139.5" cy="246.3"/>
<circle class="r" cx="139.0" cy="258.4"/>
<circle class="b" cx="139.3" cy="240.4"/>
<circle class="b" cx="142.0" cy="251.5"/>
<circle class="b" cx="140.9" cy="242.7"/>
<circle class="b" cx="140.3" cy="261.4"/>
<circle class="r" cx="140.3" cy="256.7"/>
<circle class="b" cx="141.4" cy="242.4"/>
<circle class="b" cx="140.7" cy="269.4"/>
<circle class="b" cx="140.7" cy="243.2"/>
<circle class="b" cx="138.0" cy="241.0"/>
<circle class="r" cx="139.9" cy="250.3"/>
<circle class="b" cx="138.8" cy="257.1"/>
<circle class="b" cx="139.2" cy="223.8"/>
<circle class="r" cx="140.1" cy="247.2"/>
<circle class="b" cx="138.9" cy="253.9"/>
<circle class="b" cx="139.0" cy="256.0"/>
<circle class="b" cx="141.0" cy="251.0"/>
<circle class="r" cx="141.0" cy="258.2"/>
<circle class="b" cx="141.1" cy="249.1"/>
<circle class="r" cx="140.7" cy="249.7"/>
<circle class="b" cx="153.5" cy="241.3"/>
<circle class="b" cx="154.1" cy="251.5"/>
<circle class="b" cx="153.5" cy="248.9"/>
<circle class="b" cx="154.1" cy="248.3"/>
<circle class="b" cx="155.0" cy="255.6"/>
<circle class="b" cx="152.9" cy="247.2"/>
<circle class="r" cx="155.7" cy="245.2"/>
<circle class="b" cx="153.2" cy="245.9"/>
<circle class="r" cx="155.1" cy="248.3"/>
<circle class="b" cx="155.1" cy="252.8"/>
<circle class="r" cx="154.9" cy="243.5"/>
<circle class="r" cx="154.0" cy="261.2"/>
<circle class="b" cx="154.5" cy="248.9"/>
<circle class="r" cx="152.4" cy="255.5"/>
<circle class="b" cx="155.3" cy="251.5"/>
<circle class="b" cx="154.7" cy="259.8"/>
<circle class="b" cx="155.7" cy="237.3"/>
<circle class="r" cx="154.4" cy="255.9"/>
<circle class="b" cx="153.2" cy="243.7"/>
<circle class="r" cx="154.7" cy="256.4"/>
<circle class="b" cx="156.1" cy="244.7"/>
<circle class="r" cx="155.3" cy="263.6"/>
<circle class="b" cx="154.5" cy="245.7"/>
<circle class="r" cx="153.1" cy="243.4"/>
<circle class="b" cx="156.3" cy="242.7"/>
<circle class="b" cx="153.7" cy="255.7"/>
<circle class="b" cx="155.7" cy="243.0"/>
<circle class="b" cx="156.1" cy="241.4"/>
<circle class="b" cx="154.5" cy="253.5"/>
<circle class="b" cx="152.4" cy="244.5"/>
<circle class="r" cx="157.3" cy="253.9"/>
<circle class="r" cx="154.0" cy="245.5"/>
<circle class="b" cx="155.0" cy="260.7"/>
<circle class="r" cx="153.7" cy="258.6"/>
<circle class="b" cx="157.0" cy="255.8"/>
<circle class="b" cx="155.6" cy="236.0"/>
<circle class="r" cx="156.9" cy="239.7"/>
<circle class="b" cx="156.6" cy="259.7"/>
<circle class="b" cx="154.2" cy="255.9"/>
<circle class="b" cx="154.3" cy="230.8"/>
<circle class="b" cx="152.6" cy="246.2"/>
<circle class="r" cx="153.1" cy="240.4"/>
<circle class="b" cx="156.2" cy="254.2"/>
<circle class="b" cx="157.1" cy="249.8"/>
<circle class="b" cx="156.2" cy="248.1"/>
<circle class="b" cx="153.9" cy="253.3"/>
<circle class="b" cx="154.5" cy="245.8"/>
<circle class="b" cx="154.8" cy="232.7"/>
<circle class="r" cx="154.4" cy="253.9"/>
<circle class="r" cx="153.7" cy="256.2"/>
<circle class="r" cx="152.9" cy="257.8"/>
<circle class="b" cx="155.7" cy="250.0"/>
<circle class="r" cx="154.4" cy="247.8"/>
<circle class="r" cx="155.9" cy="245.8"/>
<circle class="b" cx="155.5" cy="254.6"/>
<circle class="b" cx="154.3" cy="256.2"/>
<circle class="b" cx="154.5" cy="256.5"/>
<circle class="b" cx="154.2" cy="251.7"/>
<circle class="r" cx="162.9" cy="258.9"/>
<circle class="b" cx="164.3" cy="245.6"/>
<circle class="b" cx="163.5" cy="265.2"/>
<circle class="b" cx="162.8" cy="265.8"/>
<circle class="b" cx="167.2" cy="255.9"/>
<circle class="b" cx="170.1" cy="254.2"/>
<circle class="b" cx="167.0" cy="270.8"/>
<circle class="b" cx="166.3" cy="251.8"/>
<circle class="b" cx="171.7" cy="264.0"/>
<circle class="b" cx="167.8" cy="258.3"/>
<circle class="b" cx="171.7" cy="249.1"/>
<circle class="b" cx="162.5" cy="254.1"/>
<circle class="b" cx="163.4" cy="274.5"/>
<circle class="b" cx="162.6" cy="268.0"/>
<circle class="b" cx="161.9" cy="263.8"/>
<circle class="b" cx="163.4" cy="258.4"/>
<circle class="r" cx="165.7" cy="250.2"/>
<circle class="b" cx="166.8" cy="256.8"/>
<circle class="r" cx="169.1" cy="252.5"/>
<circle class="b" cx="165.4" cy="257.7"/>
<circle class="b" cx="163.5" cy="248.7"/>
<circle class="b" cx="162.0" cy="253.5"/>
<circle class="b" cx="172.9" cy="268.3"/>
<circle class="b" cx="166.9" cy="271.3"/>
<circle class="b" cx="169.8" cy="249.4"/>
<circle class="b" cx="163.3" cy="242.9"/>
<circle class="b" cx="171.7" cy="264.1"/>
<circle class="b" cx="169.0" cy="248.0"/>
<circle class="b" cx="166.2" cy="249.3"/>
<circle class="b" cx="162.0" cy="256.7"/>
<circle class="b" cx="162.0" cy="249.5"/>
<circle class="b" cx="162.6" cy="254.0"/>
<circle class="b" cx="169.1" cy="266.2"/>
<circle class="b" cx="165.6" cy="251.9"/>
<circle class="r" cx="163.1" cy="258.0"/>
<circle class="b" cx="172.3" cy="253.1"/>
<circle class="b" cx="163.9" cy="247.4"/>
<circle class="b" cx="174.4" cy="266.0"/>
<circle class="b" cx="165.2" cy="255.7"/>
<circle class="b" cx="165.0" cy="238.3"/>
<circle class="b" cx="164.4" cy="260.0"/>
<circle class="b" cx="164.3" cy="263.4"/>
<circle class="b" cx="164.8" cy="255.8"/>
<circle class="b" cx="173.7" cy="253.1"/>
<circle class="b" cx="168.6" cy="250.4"/>
<circle class="b" cx="171.4" cy="252.9"/>
<circle class="b" cx="162.5" cy="257.8"/>
<circle class="b" cx="166.1" cy="242.9"/>
<circle class="b" cx="167.7" cy="257.7"/>
<circle class="r" cx="164.4" cy="263.3"/>
<circle class="b" cx="172.9" cy="259.9"/>
<circle class="b" cx="162.5" cy="255.4"/>
<circle class="r" cx="166.0" cy="258.0"/>
<circle class="b" cx="165.0" cy="254.1"/>
<circle class="b" cx="165.1" cy="264.3"/>
<circle class="b" cx="169.4" cy="265.3"/>
<circle class="b" cx="167.1" cy="248.2"/>
<circle class="b" cx="166.2" cy="255.7"/>
<circle class="b" cx="166.0" cy="245.4"/>
<circle class="r" cx="165.1" cy="258.7"/>
<circle class="b" cx="168.8" cy="236.3"/>
<circle class="b" cx="169.4" cy="266.3"/>
<circle class="b" cx="164.0" cy="259.2"/>
<circle class="b" cx="162.1" cy="262.2"/>
<circle class="b" cx="164.2" cy="256.7"/>
<circle class="b" cx="170.8" cy="250.8"/>
<circle class="b" cx="163.9" cy="256.4"/>
<circle class="b" cx="165.6" cy="258.6"/>
<circle class="b" cx="168.0" cy="249.7"/>
<circle class="b" cx="171.6" cy="254.5"/>
<circle class="b" cx="161.9" cy="270.3"/>
<circle class="b" cx="163.8" cy="271.2"/>
<circle class="b" cx="169.4" cy="262.0"/>
<circle class="b" cx="161.8" cy="268.1"/>
<circle class="b" cx="164.3" cy="264.5"/>
<circle class="b" cx="167.5" cy="254.6"/>
<circle class="b" cx="167.7" cy="272.9"/>
<circle class="b" cx="162.1" cy="260.8"/>
<circle class="b" cx="167.4" cy="251.7"/>
<circle class="b" cx="162.7" cy="255.7"/>
<circle class="b" cx="164.8" cy="261.5"/>
<circle class="b" cx="164.1" cy="270.2"/>
<circle class="b" cx="164.9" cy="253.3"/>
<circle class="b" cx="170.4" cy="255.8"/>
<circle class="r" cx="167.6" cy="254.7"/>
<circle class="b" cx="168.3" cy="258.9"/>
<circle class="b" cx="161.8" cy="267.6"/>
<circle class="b" cx="166.3" cy="272.0"/>
<circle class="b" cx="166.3" cy="254.6"/>
<circle class="b" cx="164.4" cy="246.8"/>
<circle class="b" cx="162.5" cy="265.0"/>
<circle class="b" cx="164.0" cy="257.9"/>
<circle class="b" cx="170.7" cy="240.1"/>
<circle class="r" cx="166.6" cy="266.2"/>
<circle class="r" cx="164.4" cy="255.0"/>
<circle class="b" cx="165.4" cy="252.2"/>
<circle class="b" cx="165.2" cy="249.6"/>
<circle class="b" cx="162.9" cy="264.1"/>
<circle class="b" cx="166.0" cy="257.7"/>
<circle class="b" cx="168.4" cy="243.4"/>
<circle class="b" cx="166.7" cy="253.6"/>
<circle class="b" cx="165.2" cy="249.7"/>
<circle class="b" cx="168.3" cy="249.4"/>
<circle class="b" cx="169.5" cy="248.6"/>
<circle class="b" cx="163.7" cy="260.5"/>
<circle class="b" cx="164.4" cy="254.2"/>
<circle class="b" cx="162.1" cy="270.9"/>
<circle class="b" cx="162.4" cy="252.0"/>
<circle class="b" cx="162.0" cy="270.1"/>
<circle class="b" cx="164.1" cy="250.6"/>
<circle class="b" cx="162.7" cy="253.1"/>
<circle class="b" cx="163.6" cy="262.2"/>
<circle class="b" cx="164.4" cy="259.6"/>
<circle class="b" cx="162.7" cy="229.2"/>
<circle class="b" cx="165.4" cy="255.5"/>
<circle class="b" cx="169.9" cy="255.8"/>
<circle class="b" cx="165.6" cy="262.6"/>
<circle class="b" cx="163.0" cy="252.0"/>
<circle class="b" cx="164.8" cy="250.9"/>
<circle class="b" cx="168.6" cy="258.0"/>
<circle class="b" cx="166.7" cy="254.5"/>
<circle class="b" cx="162.8" cy="259.0"/>
<circle class="r" cx="166.1" cy="245.8"/>
<circle class="r" cx="166.2" cy="265.1"/>
<circle class="b" cx="166.0" cy="262.8"/>
<circle class="b" cx="169.3" cy="246.5"/>
<circle class="b" cx="168.2" cy="246.7"/>
<circle class="b" cx="162.8" cy="249.0"/>
<circle class="b" cx="164.4" cy="246.9"/>
<circle class="b" cx="163.5" cy="251.8"/>
<circle class="b" cx="163.0" cy="247.4"/>
<circle class="b" cx="163.8" cy="248.1"/>
<circle class="b" cx="169.3" cy="257.2"/>
<circle class="b" cx="164.0" cy="261.0"/>
<circle class="b" cx="163.2" cy="254.5"/>
<circle class="b" cx="163.5" cy="264.1"/>
<circle class="b" cx="161.9" cy="255.0"/>
<circle class="b" cx="163.4" cy="250.7"/>
<circle class="b" cx="170.7" cy="244.7"/>
<circle class="r" cx="162.7" cy="263.2"/>
<circle class="b" cx="163.7" cy="252.9"/>
<circle class="b" cx="166.2" cy="259.7"/>
<circle class="b" cx="162.6" cy="270.1"/>
<circle class="b" cx="162.6" cy="257.6"/>
<circle class="b" cx="164.0" cy="249.2"/>
<circle class="b" cx="170.8" cy="247.9"/>
<circle class="b" cx="165.7" cy="243.8"/>
<circle class="b" cx="163.5" cy="257.0"/>
<circle class="b" cx="164.7" cy="252.8"/>
<circle class="r" cx="164.6" cy="255.4"/>
<circle class="b" cx="162.8" cy="257.9"/>
<circle class="b" cx="163.8" cy="248.5"/>
<circle class="b" cx="164.4" cy="257.9"/>
<circle class="b" cx="162.8" cy="263.0"/>
<circle class="b" cx="162.9" cy="269.0"/>
<circle class="b" cx="163.8" cy="252.1"/>
<circle class="b" cx="163.3" cy="243.6"/>
<circle class="b" cx="165.9" cy="252.0"/>
<circle class="b" cx="164.2" cy="261.2"/>
<circle class="b" cx="163.0" cy="249.2"/>
<circle class="b" cx="162.1" cy="254.3"/>
<circle class="b" cx="168.8" cy="254.8"/>
<circle class="r" cx="170.1" cy="262.8"/>
<circle class="b" cx="166.0" cy="257.7"/>
<circle class="r" cx="167.2" cy="273.3"/>
<circle class="r" cx="163.4" cy="244.1"/>
<circle class="b" cx="168.0" cy="274.9"/>
<circle class="b" cx="164.3" cy="261.2"/>
<circle class="b" cx="163.3" cy="259.4"/>
<circle class="r" cx="166.3" cy="253.0"/>
<circle class="b" cx="166.4" cy="253.6"/>
<circle class="b" cx="164.6" cy="247.9"/>
<circle class="r" cx="162.3" cy="251.8"/>
<circle class="b" cx="166.4" cy="251.1"/>
<circle class="b" cx="165.5" cy="245.8"/>
<circle class="b" cx="161.9" cy="252.9"/>
<circle class="b" cx="164.7" cy="249.3"/>
<circle class="b" cx="165.7" cy="247.6"/>
<circle class="b" cx="163.7" cy="266.9"/>
<circle class="b" cx="162.1" cy="258.4"/>
<circle class="b" cx="172.3" cy="249.5"/>
<circle class="b" cx="175.2" cy="251.4"/>
<circle class="b" cx="177.4" cy="251.4"/>
<circle class="b" cx="175.5" cy="260.5"/>
<circle class="b" cx="166.9" cy="248.7"/>
<circle class="b" cx="174.8" cy="253.8"/>
<circle class="b" cx="176.1" cy="262.7"/>
<circle class="b" cx="163.6" cy="241.2"/>
<circle class="b" cx="168.2" cy="245.4"/>
<circle class="b" cx="188.1" cy="270.5"/>
<circle class="b" cx="173.9" cy="245.8"/>
<circle class="r" cx="184.5" cy="260.8"/>
<circle class="b" cx="175.6" cy="264.5"/>
<circle class="b" cx="174.3" cy="249.9"/>
<circle class="r" cx="166.3" cy="237.7"/>
<circle class="b" cx="172.0" cy="261.4"/>
<circle class="b" cx="165.3" cy="256.5"/>
<circle class="b" cx="172.9" cy="246.7"/>
<circle class="b" cx="166.8" cy="246.8"/>
<circle class="r" cx="169.9" cy="255.9"/>
<circle class="b" cx="165.6" cy="248.8"/>
<circle class="b" cx="166.3" cy="261.3"/>
<circle class="r" cx="179.5" cy="255.0"/>
<circle class="b" cx="170.1" cy="250.8"/>
<circle class="b" cx="182.3" cy="254.5"/>
<circle class="b" cx="180.7" cy="259.0"/>
<circle class="b" cx="186.5" cy="261.7"/>
<circle class="r" cx="174.4" cy="256.7"/>
<circle class="b" cx="178.7" cy="239.0"/>
<circle class="b" cx="170.6" cy="241.4"/>
<circle class="b" cx="169.2" cy="268.5"/>
<circle class="b" cx="187.4" cy="259.0"/>
<circle class="b" cx="172.5" cy="244.1"/>
<circle class="b" cx="180.0" cy="254.4"/>
<circle class="b" cx="169.8" cy="249.5"/>
<circle class="b" cx="162.1" cy="266.7"/>
<circle class="b" cx="162.9" cy="248.0"/>
<circle class="b" cx="166.0" cy="249.9"/>
<circle class="b" cx="169.2" cy="255.5"/>
<circle class="b" cx="166.9" cy="253.7"/>
<circle class="b" cx="179.5" cy="246.3"/>
<circle class="r" cx="173.7" cy="248.4"/>
<circle class="b" cx="164.2" cy="265.7"/>
<circle class="b" cx="176.7" cy="239.1"/>
<circle class="b" cx="165.2" cy="257.4"/>
<circle class="r" cx="162.4" cy="243.9"/>
<circle class="b" cx="166.0" cy="264.1"/>
<circle class="b" cx="164.3" cy="262.1"/>
<circle class="b" cx="164.7" cy="263.2"/>
<circle class="r" cx="173.9" cy="241.4"/>
<circle class="b" cx="176.5" cy="269.8"/>
<circle class="b" cx="175.3" cy="259.1"/>
<circle class="b" cx="167.2" cy="267.7"/>
<circle class="b" cx="174.3" cy="269.8"/>
<circle class="b" cx="171.6" cy="248.6"/>
<circle class="b" cx="166.9" cy="261.0"/>
<circle class="b" cx="162.9" cy="253.7"/>
<circle class="b" cx="190.6" cy="266.5"/>
<circle class="b" cx="169.4" cy="256.0"/>
<circle class="b" cx="167.6" cy="264.1"/>
<circle class="b" cx="171.5" cy="262.0"/>
<circle class="b" cx="200.3" cy="266.5"/>
<circle class="b" cx="183.1" cy="250.6"/>
<circle class="b" cx="165.0" cy="253.2"/>
<circle class="b" cx="167.1" cy="240.3"/>
<circle class="r" cx="169.1" cy="255.3"/>
<circle class="r" cx="163.6" cy="253.2"/>
<circle class="b" cx="177.5" cy="257.9"/>
<circle class="b" cx="170.4" cy="249.3"/>
<circle class="r" cx="170.3" cy="272.1"/>
<circle class="r" cx="164.9" cy="246.0"/>
<circle class="b" cx="179.6" cy="265.9"/>
<circle class="b" cx="175.8" cy="256.2"/>
<circle class="b" cx="168.1" cy="266.2"/>
<circle class="b" cx="164.4" cy="260.1"/>
<circle class="b" cx="165.0" cy="251.1"/>
<circle class="b" cx="171.7" cy="258.0"/>
<circle class="b" cx="169.1" cy="254.7"/>
<circle class="b" cx="163.2" cy="253.4"/>
<circle class="b" cx="169.1" cy="257.2"/>
<circle class="b" cx="169.9" cy="260.4"/>
<circle class="b" cx="164.3" cy="244.4"/>
<circle class="b" cx="169.2" cy="249.7"/>
<circle class="b" cx="166.8" cy="254.0"/>
<circle class="b" cx="171.4" cy="260.1"/>
<circle class="b" cx="169.8" cy="252.3"/>
<circle class="b" cx="209.7" cy="251.8"/>
<circle class="b" cx="170.3" cy="237.1"/>
<circle class="b" cx="176.4" cy="254.1"/>
<circle class="r" cx="166.9" cy="263.9"/>
<circle class="b" cx="178.6" cy="250.9"/>
<circle class="b" cx="172.8" cy="266.0"/>
<circle class="b" cx="167.6" cy="233.3"/>
<circle class="r" cx="191.7" cy="271.7"/>
<circle class="b" cx="171.3" cy="256.0"/>
<circle class="b" cx="170.6" cy="249.5"/>
<circle class="b" cx="163.4" cy="252.4"/>
<circle class="b" cx="165.7" cy="265.0"/>
<circle class="r" cx="180.2" cy="259.2"/>
<circle class="b" cx="177.6" cy="248.7"/>
<circle class="b" cx="162.6" cy="253.7"/>
<circle class="b" cx="162.5" cy="271.9"/>
<circle class="b" cx="166.3" cy="251.1"/>
<circle class="b" cx="184.0" cy="268.7"/>
<circle class="b" cx="176.9" cy="247.6"/>
<circle class="b" cx="183.1" cy="250.8"/>
<circle class="b" cx="162.6" cy="246.0"/>
<circle class="b" cx="166.4" cy="257.1"/>
<circle class="b" cx="172.2" cy="253.4"/>
<circle class="b" cx="163.6" cy="261.1"/>
<circle class="b" cx="166.7" cy="262.0"/>
<circle class="b" cx="170.7" cy="264.5"/>
<circle class="b" cx="183.3" cy="263.9"/>
<circle class="b" cx="177.0" cy="259.7"/>
<circle class="b" cx="171.0" cy="248.3"/>
<circle class="b" cx="168.9" cy="248.1"/>
<circle class="b" cx="169.0" cy="255.4"/>
<circle class="b" cx="171.6" cy="255.6"/>
<circle class="b" cx="179.6" cy="257.6"/>
<circle class="b" cx="169.9" cy="251.0"/>
<circle class="b" cx="185.2" cy="250.3"/>
<circle class="b" cx="186.8" cy="242.5"/>
<circle class="b" cx="186.2" cy="252.9"/>
<circle class="b" cx="184.7" cy="258.9"/>
<circle class="b" cx="182.7" cy="247.5"/>
<circle class="b" cx="196.8" cy="259.2"/>
<circle class="b" cx="181.4" cy="243.6"/>
<circle class="b" cx="183.0" cy="254.3"/>
<circle class="b" cx="186.3" cy="255.1"/>
<circle class="b" cx="183.8" cy="259.2"/>
<circle class="b" cx="193.6" cy="245.7"/>
<circle class="b" cx="182.4" cy="256.2"/>
<circle class="b" cx="185.3" cy="248.2"/>
<circle class="b" cx="192.1" cy="253.9"/>
<circle class="b" cx="185.7" cy="257.5"/>
<circle class="r" cx="191.5" cy="258.6"/>
<circle class="r" cx="203.3" cy="261.2"/>
<circle class="r" cx="190.1" cy="261.6"/>
<circle class="b" cx="181.5" cy="246.0"/>
<circle class="b" cx="187.2" cy="265.8"/>
<circle class="b" cx="193.1" cy="261.6"/>
<circle class="b" cx="183.1" cy="249.1"/>
<circle class="b" cx="191.0" cy="263.7"/>
<circle class="b" cx="180.4" cy="258.5"/>
<circle class="b" cx="191.8" cy="265.4"/>
<circle class="b" cx="190.8" cy="249.4"/>
<circle class="b" cx="182.0" cy="247.8"/>
<circle class="b" cx="196.1" cy="259.4"/>
<circle class="b" cx="186.2" cy="239.4"/>
<circle class="b" cx="204.3" cy="233.6"/>
<circle class="b" cx="188.1" cy="233.2"/>
<circle class="b" cx="183.2" cy="246.2"/>
<circle class="b" cx="201.2" cy="265.0"/>
<circle class="b" cx="199.2" cy="255.7"/>
<circle class="b" cx="180.8" cy="243.4"/>
<circle class="b" cx="183.5" cy="264.3"/>
<circle class="b" cx="199.8" cy="264.7"/>
<circle class="b" cx="204.1" cy="250.2"/>
<circle class="b" cx="182.6" cy="256.0"/>
<circle class="r" cx="180.9" cy="240.3"/>
<circle class="r" cx="189.7" cy="251.0"/>
<circle class="b" cx="183.3" cy="264.1"/>
<circle class="r" cx="199.3" cy="243.7"/>
<circle class="b" cx="189.6" cy="266.2"/>
<circle class="b" cx="220.0" cy="234.9"/>
<circle class="b" cx="222.0" cy="240.0"/>
<circle class="b" cx="224.0" cy="242.0"/>
<circle class="b" cx="226.0" cy="243.0"/>
<circle class="b" cx="232.0" cy="248.0"/>
<circle class="b" cx="230.0" cy="255.0"/>
<circle class="b" cx="217.0" cy="255.0"/>
<circle class="b" cx="238.0" cy="263.0"/>
<circle class="b" cx="210.0" cy="266.0"/>
<circle class="b" cx="205.0" cy="249.0"/>
<circle class="b" cx="212.0" cy="243.0"/>
<circle class="r" cx="142.9" cy="243.9"/>
<circle class="b" cx="84.4" cy="241.2"/>
<circle class="b" cx="79.1" cy="263.9"/>
<circle class="r" cx="146.0" cy="230.8"/>
<circle class="b" cx="85.9" cy="245.5"/>
<circle class="b" cx="147.3" cy="239.7"/>
<circle class="r" cx="127.8" cy="246.7"/>
<circle class="r" cx="159.0" cy="253.1"/>
<circle class="r" cx="93.4" cy="267.1"/>
<circle class="r" cx="137.1" cy="268.0"/>
<circle class="r" cx="92.6" cy="256.6"/>
<circle class="b" cx="77.3" cy="261.4"/>
<circle class="b" cx="104.5" cy="257.1"/>
<circle class="r" cx="99.4" cy="235.1"/>
<circle class="b" cx="126.7" cy="253.0"/>
<circle class="b" cx="86.8" cy="257.5"/>
<circle class="b" cx="134.3" cy="256.5"/>
<circle class="r" cx="85.7" cy="249.1"/>
<circle class="r" cx="155.0" cy="259.0"/>
<circle class="r" cx="92.5" cy="257.5"/>
<circle class="r" cx="159.6" cy="257.4"/>
<circle class="r" cx="106.3" cy="268.5"/>
<circle class="b" cx="102.1" cy="256.0"/>
<circle class="r" cx="129.0" cy="246.8"/>
<circle class="r" cx="111.7" cy="245.2"/>
<circle class="r" cx="114.4" cy="261.4"/>
<circle class="b" cx="118.5" cy="240.2"/>
<circle class="r" cx="135.1" cy="254.3"/>
<circle class="b" cx="95.7" cy="258.9"/>
<circle class="b" cx="149.3" cy="255.1"/>
<circle class="b" cx="100.1" cy="239.5"/>
<circle class="r" cx="114.2" cy="264.5"/>
<circle class="r" cx="154.4" cy="265.3"/>
<circle class="b" cx="126.5" cy="237.7"/>
<circle class="r" cx="113.7" cy="239.0"/>
<circle class="r" cx="99.6" cy="245.6"/>
<circle class="r" cx="113.0" cy="240.9"/>
<circle class="b" cx="134.4" cy="253.2"/>
<circle class="r" cx="132.5" cy="250.0"/>
<circle class="b" cx="87.1" cy="238.2"/>
<circle class="r" cx="151.2" cy="250.5"/>
<circle class="b" cx="104.7" cy="238.0"/>
<circle class="b" cx="144.9" cy="241.1"/>
<circle class="b" cx="121.9" cy="263.2"/>
<circle class="b" cx="84.4" cy="246.3"/>
<circle class="b" cx="106.5" cy="253.5"/>
<circle class="b" cx="107.5" cy="253.4"/>
<circle class="r" cx="104.9" cy="267.8"/>
<circle class="r" cx="151.4" cy="248.0"/>
<circle class="b" cx="129.2" cy="251.2"/>
<circle class="r" cx="115.4" cy="259.0"/>
<circle class="b" cx="102.5" cy="240.3"/>
<circle class="b" cx="132.4" cy="269.8"/>
<circle class="r" cx="158.0" cy="238.5"/>
<circle class="r" cx="145.6" cy="251.0"/>
<circle class="b" cx="130.6" cy="262.9"/>
<circle class="r" cx="81.6" cy="262.1"/>
<circle class="r" cx="131.1" cy="247.6"/>
<circle class="b" cx="94.3" cy="242.3"/>
<circle class="b" cx="107.1" cy="250.9"/>
<circle class="r" cx="88.0" cy="265.8"/>
<circle class="r" cx="83.0" cy="238.4"/>
<circle class="r" cx="90.0" cy="260.2"/>
<circle class="b" cx="138.3" cy="263.8"/>
<circle class="r" cx="97.3" cy="243.2"/>
<circle class="b" cx="141.2" cy="268.2"/>
<circle class="r" cx="86.1" cy="252.5"/>
<circle class="r" cx="148.2" cy="250.0"/>
<circle class="r" cx="155.3" cy="248.3"/>
<circle class="b" cx="105.5" cy="252.0"/>
<circle class="b" cx="121.0" cy="256.0"/>
<circle class="r" cx="142.3" cy="251.6"/>
<circle class="b" cx="101.3" cy="256.5"/>
<circle class="b" cx="123.7" cy="250.7"/>
<circle class="b" cx="86.9" cy="238.3"/>
<circle class="r" cx="100.7" cy="242.9"/>
<circle class="r" cx="141.3" cy="250.2"/>
<circle class="b" cx="80.6" cy="238.1"/>
<circle class="b" cx="94.3" cy="264.9"/>
<circle class="r" cx="114.6" cy="245.9"/>
<circle class="r" cx="147.5" cy="232.1"/>
<circle class="r" cx="89.0" cy="236.3"/>
<circle class="b" cx="157.5" cy="262.4"/>
<circle class="r" cx="127.4" cy="252.3"/>
<circle class="b" cx="148.6" cy="238.5"/>
<circle class="b" cx="76.9" cy="253.2"/>
<circle class="b" cx="88.9" cy="242.3"/>
<circle class="r" cx="135.9" cy="268.0"/>
<circle class="b" cx="89.2" cy="253.2"/>
<circle class="b" cx="85.3" cy="251.0"/>
<circle class="r" cx="101.3" cy="233.8"/>
<circle class="r" cx="147.2" cy="254.0"/>
<circle class="b" cx="79.9" cy="254.6"/>
<circle class="b" cx="97.9" cy="248.0"/>
<circle class="r" cx="85.4" cy="241.2"/>
<circle class="r" cx="117.1" cy="255.6"/>
<circle class="r" cx="130.9" cy="228.7"/>
<circle class="r" cx="123.7" cy="269.2"/>
<circle class="b" cx="118.1" cy="240.6"/>
<circle class="r" cx="101.1" cy="257.2"/>
<circle class="r" cx="138.1" cy="251.0"/>
<circle class="r" cx="112.1" cy="239.1"/>
<circle class="r" cx="116.1" cy="258.3"/>
<circle class="r" cx="113.9" cy="240.6"/>
<circle class="r" cx="80.2" cy="248.2"/>
<circle class="b" cx="120.3" cy="254.0"/>
<circle class="b" cx="122.0" cy="257.2"/>
<circle class="r" cx="84.3" cy="245.4"/>
<circle class="r" cx="107.2" cy="255.8"/>
<circle class="r" cx="95.3" cy="237.9"/>
<circle class="r" cx="139.0" cy="252.0"/>
<circle class="b" cx="110.2" cy="250.3"/>
<circle class="r" cx="157.2" cy="234.5"/>
<circle class="r" cx="156.7" cy="249.7"/>
<circle class="b" cx="106.7" cy="259.7"/>
<circle class="b" cx="101.3" cy="257.0"/>
<circle class="r" cx="127.2" cy="259.1"/>
<circle class="r" cx="117.8" cy="255.9"/>
<circle class="r" cx="119.4" cy="250.3"/>
<circle class="r" cx="83.8" cy="254.3"/>
<circle class="r" cx="80.0" cy="219.2"/>
<circle class="r" cx="87.0" cy="219.2"/>
<circle class="b" cx="93.0" cy="219.2"/>
<circle class="g" cx="142.5" cy="210.4"/>
<circle class="g" cx="85.6" cy="203.5"/>
<circle class="g" cx="73.5" cy="209.8"/>
<circle class="g" cx="73.4" cy="216.0"/>
</g><g class="s">
<circle class="b" cx="72.4" cy="243.5"/>
<circle class="b" cx="73.1" cy="256.1"/>
<circle class="b" cx="72.3" cy="249.8"/>
<circle class="b" cx="73.0" cy="233.4"/>
<circle class="r" cx="72.4" cy="267.0"/>
<circle class="r" cx="73.0" cy="242.2"/>
<circle class="r" cx="73.3" cy="235.0"/>
<circle class="b" cx="72.8" cy="252.7"/>
<circle class="r" cx="73.7" cy="252.9"/>
<circle class="b" cx="72.5" cy="264.8"/>
<circle class="r" cx="72.8" cy="246.8"/>
<circle class="b" cx="72.7" cy="249.7"/>
<circle class="b" cx="72.9" cy="239.1"/>
<circle class="b" cx="73.2" cy="245.9"/>
<circle class="r" cx="72.2" cy="239.0"/>
<circle class="b" cx="72.3" cy="251.3"/>
<circle class="r" cx="72.3" cy="248.8"/>
<circle class="r" cx="72.5" cy="245.8"/>
<circle class="b" cx="85.1" cy="251.5"/>
<circle class="b" cx="81.9" cy="262.6"/>
<circle class="b" cx="80.4" cy="245.2"/>
<circle class="b" cx="80.7" cy="247.8"/>
<circle class="b" cx="80.9" cy="259.8"/>
<circle class="r" cx="81.5" cy="258.1"/>
<circle class="r" cx="83.2" cy="255.5"/>
<circle class="r" cx="81.7" cy="251.0"/>
<circle class="b" cx="82.0" cy="256.3"/>
<circle class="r" cx="82.1" cy="252.1"/>
<circle class="r" cx="82.4" cy="245.6"/>
<circle class="b" cx="81.0" cy="257.9"/>
<circle class="b" cx="81.8" cy="246.9"/>
<circle class="r" cx="82.9" cy="254.3"/>
<circle class="r" cx="81.5" cy="246.6"/>
<circle class="r" cx="81.2" cy="249.2"/>
<circle class="r" cx="81.0" cy="256.3"/>
<circle class="b" cx="79.5" cy="254.5"/>
<circle class="b" cx="81.6" cy="237.8"/>
<circle class="r" cx="82.1" cy="241.8"/>
<circle class="r" cx="81.8" cy="244.9"/>
<circle class="b" cx="81.0" cy="244.3"/>
<circle class="r" cx="83.1" cy="253.9"/>
<circle class="b" cx="79.9" cy="233.9"/>
<circle class="b" cx="81.1" cy="242.5"/>
<circle class="r" cx="81.9" cy="261.0"/>
<circle class="b" cx="84.0" cy="235.5"/>
<circle class="b" cx="81.0" cy="244.5"/>
<circle class="r" cx="81.0" cy="258.8"/>
<circle class="b" cx="80.7" cy="247.8"/>
<circle class="b" cx="82.3" cy="244.8"/>
<circle class="b" cx="80.9" cy="239.2"/>
<circle class="r" cx="79.8" cy="244.1"/>
<circle class="b" cx="82.2" cy="253.6"/>
<circle class="r" cx="78.5" cy="259.0"/>
<circle class="r" cx="81.1" cy="246.4"/>
<circle class="r" cx="82.8" cy="259.8"/>
<circle class="r" cx="80.8" cy="245.4"/>
<circle class="r" cx="80.6" cy="271.8"/>
<circle class="b" cx="81.8" cy="230.8"/>
<circle class="r" cx="82.1" cy="259.1"/>
<circle class="b" cx="80.3" cy="249.1"/>
<circle class="b" cx="84.0" cy="245.6"/>
<circle class="b" cx="80.9" cy="237.4"/>
<circle class="b" cx="80.7" cy="234.8"/>
<circle class="r" cx="79.9" cy="255.2"/>
<circle class="b" cx="81.7" cy="238.6"/>
<circle class="r" cx="81.7" cy="248.4"/>
<circle class="b" cx="78.4" cy="257.3"/>
<circle class="b" cx="80.0" cy="255.7"/>
<circle class="r" cx="81.6" cy="254.0"/>
<circle class="b" cx="81.8" cy="250.3"/>
<circle class="r" cx="80.4" cy="250.0"/>
<circle class="r" cx="81.4" cy="243.5"/>
<circle class="b" cx="80.2" cy="253.1"/>
<circle class="b" cx="79.0" cy="237.0"/>
<circle class="b" cx="82.7" cy="252.6"/>
<circle class="r" cx="80.2" cy="261.8"/>
<circle class="b" cx="81.0" cy="249.2"/>
<circle class="b" cx="83.6" cy="248.9"/>
<circle class="r" cx="79.8" cy="272.4"/>
<circle class="r" cx="82.6" cy="249.4"/>
<circle class="b" cx="78.7" cy="249.5"/>
<circle class="r" cx="78.7" cy="220.6"/>
<circle class="r" cx="82.3" cy="246.0"/>
<circle class="b" cx="80.6" cy="269.7"/>
<circle class="r" cx="80.6" cy="264.6"/>
<circle class="b" cx="81.6" cy="269.7"/>
<circle class="b" cx="79.6" cy="240.4"/>
<circle class="b" cx="82.9" cy="261.4"/>
<circle class="b" cx="78.8" cy="243.3"/>
<circle class="b" cx="81.9" cy="259.7"/>
<circle class="r" cx="79.9" cy="257.1"/>
<circle class="b" cx="79.3" cy="257.0"/>
<circle class="r" cx="82.4" cy="245.0"/>
<circle class="b" cx="83.5" cy="251.8"/>
<circle class="b" cx="80.6" cy="259.6"/>
<circle class="b" cx="80.6" cy="262.5"/>
<circle class="r" cx="78.5" cy="244.9"/>
<circle class="r" cx="82.7" cy="243.7"/>
<circle class="r" cx="92.7" cy="247.4"/>
<circle class="b" cx="90.1" cy="249.0"/>
<circle class="b" cx="90.5" cy="260.2"/>
<circle class="b" cx="88.8" cy="263.7"/>
<circle class="b" cx="91.0" cy="248.4"/>
<circle class="r" cx="90.4" cy="236.4"/>
<circle class="r" cx="91.2" cy="244.3"/>
<circle class="r" cx="92.6" cy="257.5"/>
<circle class="b" cx="88.4" cy="242.7"/>
<circle class="b" cx="90.1" cy="237.5"/>
<circle class="b" cx="91.4" cy="240.3"/>
<circle class="b" cx="92.0" cy="269.3"/>
<circle class="b" cx="91.9" cy="256.1"/>
<circle class="b" cx="90.0" cy="253.9"/>
<circle class="b" cx="92.0" cy="241.5"/>
<circle class="b" cx="92.3" cy="265.3"/>
<circle class="r" cx="90.2" cy="272.0"/>
<circle class="b" cx="90.9" cy="244.2"/>
<circle class="r" cx="90.0" cy="247.5"/>
<circle class="b" cx="91.3" cy="240.3"/>
<circle class="b" cx="89.9" cy="257.6"/>
<circle class="b" cx="90.0" cy="233.4"/>
<circle class="r" cx="92.4" cy="250.9"/>
<circle class="r" cx="91.3" cy="248.7"/>
<circle class="b" cx="91.3" cy="251.7"/>
<circle class="r" cx="90.6" cy="261.6"/>
<circle class="b" cx="90.2" cy="234.3"/>
<circle class="r" cx="91.7" cy="249.2"/>
<circle class="r" cx="90.7" cy="249.2"/>
<circle class="r" cx="91.5" cy="255.8"/>
<circle class="b" cx="91.3" cy="247.5"/>
<circle class="b" cx="90.0" cy="257.2"/>
<circle class="r" cx="89.7" cy="259.7"/>
<circle class="r" cx="92.2" cy="271.9"/>
<circle class="r" cx="90.7" cy="255.5"/>
<circle class="b" cx="90.2" cy="248.9"/>
<circle class="b" cx="92.5" cy="249.1"/>
<circle class="b" cx="90.8" cy="255.5"/>
<circle class="r" cx="90.8" cy="241.2"/>
<circle class="b" cx="90.5" cy="260.5"/>
<circle class="b" cx="89.4" cy="260.2"/>
<circle class="b" cx="89.2" cy="239.5"/>
<circle class="r" cx="91.5" cy="252.0"/>
<circle class="b" cx="92.9" cy="255.9"/>
<circle class="b" cx="92.0" cy="242.3"/>
<circle class="b" cx="89.0" cy="264.4"/>
<circle class="b" cx="89.8" cy="241.3"/>
<circle class="b" cx="92.7" cy="261.3"/>
<circle class="r" cx="92.4" cy="253.4"/>
<circle class="r" cx="90.5" cy="254.9"/>
<circle class="b" cx="90.6" cy="266.8"/>
<circle class="b" cx="89.7" cy="261.4"/>
<circle class="b" cx="91.6" cy="230.2"/>
<circle class="b" cx="94.6" cy="252.9"/>
<circle class="r" cx="88.8" cy="253.6"/>
<circle class="b" cx="89.8" cy="231.2"/>
<circle class="r" cx="91.7" cy="256.6"/>
<circle class="b" cx="92.2" cy="244.8"/>
<circle class="b" cx="88.9" cy="254.8"/>
<circle class="r" cx="90.7" cy="249.6"/>
<circle class="b" cx="91.2" cy="253.0"/>
<circle class="b" cx="91.2" cy="255.3"/>
<circle class="b" cx="89.8" cy="235.6"/>
<circle class="r" cx="91.5" cy="245.7"/>
<circle class="r" cx="88.9" cy="251.3"/>
<circle class="r" cx="92.1" cy="261.9"/>
<circle class="b" cx="92.4" cy="253.4"/>
<circle class="b" cx="91.5" cy="251.0"/>
<circle class="b" cx="91.3" cy="238.5"/>
<circle class="b" cx="90.5" cy="235.1"/>
<circle class="b" cx="90.0" cy="258.5"/>
<circle class="b" cx="91.9" cy="259.8"/>
<circle class="r" cx="90.5" cy="241.3"/>
<circle class="b" cx="92.6" cy="266.4"/>
<circle class="b" cx="91.7" cy="232.1"/>
<circle class="b" cx="92.6" cy="252.0"/>
<circle class="r" cx="90.2" cy="252.6"/>
<circle class="r" cx="89.5" cy="252.3"/>
<circle class="r" cx="90.8" cy="251.1"/>
<circle class="b" cx="92.5" cy="251.9"/>
<circle class="r" cx="89.1" cy="239.9"/>
<circle class="b" cx="89.6" cy="254.0"/>
<circle class="r" cx="90.8" cy="253.0"/>
<circle class="r" cx="89.7" cy="252.1"/>
<circle class="b" cx="93.8" cy="255.5"/>
<circle class="b" cx="107.8" cy="238.5"/>
<circle class="b" cx="109.0" cy="241.3"/>
<circle class="b" cx="109.2" cy="262.7"/>
<circle class="r" cx="106.8" cy="246.3"/>
<circle class="r" cx="108.7" cy="237.2"/>
<circle class="b" cx="108.7" cy="249.1"/>
<circle class="b" cx="108.1" cy="248.9"/>
<circle class="r" cx="108.3" cy="242.0"/>
<circle class="b" cx="107.5" cy="253.6"/>
<circle class="b" cx="106.8" cy="238.7"/>
<circle class="b" cx="109.8" cy="239.5"/>
<circle class="r" cx="109.2" cy="240.8"/>
<circle class="r" cx="108.0" cy="242.1"/>
<circle class="r" cx="106.5" cy="248.9"/>
<circle class="b" cx="107.0" cy="241.6"/>
<circle class="b" cx="107.2" cy="248.1"/>
<circle class="b" cx="108.6" cy="236.7"/>
<circle class="b" cx="106.9" cy="254.6"/>
<circle class="b" cx="109.1" cy="255.9"/>
<circle class="r" cx="108.6" cy="251.7"/>
<circle class="r" cx="107.9" cy="261.5"/>
<circle class="r" cx="109.0" cy="251.2"/>
<circle class="b" cx="106.7" cy="231.1"/>
<circle class="r" cx="109.0" cy="244.1"/>
<circle class="r" cx="107.5" cy="246.4"/>
<circle class="r" cx="110.2" cy="247.5"/>
<circle class="r" cx="108.6" cy="243.2"/>
<circle class="b" cx="106.7" cy="246.3"/>
<circle class="b" cx="107.3" cy="257.0"/>
<circle class="b" cx="109.2" cy="242.1"/>
<circle class="r" cx="108.1" cy="254.4"/>
<circle class="b" cx="105.2" cy="243.5"/>
<circle class="r" cx="107.9" cy="260.4"/>
<circle class="b" cx="107.9" cy="259.2"/>
<circle class="b" cx="108.0" cy="246.2"/>
<circle class="r" cx="108.5" cy="245.6"/>
<circle class="r" cx="108.2" cy="256.2"/>
<circle class="r" cx="107.5" cy="251.3"/>
<circle class="r" cx="107.7" cy="245.2"/>
<circle class="r" cx="108.9" cy="234.5"/>
<circle class="b" cx="104.4" cy="244.2"/>
<circle class="r" cx="107.7" cy="229.5"/>
<circle class="b" cx="109.3" cy="260.2"/>
<circle class="r" cx="108.6" cy="251.4"/>
<circle class="r" cx="109.4" cy="255.5"/>
<circle class="b" cx="107.9" cy="248.3"/>
<circle class="b" cx="107.9" cy="251.8"/>
<circle class="b" cx="105.4" cy="243.7"/>
<circle class="b" cx="109.4" cy="247.8"/>
<circle class="b" cx="106.6" cy="245.7"/>
<circle class="b" cx="108.8" cy="248.7"/>
<circle class="b" cx="108.0" cy="236.3"/>
<circle class="r" cx="106.4" cy="251.6"/>
<circle class="r" cx="105.3" cy="252.7"/>
<circle class="r" cx="107.0" cy="254.8"/>
<circle class="b" cx="107.0" cy="233.2"/>
<circle class="b" cx="107.7" cy="248.2"/>
<circle class="b" cx="111.1" cy="247.8"/>
<circle class="r" cx="105.6" cy="244.1"/>
<circle class="b" cx="106.7" cy="234.5"/>
<circle class="b" cx="106.3" cy="251.8"/>
<circle class="b" cx="105.8" cy="246.5"/>
<circle class="b" cx="106.6" cy="247.8"/>
<circle class="b" cx="107.5" cy="252.1"/>
<circle class="b" cx="109.3" cy="240.0"/>
<circle class="b" cx="108.1" cy="254.3"/>
<circle class="b" cx="106.5" cy="245.2"/>
<circle class="b" cx="111.3" cy="250.9"/>
<circle class="r" cx="106.9" cy="252.7"/>
<circle class="r" cx="106.5" cy="254.9"/>
<circle class="r" cx="107.7" cy="236.1"/>
<circle class="b" cx="108.0" cy="251.3"/>
<circle class="b" cx="105.7" cy="245.6"/>
<circle class="b" cx="108.0" cy="256.9"/>
<circle class="r" cx="106.5" cy="247.6"/>
<circle class="b" cx="109.4" cy="242.4"/>
<circle class="r" cx="108.3" cy="249.8"/>
<circle class="r" cx="108.4" cy="247.4"/>
<circle class="b" cx="111.0" cy="256.1"/>
<circle class="b" cx="107.5" cy="237.4"/>
<circle class="b" cx="107.6" cy="236.2"/>
<circle class="r" cx="107.9" cy="246.1"/>
<circle class="r" cx="107.5" cy="258.1"/>
<circle class="b" cx="106.6" cy="230.0"/>
<circle class="b" cx="108.9" cy="242.6"/>
<circle class="b" cx="109.3" cy="242.8"/>
<circle class="b" cx="109.4" cy="249.4"/>
<circle class="b" cx="107.7" cy="239.6"/>
<circle class="r" cx="107.5" cy="257.7"/>
<circle class="b" cx="107.7" cy="251.5"/>
<circle class="b" cx="108.9" cy="252.9"/>
<circle class="b" cx="106.5" cy="249.9"/>
<circle class="b" cx="126.0" cy="248.3"/>
<circle class="r" cx="124.0" cy="247.8"/>
<circle class="r" cx="124.2" cy="240.7"/>
<circle class="b" cx="125.8" cy="260.8"/>
<circle class="b" cx="125.7" cy="247.9"/>
<circle class="b" cx="123.4" cy="229.2"/>
<circle class="b" cx="123.6" cy="232.7"/>
<circle class="r" cx="125.2" cy="256.0"/>
<circle class="r" cx="124.5" cy="242.2"/>
<circle class="r" cx="123.6" cy="266.1"/>
<circle class="b" cx="123.3" cy="249.4"/>
<circle class="r" cx="122.2" cy="233.6"/>
<circle class="b" cx="123.5" cy="251.0"/>
<circle class="r" cx="123.4" cy="254.0"/>
<circle class="b" cx="122.7" cy="247.2"/>
<circle class="r" cx="124.2" cy="251.9"/>
<circle class="r" cx="123.7" cy="258.8"/>
<circle class="r" cx="124.5" cy="253.8"/>
<circle class="b" cx="124.1" cy="255.0"/>
<circle class="r" cx="123.1" cy="246.2"/>
<circle class="b" cx="122.1" cy="228.6"/>
<circle class="b" cx="123.7" cy="248.5"/>
<circle class="r" cx="122.8" cy="235.5"/>
<circle class="b" cx="125.7" cy="245.6"/>
<circle class="b" cx="121.9" cy="251.8"/>
<circle class="b" cx="124.7" cy="251.9"/>
<circle class="r" cx="122.1" cy="257.2"/>
<circle class="b" cx="122.7" cy="247.8"/>
<circle class="b" cx="122.9" cy="247.8"/>
<circle class="r" cx="127.7" cy="234.1"/>
<circle class="b" cx="122.3" cy="245.2"/>
<circle class="r" cx="123.9" cy="249.0"/>
<circle class="b" cx="125.3" cy="250.5"/>
<circle class="b" cx="123.3" cy="250.8"/>
<circle class="r" cx="123.7" cy="237.9"/>
<circle class="r" cx="124.9" cy="258.4"/>
<circle class="r" cx="123.2" cy="254.1"/>
<circle class="r" cx="124.9" cy="246.2"/>
<circle class="r" cx="125.0" cy="248.4"/>
<circle class="r" cx="121.1" cy="244.4"/>
<circle class="r" cx="124.1" cy="243.9"/>
<circle class="b" cx="122.0" cy="247.3"/>
<circle class="b" cx="122.8" cy="253.3"/>
<circle class="b" cx="124.3" cy="245.2"/>
<circle class="b" cx="122.6" cy="261.3"/>
<circle class="b" cx="120.3" cy="252.4"/>
<circle class="r" cx="125.4" cy="248.3"/>
<circle class="r" cx="120.6" cy="254.6"/>
<circle class="r" cx="124.4" cy="234.8"/>
<circle class="b" cx="125.4" cy="245.0"/>
<circle class="b" cx="124.1" cy="256.2"/>
<circle class="b" cx="123.2" cy="250.5"/>
<circle class="b" cx="122.7" cy="247.4"/>
<circle class="r" cx="123.3" cy="245.3"/>
<circle class="b" cx="125.8" cy="242.1"/>
<circle class="b" cx="124.4" cy="249.8"/>
<circle class="r" cx="121.7" cy="248.8"/>
<circle class="b" cx="124.6" cy="255.8"/>
<circle class="r" cx="125.6" cy="250.5"/>
<circle class="b" cx="124.3" cy="250.5"/>
<circle class="b" cx="122.0" cy="231.8"/>
<circle class="b" cx="122.2" cy="240.7"/>
<circle class="b" cx="123.0" cy="245.7"/>
<circle class="b" cx="122.7" cy="251.2"/>
<circle class="r" cx="125.1" cy="232.7"/>
<circle class="r" cx="122.6" cy="247.8"/>
<circle class="b" cx="125.1" cy="252.8"/>
<circle class="b" cx="124.8" cy="254.0"/>
<circle class="b" cx="124.6" cy="244.5"/>
<circle class="b" cx="125.5" cy="245.1"/>
<circle class="b" cx="122.1" cy="242.7"/>
<circle class="r" cx="122.3" cy="242.0"/>
<circle class="b" cx="125.9" cy="243.3"/>
<circle class="b" cx="123.0" cy="238.6"/>
<circle class="b" cx="124.0" cy="257.6"/>
<circle class="b" cx="123.3" cy="236.8"/>
<circle class="b" cx="123.4" cy="247.0"/>
<circle class="b" cx="123.3" cy="261.1"/>
<circle class="b" cx="123.1" cy="245.1"/>
<circle class="b" cx="124.1" cy="249.3"/>
<circle class="r" cx="120.8" cy="238.4"/>
<circle class="r" cx="124.8" cy="239.9"/>
<circle class="r" cx="125.6" cy="251.4"/>
<circle class="b" cx="123.0" cy="245.5"/>
<circle class="r" cx="126.1" cy="261.1"/>
<circle class="b" cx="123.5" cy="253.5"/>
<circle class="b" cx="124.6" cy="236.5"/>
<circle class="r" cx="123.4" cy="257.6"/>
<circle class="b" cx="139.9" cy="251.2"/>
<circle class="r" cx="137.6" cy="241.7"/>
<circle class="b" cx="139.1" cy="243.3"/>
<circle class="r" cx="138.0" cy="239.9"/>
<circle class="r" cx="137.8" cy="240.3"/>
<circle class="b" cx="137.3" cy="237.6"/>
<circle class="r" cx="139.3" cy="261.5"/>
<circle class="b" cx="139.5" cy="246.1"/>
<circle class="b" cx="138.4" cy="252.9"/>
<circle class="b" cx="140.2" cy="250.2"/>
<circle class="r" cx="135.5" cy="252.3"/>
<circle class="r" cx="140.4" cy="246.4"/>
<circle class="b" cx="141.2" cy="254.5"/>
<circle class="r" cx="143.4" cy="242.3"/>
<circle class="r" cx="140.2" cy="240.0"/>
<circle class="b" cx="141.1" cy="248.0"/>
<circle class="r" cx="138.9" cy="240.5"/>
<circle class="r" cx="140.4" cy="264.2"/>
<circle class="b" cx="138.3" cy="245.1"/>
<circle class="b" cx="140.0" cy="246.6"/>
<circle class="b" cx="140.7" cy="247.7"/>
<circle class="b" cx="142.0" cy="253.6"/>
<circle class="r" cx="139.2" cy="246.2"/>
<circle class="r" cx="140.8" cy="242.4"/>
<circle class="r" cx="141.9" cy="252.7"/>
<circle class="b" cx="141.4" cy="245.0"/>
<circle class="r" cx="138.3" cy="250.0"/>
<circle class="r" cx="142.7" cy="242.5"/>
<circle class="r" cx="139.1" cy="268.3"/>
<circle class="b" cx="138.8" cy="254.6"/>
<circle class="r" cx="139.9" cy="230.1"/>
<circle class="b" cx="140.8" cy="246.3"/>
<circle class="b" cx="138.5" cy="258.5"/>
<circle class="r" cx="139.5" cy="252.6"/>
<circle class="r" cx="144.0" cy="252.1"/>
<circle class="b" cx="138.9" cy="239.7"/>
<circle class="r" cx="139.9" cy="258.9"/>
<circle class="b" cx="141.6" cy="251.4"/>
<circle class="b" cx="137.9" cy="246.2"/>
<circle class="b" cx="140.5" cy="251.6"/>
<circle class="b" cx="140.8" cy="242.2"/>
<circle class="b" cx="138.6" cy="265.6"/>
<circle class="r" cx="136.5" cy="249.9"/>
<circle class="b" cx="141.5" cy="240.7"/>
<circle class="r" cx="141.7" cy="233.8"/>
<circle class="b" cx="139.8" cy="240.3"/>
<circle class="b" cx="137.7" cy="243.2"/>
<circle class="r" cx="140.3" cy="249.6"/>
<circle class="b" cx="139.2" cy="257.9"/>
<circle class="r" cx="140.0" cy="238.5"/>
<circle class="b" cx="139.3" cy="244.5"/>
<circle class="r" cx="138.9" cy="246.8"/>
<circle class="r" cx="138.4" cy="245.8"/>
<circle class="b" cx="139.5" cy="246.3"/>
<circle class="r" cx="139.0" cy="258.4"/>
<circle class="b" cx="139.3" cy="240.4"/>
<circle class="b" cx="142.0" cy="251.5"/>
<circle class="b" cx="140.9" cy="242.7"/>
<circle class="b" cx="140.3" cy="261.4"/>
<circle class="r" cx="140.3" cy="256.7"/>
<circle class="b" cx="141.4" cy="242.4"/>
<circle class="b" cx="140.7" cy="269.4"/>
<circle class="b" cx="140.7" cy="243.2"/>
<circle class="b" cx="138.0" cy="241.0"/>
<circle class="r" cx="139.9" cy="250.3"/>
<circle class="b" cx="138.8" cy="257.1"/>
<circle class="b" cx="139.2" cy="223.8"/>
<circle class="r" cx="140.1" cy="247.2"/>
<circle class="b" cx="138.9" cy="253.9"/>
<circle class="b" cx="139.0" cy="256.0"/>
<circle class="b" cx="141.0" cy="251.0"/>
<circle class="r" cx="141.0" cy="258.2"/>
<circle class="b" cx="141.1" cy="249.1"/>
<circle class="r" cx="140.7" cy="249.7"/>
<circle class="b" cx="153.5" cy="241.3"/>
<circle class="b" cx="154.1" cy="251.5"/>
<circle class="b" cx="153.5" cy="248.9"/>
<circle class="b" cx="154.1" cy="248.3"/>
<circle class="b" cx="155.0" cy="255.6"/>
<circle class="b" cx="152.9" cy="247.2"/>
<circle class="r" cx="155.7" cy="245.2"/>
<circle class="b" cx="153.2" cy="245.9"/>
<circle class="r" cx="155.1" cy="248.3"/>
<circle class="b" cx="155.1" cy="252.8"/>
<circle class="r" cx="154.9" cy="243.5"/>
<circle class="r" cx="154.0" cy="261.2"/>
<circle class="b" cx="154.5" cy="248.9"/>
<circle class="r" cx="152.4" cy="255.5"/>
<circle class="b" cx="155.3" cy="251.5"/>
<circle class="b" cx="154.7" cy="259.8"/>
<circle class="b" cx="155.7" cy="237.3"/>
<circle class="r" cx="154.4" cy="255.9"/>
<circle class="b" cx="153.2" cy="243.7"/>
<circle class="r" cx="154.7" cy="256.4"/>
<circle class="b" cx="156.1" cy="244.7"/>
<circle class="r" cx="155.3" cy="263.6"/>
<circle class="b" cx="154.5" cy="245.7"/>
<circle class="r" cx="153.1" cy="243.4"/>
<circle class="b" cx="156.3" cy="242.7"/>
<circle class="b" cx="153.7" cy="255.7"/>
<circle class="b" cx="155.7" cy="243.0"/>
<circle class="b" cx="156.1" cy="241.4"/>
<circle class="b" cx="154.5" cy="253.5"/>
<circle class="b" cx="152.4" cy="244.5"/>
<circle class="r" cx="157.3" cy="253.9"/>
<circle class="r" cx="154.0" cy="245.5"/>
<circle class="b" cx="155.0" cy="260.7"/>
<circle class="r" cx="153.7" cy="258.6"/>
<circle class="b" cx="157.0" cy="255.8"/>
<circle class="b" cx="155.6" cy="236.0"/>
<circle class="r" cx="156.9" cy="239.7"/>
<circle class="b" cx="156.6" cy="259.7"/>
<circle class="b" cx="154.2" cy="255.9"/>
<circle class="b" cx="154.3" cy="230.8"/>
<circle class="b" cx="152.6" cy="246.2"/>
<circle class="r" cx="153.1" cy="240.4"/>
<circle class="b" cx="156.2" cy="254.2"/>
<circle class="b" cx="157.1" cy="249.8"/>
<circle class="b" cx="156.2" cy="248.1"/>
<circle class="b" cx="153.9" cy="253.3"/>
<circle class="b" cx="154.5" cy="245.8"/>
<circle class="b" cx="154.8" cy="232.7"/>
<circle class="r" cx="154.4" cy="253.9"/>
<circle class="r" cx="153.7" cy="256.2"/>
<circle class="r" cx="152.9" cy="257.8"/>
<circle class="b" cx="155.7" cy="250.0"/>
<circle class="r" cx="154.4" cy="247.8"/>
<circle class="r" cx="155.9" cy="245.8"/>
<circle class="b" cx="155.5" cy="254.6"/>
<circle class="b" cx="154.3" cy="256.2"/>
<circle class="b" cx="154.5" cy="256.5"/>
<circle class="b" cx="154.2" cy="251.7"/>
<circle class="r" cx="162.9" cy="258.9"/>
<circle class="b" cx="164.3" cy="245.6"/>
<circle class="b" cx="163.5" cy="265.2"/>
<circle class="b" cx="162.8" cy="265.8"/>
<circle class="b" cx="167.2" cy="255.9"/>
<circle class="b" cx="170.1" cy="254.2"/>
<circle class="b" cx="167.0" cy="270.8"/>
<circle class="b" cx="166.3" cy="251.8"/>
<circle class="b" cx="171.7" cy="264.0"/>
<circle class="b" cx="167.8" cy="258.3"/>
<circle class="b" cx="171.7" cy="249.1"/>
<circle class="b" cx="162.5" cy="254.1"/>
<circle class="b" cx="163.4" cy="274.5"/>
<circle class="b" cx="162.6" cy="268.0"/>
<circle class="b" cx="161.9" cy="263.8"/>
<circle class="b" cx="163.4" cy="258.4"/>
<circle class="r" cx="165.7" cy="250.2"/>
<circle class="b" cx="166.8" cy="256.8"/>
<circle class="r" cx="169.1" cy="252.5"/>
<circle class="b" cx="165.4" cy="257.7"/>
<circle class="b" cx="163.5" cy="248.7"/>
<circle class="b" cx="162.0" cy="253.5"/>
<circle class="b" cx="172.9" cy="268.3"/>
<circle class="b" cx="166.9" cy="271.3"/>
<circle class="b" cx="169.8" cy="249.4"/>
<circle class="b" cx="163.3" cy="242.9"/>
<circle class="b" cx="171.7" cy="264.1"/>
<circle class="b" cx="169.0" cy="248.0"/>
<circle class="b" cx="166.2" cy="249.3"/>
<circle class="b" cx="162.0" cy="256.7"/>
<circle class="b" cx="162.0" cy="249.5"/>
<circle class="b" cx="162.6" cy="254.0"/>
<circle class="b" cx="169.1" cy="266.2"/>
<circle class="b" cx="165.6" cy="251.9"/>
<circle class="r" cx="163.1" cy="258.0"/>
<circle class="b" cx="172.3" cy="253.1"/>
<circle class="b" cx="163.9" cy="247.4"/>
<circle class="b" cx="174.4" cy="266.0"/>
<circle class="b" cx="165.2" cy="255.7"/>
<circle class="b" cx="165.0" cy="238.3"/>
<circle class="b" cx="164.4" cy="260.0"/>
<circle class="b" cx="164.3" cy="263.4"/>
<circle class="b" cx="164.8" cy="255.8"/>
<circle class="b" cx="173.7" cy="253.1"/>
<circle class="b" cx="168.6" cy="250.4"/>
<circle class="b" cx="171.4" cy="252.9"/>
<circle class="b" cx="162.5" cy="257.8"/>
<circle class="b" cx="166.1" cy="242.9"/>
<circle class="b" cx="167.7" cy="257.7"/>
<circle class="r" cx="164.4" cy="263.3"/>
<circle class="b" cx="172.9" cy="259.9"/>
<circle class="b" cx="162.5" cy="255.4"/>
<circle class="r" cx="166.0" cy="258.0"/>
<circle class="b" cx="165.0" cy="254.1"/>
<circle class="b" cx="165.1" cy="264.3"/>
<circle class="b" cx="169.4" cy="265.3"/>
<circle class="b" cx="167.1" cy="248.2"/>
<circle class="b" cx="166.2" cy="255.7"/>
<circle class="b" cx="166.0" cy="245.4"/>
<circle class="r" cx="165.1" cy="258.7"/>
<circle class="b" cx="168.8" cy="236.3"/>
<circle class="b" cx="169.4" cy="266.3"/>
<circle class="b" cx="164.0" cy="259.2"/>
<circle class="b" cx="162.1" cy="262.2"/>
<circle class="b" cx="164.2" cy="256.7"/>
<circle class="b" cx="170.8" cy="250.8"/>
<circle class="b" cx="163.9" cy="256.4"/>
<circle class="b" cx="165.6" cy="258.6"/>
<circle class="b" cx="168.0" cy="249.7"/>
<circle class="b" cx="171.6" cy="254.5"/>
<circle class="b" cx="161.9" cy="270.3"/>
<circle class="b" cx="163.8" cy="271.2"/>
<circle class="b" cx="169.4" cy="262.0"/>
<circle class="b" cx="161.8" cy="268.1"/>
<circle class="b" cx="164.3" cy="264.5"/>
<circle class="b" cx="167.5" cy="254.6"/>
<circle class="b" cx="167.7" cy="272.9"/>
<circle class="b" cx="162.1" cy="260.8"/>
<circle class="b" cx="167.4" cy="251.7"/>
<circle class="b" cx="162.7" cy="255.7"/>
<circle class="b" cx="164.8" cy="261.5"/>
<circle class="b" cx="164.1" cy="270.2"/>
<circle class="b" cx="164.9" cy="253.3"/>
<circle class="b" cx="170.4" cy="255.8"/>
<circle class="r" cx="167.6" cy="254.7"/>
<circle class="b" cx="168.3" cy="258.9"/>
<circle class="b" cx="161.8" cy="267.6"/>
<circle class="b" cx="166.3" cy="272.0"/>
<circle class="b" cx="166.3" cy="254.6"/>
<circle class="b" cx="164.4" cy="246.8"/>
<circle class="b" cx="162.5" cy="265.0"/>
<circle class="b" cx="164.0" cy="257.9"/>
<circle class="b" cx="170.7" cy="240.1"/>
<circle class="r" cx="166.6" cy="266.2"/>
<circle class="r" cx="164.4" cy="255.0"/>
<circle class="b" cx="165.4" cy="252.2"/>
<circle class="b" cx="165.2" cy="249.6"/>
<circle class="b" cx="162.9" cy="264.1"/>
<circle class="b" cx="166.0" cy="257.7"/>
<circle class="b" cx="168.4" cy="243.4"/>
<circle class="b" cx="166.7" cy="253.6"/>
<circle class="b" cx="165.2" cy="249.7"/>
<circle class="b" cx="168.3" cy="249.4"/>
<circle class="b" cx="169.5" cy="248.6"/>
<circle class="b" cx="163.7" cy="260.5"/>
<circle class="b" cx="164.4" cy="254.2"/>
<circle class="b" cx="162.1" cy="270.9"/>
<circle class="b" cx="162.4" cy="252.0"/>
<circle class="b" cx="162.0" cy="270.1"/>
<circle class="b" cx="164.1" cy="250.6"/>
<circle class="b" cx="162.7" cy="253.1"/>
<circle class="b" cx="163.6" cy="262.2"/>
<circle class="b" cx="164.4" cy="259.6"/>
<circle class="b" cx="162.7" cy="229.2"/>
<circle class="b" cx="165.4" cy="255.5"/>
<circle class="b" cx="169.9" cy="255.8"/>
<circle class="b" cx="165.6" cy="262.6"/>
<circle class="b" cx="163.0" cy="252.0"/>
<circle class="b" cx="164.8" cy="250.9"/>
<circle class="b" cx="168.6" cy="258.0"/>
<circle class="b" cx="166.7" cy="254.5"/>
<circle class="b" cx="162.8" cy="259.0"/>
<circle class="r" cx="166.1" cy="245.8"/>
<circle class="r" cx="166.2" cy="265.1"/>
<circle class="b" cx="166.0" cy="262.8"/>
<circle class="b" cx="169.3" cy="246.5"/>
<circle class="b" cx="168.2" cy="246.7"/>
<circle class="b" cx="162.8" cy="249.0"/>
<circle class="b" cx="164.4" cy="246.9"/>
<circle class="b" cx="163.5" cy="251.8"/>
<circle class="b" cx="163.0" cy="247.4"/>
<circle class="b" cx="163.8" cy="248.1"/>
<circle class="b" cx="169.3" cy="257.2"/>
<circle class="b" cx="164.0" cy="261.0"/>
<circle class="b" cx="163.2" cy="254.5"/>
<circle class="b" cx="163.5" cy="264.1"/>
<circle class="b" cx="161.9" cy="255.0"/>
<circle class="b" cx="163.4" cy="250.7"/>
<circle class="b" cx="170.7" cy="244.7"/>
<circle class="r" cx="162.7" cy="263.2"/>
<circle class="b" cx="163.7" cy="252.9"/>
<circle class="b" cx="166.2" cy="259.7"/>
<circle class="b" cx="162.6" cy="270.1"/>
<circle class="b" cx="162.6" cy="257.6"/>
<circle class="b" cx="164.0" cy="249.2"/>
<circle class="b" cx="170.8" cy="247.9"/>
<circle class="b" cx="165.7" cy="243.8"/>
<circle class="b" cx="163.5" cy="257.0"/>
<circle class="b" cx="164.7" cy="252.8"/>
<circle class="r" cx="164.6" cy="255.4"/>
<circle class="b" cx="162.8" cy="257.9"/>
<circle class="b" cx="163.8" cy="248.5"/>
<circle class="b" cx="164.4" cy="257.9"/>
<circle class="b" cx="162.8" cy="263.0"/>
<circle class="b" cx="162.9" cy="269.0"/>
<circle class="b" cx="163.8" cy="252.1"/>
<circle class="b" cx="163.3" cy="243.6"/>
<circle class="b" cx="165.9" cy="252.0"/>
<circle class="b" cx="164.2" cy="261.2"/>
<circle class="b" cx="163.0" cy="249.2"/>
<circle class="b" cx="162.1" cy="254.3"/>
<circle class="b" cx="168.8" cy="254.8"/>
<circle class="r" cx="170.1" cy="262.8"/>
<circle class="b" cx="166.0" cy="257.7"/>
<circle class="r" cx="167.2" cy="273.3"/>
<circle class="r" cx="163.4" cy="244.1"/>
<circle class="b" cx="168.0" cy="274.9"/>
<circle class="b" cx="164.3" cy="261.2"/>
<circle class="b" cx="163.3" cy="259.4"/>
<circle class="r" cx="166.3" cy="253.0"/>
<circle class="b" cx="166.4" cy="253.6"/>
<circle class="b" cx="164.6" cy="247.9"/>
<circle class="r" cx="162.3" cy="251.8"/>
<circle class="b" cx="166.4" cy="251.1"/>
<circle class="b" cx="165.5" cy="245.8"/>
<circle class="b" cx="161.9" cy="252.9"/>
<circle class="b" cx="164.7" cy="249.3"/>
<circle class="b" cx="165.7" cy="247.6"/>
<circle class="b" cx="163.7" cy="266.9"/>
<circle class="b" cx="162.1" cy="258.4"/>
<circle class="b" cx="172.3" cy="249.5"/>
<circle class="b" cx="175.2" cy="251.4"/>
<circle class="b" cx="177.4" cy="251.4"/>
<circle class="b" cx="175.5" cy="260.5"/>
<circle class="b" cx="166.9" cy="248.7"/>
<circle class="b" cx="174.8" cy="253.8"/>
<circle class="b" cx="176.1" cy="262.7"/>
<circle class="b" cx="163.6" cy="241.2"/>
<circle class="b" cx="168.2" cy="245.4"/>
<circle class="b" cx="188.1" cy="270.5"/>
<circle class="b" cx="173.9" cy="245.8"/>
<circle class="r" cx="184.5" cy="260.8"/>
<circle class="b" cx="175.6" cy="264.5"/>
<circle class="b" cx="174.3" cy="249.9"/>
<circle class="r" cx="166.3" cy="237.7"/>
<circle class="b" cx="172.0" cy="261.4"/>
<circle class="b" cx="165.3" cy="256.5"/>
<circle class="b" cx="172.9" cy="246.7"/>
<circle class="b" cx="166.8" cy="246.8"/>
<circle class="r" cx="169.9" cy="255.9"/>
<circle class="b" cx="165.6" cy="248.8"/>
<circle class="b" cx="166.3" cy="261.3"/>
<circle class="r" cx="179.5" cy="255.0"/>
<circle class="b" cx="170.1" cy="250.8"/>
<circle class="b" cx="182.3" cy="254.5"/>
<circle class="b" cx="180.7" cy="259.0"/>
<circle class="b" cx="186.5" cy="261.7"/>
<circle class="r" cx="174.4" cy="256.7"/>
<circle class="b" cx="178.7" cy="239.0"/>
<circle class="b" cx="170.6" cy="241.4"/>
<circle class="b" cx="169.2" cy="268.5"/>
<circle class="b" cx="187.4" cy="259.0"/>
<circle class="b" cx="172.5" cy="244.1"/>
<circle class="b" cx="180.0" cy="254.4"/>
<circle class="b" cx="169.8" cy="249.5"/>
<circle class="b" cx="162.1" cy="266.7"/>
<circle class="b" cx="162.9" cy="248.0"/>
<circle class="b" cx="166.0" cy="249.9"/>
<circle class="b" cx="169.2" cy="255.5"/>
<circle class="b" cx="166.9" cy="253.7"/>
<circle class="b" cx="179.5" cy="246.3"/>
<circle class="r" cx="173.7" cy="248.4"/>
<circle class="b" cx="164.2" cy="265.7"/>
<circle class="b" cx="176.7" cy="239.1"/>
<circle class="b" cx="165.2" cy="257.4"/>
<circle class="r" cx="162.4" cy="243.9"/>
<circle class="b" cx="166.0" cy="264.1"/>
<circle class="b" cx="164.3" cy="262.1"/>
<circle class="b" cx="164.7" cy="263.2"/>
<circle class="r" cx="173.9" cy="241.4"/>
<circle class="b" cx="176.5" cy="269.8"/>
<circle class="b" cx="175.3" cy="259.1"/>
<circle class="b" cx="167.2" cy="267.7"/>
<circle class="b" cx="174.3" cy="269.8"/>
<circle class="b" cx="171.6" cy="248.6"/>
<circle class="b" cx="166.9" cy="261.0"/>
<circle class="b" cx="162.9" cy="253.7"/>
<circle class="b" cx="190.6" cy="266.5"/>
<circle class="b" cx="169.4" cy="256.0"/>
<circle class="b" cx="167.6" cy="264.1"/>
<circle class="b" cx="171.5" cy="262.0"/>
<circle class="b" cx="200.3" cy="266.5"/>
<circle class="b" cx="183.1" cy="250.6"/>
<circle class="b" cx="165.0" cy="253.2"/>
<circle class="b" cx="167.1" cy="240.3"/>
<circle class="r" cx="169.1" cy="255.3"/>
<circle class="r" cx="163.6" cy="253.2"/>
<circle class="b" cx="177.5" cy="257.9"/>
<circle class="b" cx="170.4" cy="249.3"/>
<circle class="r" cx="170.3" cy="272.1"/>
<circle class="r" cx="164.9" cy="246.0"/>
<circle class="b" cx="179.6" cy="265.9"/>
<circle class="b" cx="175.8" cy="256.2"/>
<circle class="b" cx="168.1" cy="266.2"/>
<circle class="b" cx="164.4" cy="260.1"/>
<circle class="b" cx="165.0" cy="251.1"/>
<circle class="b" cx="171.7" cy="258.0"/>
<circle class="b" cx="169.1" cy="254.7"/>
<circle class="b" cx="163.2" cy="253.4"/>
<circle class="b" cx="169.1" cy="257.2"/>
<circle class="b" cx="169.9" cy="260.4"/>
<circle class="b" cx="164.3" cy="244.4"/>
<circle class="b" cx="169.2" cy="249.7"/>
<circle class="b" cx="166.8" cy="254.0"/>
<circle class="b" cx="171.4" cy="260.1"/>
<circle class="b" cx="169.8" cy="252.3"/>
<circle class="b" cx="209.7" cy="251.8"/>
<circle class="b" cx="170.3" cy="237.1"/>
<circle class="b" cx="176.4" cy="254.1"/>
<circle class="r" cx="166.9" cy="263.9"/>
<circle class="b" cx="178.6" cy="250.9"/>
<circle class="b" cx="172.8" cy="266.0"/>
<circle class="b" cx="167.6" cy="233.3"/>
<circle class="r" cx="191.7" cy="271.7"/>
<circle class="b" cx="171.3" cy="256.0"/>
<circle class="b" cx="170.6" cy="249.5"/>
<circle class="b" cx="163.4" cy="252.4"/>
<circle class="b" cx="165.7" cy="265.0"/>
<circle class="r" cx="180.2" cy="259.2"/>
<circle class="b" cx="177.6" cy="248.7"/>
<circle class="b" cx="162.6" cy="253.7"/>
<circle class="b" cx="162.5" cy="271.9"/>
<circle class="b" cx="166.3" cy="251.1"/>
<circle class="b" cx="184.0" cy="268.7"/>
<circle class="b" cx="176.9" cy="247.6"/>
<circle class="b" cx="183.1" cy="250.8"/>
<circle class="b" cx="162.6" cy="246.0"/>
<circle class="b" cx="166.4" cy="257.1"/>
<circle class="b" cx="172.2" cy="253.4"/>
<circle class="b" cx="163.6" cy="261.1"/>
<circle class="b" cx="166.7" cy="262.0"/>
<circle class="b" cx="170.7" cy="264.5"/>
<circle class="b" cx="183.3" cy="263.9"/>
<circle class="b" cx="177.0" cy="259.7"/>
<circle class="b" cx="171.0" cy="248.3"/>
<circle class="b" cx="168.9" cy="248.1"/>
<circle class="b" cx="169.0" cy="255.4"/>
<circle class="b" cx="171.6" cy="255.6"/>
<circle class="b" cx="179.6" cy="257.6"/>
<circle class="b" cx="169.9" cy="251.0"/>
<circle class="b" cx="185.2" cy="250.3"/>
<circle class="b" cx="186.8" cy="242.5"/>
<circle class="b" cx="186.2" cy="252.9"/>
<circle class="b" cx="184.7" cy="258.9"/>
<circle class="b" cx="182.7" cy="247.5"/>
<circle class="b" cx="196.8" cy="259.2"/>
<circle class="b" cx="181.4" cy="243.6"/>
<circle class="b" cx="183.0" cy="254.3"/>
<circle class="b" cx="186.3" cy="255.1"/>
<circle class="b" cx="183.8" cy="259.2"/>
<circle class="b" cx="193.6" cy="245.7"/>
<circle class="b" cx="182.4" cy="256.2"/>
<circle class="b" cx="185.3" cy="248.2"/>
<circle class="b" cx="192.1" cy="253.9"/>
<circle class="b" cx="185.7" cy="257.5"/>
<circle class="r" cx="191.5" cy="258.6"/>
<circle class="r" cx="203.3" cy="261.2"/>
<circle class="r" cx="190.1" cy="261.6"/>
<circle class="b" cx="181.5" cy="246.0"/>
<circle class="b" cx="187.2" cy="265.8"/>
<circle class="b" cx="193.1" cy="261.6"/>
<circle class="b" cx="183.1" cy="249.1"/>
<circle class="b" cx="191.0" cy="263.7"/>
<circle class="b" cx="180.4" cy="258.5"/>
<circle class="b" cx="191.8" cy="265.4"/>
<circle class="b" cx="190.8" cy="249.4"/>
<circle class="b" cx="182.0" cy="247.8"/>
<circle class="b" cx="196.1" cy="259.4"/>
<circle class="b" cx="186.2" cy="239.4"/>
<circle class="b" cx="204.3" cy="233.6"/>
<circle class="b" cx="188.1" cy="233.2"/>
<circle class="b" cx="183.2" cy="246.2"/>
<circle class="b" cx="201.2" cy="265.0"/>
<circle class="b" cx="199.2" cy="255.7"/>
<circle class="b" cx="180.8" cy="243.4"/>
<circle class="b" cx="183.5" cy="264.3"/>
<circle class="b" cx="199.8" cy="264.7"/>
<circle class="b" cx="204.1" cy="250.2"/>
<circle class="b" cx="182.6" cy="256.0"/>
<circle class="r" cx="180.9" cy="240.3"/>
<circle class="r" cx="189.7" cy="251.0"/>
<circle class="b" cx="183.3" cy="264.1"/>
<circle class="r" cx="199.3" cy="243.7"/>
<circle class="b" cx="189.6" cy="266.2"/>
<circle class="b" cx="220.0" cy="234.9"/>
<circle class="b" cx="222.0" cy="240.0"/>
<circle class="b" cx="224.0" cy="242.0"/>
<circle class="b" cx="226.0" cy="243.0"/>
<circle class="b" cx="232.0" cy="248.0"/>
<circle class="b" cx="230.0" cy="255.0"/>
<circle class="b" cx="217.0" cy="255.0"/>
<circle class="b" cx="238.0" cy="263.0"/>
<circle class="b" cx="210.0" cy="266.0"/>
<circle class="b" cx="205.0" cy="249.0"/>
<circle class="b" cx="212.0" cy="243.0"/>
<circle class="r" cx="142.9" cy="243.9"/>
<circle class="b" cx="84.4" cy="241.2"/>
<circle class="b" cx="79.1" cy="263.9"/>
<circle class="r" cx="146.0" cy="230.8"/>
<circle class="b" cx="85.9" cy="245.5"/>
<circle class="b" cx="147.3" cy="239.7"/>
<circle class="r" cx="127.8" cy="246.7"/>
<circle class="r" cx="159.0" cy="253.1"/>
<circle class="r" cx="93.4" cy="267.1"/>
<circle class="r" cx="137.1" cy="268.0"/>
<circle class="r" cx="92.6" cy="256.6"/>
<circle class="b" cx="77.3" cy="261.4"/>
<circle class="b" cx="104.5" cy="257.1"/>
<circle class="r" cx="99.4" cy="235.1"/>
<circle class="b" cx="126.7" cy="253.0"/>
<circle class="b" cx="86.8" cy="257.5"/>
<circle class="b" cx="134.3" cy="256.5"/>
<circle class="r" cx="85.7" cy="249.1"/>
<circle class="r" cx="155.0" cy="259.0"/>
<circle class="r" cx="92.5" cy="257.5"/>
<circle class="r" cx="159.6" cy="257.4"/>
<circle class="r" cx="106.3" cy="268.5"/>
<circle class="b" cx="102.1" cy="256.0"/>
<circle class="r" cx="129.0" cy="246.8"/>
<circle class="r" cx="111.7" cy="245.2"/>
<circle class="r" cx="114.4" cy="261.4"/>
<circle class="b" cx="118.5" cy="240.2"/>
<circle class="r" cx="135.1" cy="254.3"/>
<circle class="b" cx="95.7" cy="258.9"/>
<circle class="b" cx="149.3" cy="255.1"/>
<circle class="b" cx="100.1" cy="239.5"/>
<circle class="r" cx="114.2" cy="264.5"/>
<circle class="r" cx="154.4" cy="265.3"/>
<circle class="b" cx="126.5" cy="237.7"/>
<circle class="r" cx="113.7" cy="239.0"/>
<circle class="r" cx="99.6" cy="245.6"/>
<circle class="r" cx="113.0" cy="240.9"/>
<circle class="b" cx="134.4" cy="253.2"/>
<circle class="r" cx="132.5" cy="250.0"/>
<circle class="b" cx="87.1" cy="238.2"/>
<circle class="r" cx="151.2" cy="250.5"/>
<circle class="b" cx="104.7" cy="238.0"/>
<circle class="b" cx="144.9" cy="241.1"/>
<circle class="b" cx="121.9" cy="263.2"/>
<circle class="b" cx="84.4" cy="246.3"/>
<circle class="b" cx="106.5" cy="253.5"/>
<circle class="b" cx="107.5" cy="253.4"/>
<circle class="r" cx="104.9" cy="267.8"/>
<circle class="r" cx="151.4" cy="248.0"/>
<circle class="b" cx="129.2" cy="251.2"/>
<circle class="r" cx="115.4" cy="259.0"/>
<circle class="b" cx="102.5" cy="240.3"/>
<circle class="b" cx="132.4" cy="269.8"/>
<circle class="r" cx="158.0" cy="238.5"/>
<circle class="r" cx="145.6" cy="251.0"/>
<circle class="b" cx="130.6" cy="262.9"/>
<circle class="r" cx="81.6" cy="262.1"/>
<circle class="r" cx="131.1" cy="247.6"/>
<circle class="b" cx="94.3" cy="242.3"/>
<circle class="b" cx="107.1" cy="250.9"/>
<circle class="r" cx="88.0" cy="265.8"/>
<circle class="r" cx="83.0" cy="238.4"/>
<circle class="r" cx="90.0" cy="260.2"/>
<circle class="b" cx="138.3" cy="263.8"/>
<circle class="r" cx="97.3" cy="243.2"/>
<circle class="b" cx="141.2" cy="268.2"/>
<circle class="r" cx="86.1" cy="252.5"/>
<circle class="r" cx="148.2" cy="250.0"/>
<circle class="r" cx="155.3" cy="248.3"/>
<circle class="b" cx="105.5" cy="252.0"/>
<circle class="b" cx="121.0" cy="256.0"/>
<circle class="r" cx="142.3" cy="251.6"/>
<circle class="b" cx="101.3" cy="256.5"/>
<circle class="b" cx="123.7" cy="250.7"/>
<circle class="b" cx="86.9" cy="238.3"/>
<circle class="r" cx="100.7" cy="242.9"/>
<circle class="r" cx="141.3" cy="250.2"/>
<circle class="b" cx="80.6" cy="238.1"/>
<circle class="b" cx="94.3" cy="264.9"/>
<circle class="r" cx="114.6" cy="245.9"/>
<circle class="r" cx="147.5" cy="232.1"/>
<circle class="r" cx="89.0" cy="236.3"/>
<circle class="b" cx="157.5" cy="262.4"/>
<circle class="r" cx="127.4" cy="252.3"/>
<circle class="b" cx="148.6" cy="238.5"/>
<circle class="b" cx="76.9" cy="253.2"/>
<circle class="b" cx="88.9" cy="242.3"/>
<circle class="r" cx="135.9" cy="268.0"/>
<circle class="b" cx="89.2" cy="253.2"/>
<circle class="b" cx="85.3" cy="251.0"/>
<circle class="r" cx="101.3" cy="233.8"/>
<circle class="r" cx="147.2" cy="254.0"/>
<circle class="b" cx="79.9" cy="254.6"/>
<circle class="b" cx="97.9" cy="248.0"/>
<circle class="r" cx="85.4" cy="241.2"/>
<circle class="r" cx="117.1" cy="255.6"/>
<circle class="r" cx="130.9" cy="228.7"/>
<circle class="r" cx="123.7" cy="269.2"/>
<circle class="b" cx="118.1" cy="240.6"/>
<circle class="r" cx="101.1" cy="257.2"/>
<circle class="r" cx="138.1" cy="251.0"/>
<circle class="r" cx="112.1" cy="239.1"/>
<circle class="r" cx="116.1" cy="258.3"/>
<circle class="r" cx="113.9" cy="240.6"/>
<circle class="r" cx="80.2" cy="248.2"/>
<circle class="b" cx="120.3" cy="254.0"/>
<circle class="b" cx="122.0" cy="257.2"/>
<circle class="r" cx="84.3" cy="245.4"/>
<circle class="r" cx="107.2" cy="255.8"/>
<circle class="r" cx="95.3" cy="237.9"/>
<circle class="r" cx="139.0" cy="252.0"/>
<circle class="b" cx="110.2" cy="250.3"/>
<circle class="r" cx="157.2" cy="234.5"/>
<circle class="r" cx="156.7" cy="249.7"/>
<circle class="b" cx="106.7" cy="259.7"/>
<circle class="b" cx="101.3" cy="257.0"/>
<circle class="r" cx="127.2" cy="259.1"/>
<circle class="r" cx="117.8" cy="255.9"/>
<circle class="r" cx="119.4" cy="250.3"/>
<circle class="r" cx="83.8" cy="254.3"/>
<circle class="r" cx="80.0" cy="219.2"/>
<circle class="r" cx="87.0" cy="219.2"/>
<circle class="b" cx="93.0" cy="219.2"/>
<circle class="g" cx="142.5" cy="210.4"/>
<circle class="g" cx="85.6" cy="203.5"/>
<circle class="g" cx="73.5" cy="209.8"/>
<circle class="g" cx="73.4" cy="216.0"/>
</g></g>
<line x1="78.6" x2="94" y1="244.16" y2="244.16" stroke="#5cc65c" stroke-width="1.5"/>
<line x1="78.6" x2="94" y1="251.97" y2="251.97" stroke="#5cc65c" stroke-width="1.5"/>
<line x1="94" x2="160.5" y1="251.97" y2="251.97" stroke="#5cc65c" stroke-width="1.5"/>
<line x1="94" x2="160.5" y1="259.78" y2="259.78" stroke="#5cc65c" stroke-width="1.5"/>
<line x1="160.5" x2="245.5" y1="259.78" y2="259.78" stroke="#5cc65c" stroke-width="1.5"/>
<line x1="160.5" x2="245.5" y1="265.40" y2="265.40" stroke="#5cc65c" stroke-width="1.5"/>
<line x1="58.3" x2="58.3" y1="196.9" y2="275.9" stroke="#8c8c8c" stroke-width="1"/>
<line x1="58.3" x2="73.6" y1="275.4" y2="275.4" stroke="#8c8c8c" stroke-width="1"/>
<line x1="78" x2="158.5" y1="275.4" y2="275.4" stroke="#8c8c8c" stroke-width="1"/>
<line x1="162" x2="244.8" y1="275.4" y2="275.4" stroke="#8c8c8c" stroke-width="1"/>
<line x1="55.9" x2="58.3" y1="275.40" y2="275.40" stroke="#8c8c8c" stroke-width="0.8"/>
<text x="55.599999999999994" y="277.20" font-size="5.1" text-anchor="end" font-family="Liberation Sans, sans-serif" font-weight="bold" stroke="#000" stroke-width="0.22">0.0</text>
<line x1="55.9" x2="58.3" y1="266.03" y2="266.03" stroke="#8c8c8c" stroke-width="0.8"/>
<text x="55.599999999999994" y="267.83" font-size="5.1" text-anchor="end" font-family="Liberation Sans, sans-serif" font-weight="bold" stroke="#000" stroke-width="0.22">0.3</text>
<line x1="55.9" x2="58.3" y1="259.78" y2="259.78" stroke="#8c8c8c" stroke-width="0.8"/>
<text x="55.599999999999994" y="261.58" font-size="5.1" text-anchor="end" font-family="Liberation Sans, sans-serif" font-weight="bold" stroke="#000" stroke-width="0.22">0.5</text>
<line x1="55.9" x2="58.3" y1="250.41" y2="250.41" stroke="#8c8c8c" stroke-width="0.8"/>
<text x="55.599999999999994" y="252.21" font-size="5.1" text-anchor="end" font-family="Liberation Sans, sans-serif" font-weight="bold" stroke="#000" stroke-width="0.22">0.8</text>
<line x1="55.9" x2="58.3" y1="244.16" y2="244.16" stroke="#8c8c8c" stroke-width="0.8"/>
<text x="55.599999999999994" y="245.96" font-size="5.1" text-anchor="end" font-family="Liberation Sans, sans-serif" font-weight="bold" stroke="#000" stroke-width="0.22">1.0</text>
<line x1="55.9" x2="58.3" y1="228.54" y2="228.54" stroke="#8c8c8c" stroke-width="0.8"/>
<text x="55.599999999999994" y="230.34" font-size="5.1" text-anchor="end" font-family="Liberation Sans, sans-serif" font-weight="bold" stroke="#000" stroke-width="0.22">1.5</text>
<line x1="55.9" x2="58.3" y1="212.92" y2="212.92" stroke="#8c8c8c" stroke-width="0.8"/>
<text x="55.599999999999994" y="214.72" font-size="5.1" text-anchor="end" font-family="Liberation Sans, sans-serif" font-weight="bold" stroke="#000" stroke-width="0.22">2.0</text>
<line x1="55.9" x2="58.3" y1="197.30" y2="197.30" stroke="#8c8c8c" stroke-width="0.8"/>
<text x="55.599999999999994" y="199.10" font-size="5.1" text-anchor="end" font-family="Liberation Sans, sans-serif" font-weight="bold" stroke="#000" stroke-width="0.22">2.5</text>
<text x="78.5" y="281.70" font-size="5.1" text-anchor="middle" font-family="Liberation Sans, sans-serif" font-weight="bold" stroke="#000" stroke-width="0.22">0</text>
<text x="93.5" y="281.70" font-size="5.1" text-anchor="middle" font-family="Liberation Sans, sans-serif" font-weight="bold" stroke="#000" stroke-width="0.22">24</text>
<text x="160.2" y="281.70" font-size="5.1" text-anchor="middle" font-family="Liberation Sans, sans-serif" font-weight="bold" stroke="#000" stroke-width="0.22">120</text>
<text x="244.8" y="281.70" font-size="5.1" text-anchor="middle" font-family="Liberation Sans, sans-serif" font-weight="bold" stroke="#000" stroke-width="0.22">1000</text>
<line x1="73.6" x2="73.6" y1="274.1" y2="276.7" stroke="#8c8c8c" stroke-width="0.9"/>
<line x1="78" x2="78" y1="274.1" y2="276.7" stroke="#8c8c8c" stroke-width="0.9"/>
<line x1="158.5" x2="158.5" y1="274.1" y2="276.7" stroke="#8c8c8c" stroke-width="0.9"/>
<line x1="162" x2="162" y1="274.1" y2="276.7" stroke="#8c8c8c" stroke-width="0.9"/>
<text x="110.2" y="287.90" font-size="5.6" font-family="Liberation Sans, sans-serif" font-weight="bold" stroke="#000" stroke-width="0.22">Time (hours)</text>
<text transform="translate(45.2,236.9) rotate(-90)" font-size="5.6" text-anchor="middle" font-family="Liberation Sans, sans-serif" font-weight="bold" stroke="#000" stroke-width="0.22">FVIII plasma level (IU/ml<tspan font-size="3.6" dy="-1.8">-1</tspan><tspan dy="1.8">)</tspan></text>
<text x="114.7" y="184.20" font-size="7.6" text-anchor="middle" font-family="Liberation Sans, sans-serif" font-weight="bold" stroke="#000" stroke-width="0.22">Adults</text>
<circle cx="165.2" cy="204.3" r="0.7" fill="#555"/>
<text x="173.5" y="205.90" font-size="4.5" fill="#d62a3c" stroke="#d62a3c" stroke-width="0.15" font-family="Liberation Sans, sans-serif" font-weight="bold">low risk surgical procedure</text>
<circle cx="165.2" cy="210.3" r="0.7" fill="#555"/>
<text x="173.5" y="211.90" font-size="4.5" fill="#24245e" stroke="#24245e" stroke-width="0.15" font-family="Liberation Sans, sans-serif" font-weight="bold">medium risk surgical procedure</text>
<rect x="323.7" y="197.3" width="15.5" height="78.1" fill="#dedede"/>
<rect x="323.6" y="244.16" width="16.4" height="7.50" fill="#e9f4e4" opacity="0.8"/>
<rect x="340" y="251.66" width="67.7" height="8.12" fill="#e9f4e4" opacity="0.8"/>
<rect x="407.7" y="259.78" width="83.1" height="5.94" fill="#e9f4e4" opacity="0.8"/>
<g filter="url(#db)">
<g opacity="0.45" class="h">
<circle class="r" cx="318.5" cy="245.6"/>
<circle class="r" cx="318.6" cy="263.6"/>
<circle class="r" cx="318.7" cy="261.3"/>
<circle class="r" cx="318.4" cy="238.8"/>
<circle class="r" cx="319.2" cy="238.8"/>
<circle class="r" cx="318.6" cy="261.3"/>
<circle class="r" cx="318.3" cy="236.7"/>
<circle class="r" cx="318.6" cy="267.5"/>
<circle class="b" cx="319.0" cy="247.6"/>
<circle class="r" cx="318.9" cy="249.4"/>
<circle class="r" cx="323.0" cy="256.8"/>
<circle class="r" cx="324.9" cy="251.8"/>
<circle class="r" cx="326.4" cy="256.3"/>
<circle class="b" cx="324.9" cy="250.9"/>
<circle class="r" cx="324.9" cy="259.5"/>
<circle class="r" cx="323.9" cy="273.1"/>
<circle class="r" cx="325.3" cy="252.1"/>
<circle class="r" cx="325.2" cy="259.7"/>
<circle class="r" cx="325.0" cy="258.9"/>
<circle class="b" cx="324.1" cy="247.4"/>
<circle class="r" cx="325.6" cy="245.2"/>
<circle class="b" cx="325.0" cy="253.8"/>
<circle class="b" cx="326.3" cy="239.4"/>
<circle class="r" cx="324.4" cy="259.9"/>
<circle class="r" cx="325.3" cy="247.5"/>
<circle class="r" cx="324.2" cy="230.2"/>
<circle class="b" cx="323.1" cy="257.7"/>
<circle class="r" cx="325.2" cy="241.6"/>
<circle class="r" cx="323.3" cy="254.2"/>
<circle class="r" cx="326.3" cy="238.0"/>
<circle class="r" cx="324.8" cy="250.0"/>
<circle class="r" cx="324.2" cy="246.9"/>
<circle class="r" cx="324.1" cy="268.3"/>
<circle class="r" cx="323.6" cy="249.9"/>
<circle class="r" cx="323.8" cy="240.6"/>
<circle class="r" cx="326.2" cy="241.6"/>
<circle class="r" cx="325.6" cy="240.4"/>
<circle class="r" cx="325.2" cy="242.7"/>
<circle class="r" cx="325.4" cy="243.5"/>
<circle class="r" cx="324.1" cy="256.2"/>
<circle class="r" cx="324.1" cy="243.0"/>
<circle class="r" cx="325.5" cy="257.3"/>
<circle class="r" cx="324.1" cy="255.4"/>
<circle class="r" cx="325.8" cy="251.4"/>
<circle class="r" cx="324.8" cy="256.4"/>
<circle class="r" cx="324.9" cy="236.3"/>
<circle class="r" cx="336.7" cy="253.5"/>
<circle class="r" cx="338.8" cy="244.0"/>
<circle class="r" cx="336.3" cy="240.7"/>
<circle class="r" cx="336.2" cy="245.4"/>
<circle class="r" cx="335.0" cy="259.1"/>
<circle class="b" cx="338.1" cy="255.6"/>
<circle class="r" cx="336.6" cy="249.9"/>
<circle class="b" cx="337.3" cy="254.5"/>
<circle class="r" cx="336.7" cy="234.5"/>
<circle class="r" cx="338.7" cy="247.4"/>
<circle class="r" cx="336.3" cy="255.0"/>
<circle class="r" cx="337.0" cy="246.1"/>
<circle class="r" cx="338.8" cy="254.9"/>
<circle class="r" cx="337.4" cy="254.1"/>
<circle class="r" cx="337.4" cy="256.4"/>
<circle class="b" cx="337.6" cy="240.1"/>
<circle class="b" cx="336.9" cy="253.2"/>
<circle class="r" cx="337.4" cy="261.9"/>
<circle class="r" cx="338.9" cy="262.1"/>
<circle class="b" cx="337.0" cy="258.1"/>
<circle class="r" cx="338.7" cy="254.6"/>
<circle class="r" cx="336.8" cy="233.7"/>
<circle class="r" cx="337.2" cy="257.2"/>
<circle class="r" cx="337.3" cy="248.6"/>
<circle class="r" cx="336.6" cy="252.0"/>
<circle class="b" cx="337.1" cy="244.0"/>
<circle class="r" cx="338.0" cy="243.0"/>
<circle class="r" cx="337.2" cy="243.3"/>
<circle class="b" cx="337.1" cy="240.1"/>
<circle class="r" cx="337.7" cy="254.1"/>
<circle class="r" cx="338.4" cy="263.7"/>
<circle class="r" cx="336.4" cy="257.4"/>
<circle class="b" cx="337.2" cy="261.2"/>
<circle class="b" cx="336.2" cy="267.0"/>
<circle class="b" cx="337.4" cy="257.1"/>
<circle class="r" cx="339.3" cy="243.5"/>
<circle class="r" cx="336.3" cy="238.7"/>
<circle class="r" cx="337.4" cy="240.9"/>
<circle class="r" cx="336.3" cy="240.1"/>
<circle class="b" cx="338.3" cy="254.0"/>
<circle class="r" cx="353.2" cy="254.9"/>
<circle class="r" cx="354.3" cy="233.0"/>
<circle class="r" cx="355.8" cy="240.1"/>
<circle class="r" cx="353.8" cy="254.5"/>
<circle class="r" cx="354.4" cy="254.1"/>
<circle class="r" cx="353.5" cy="253.5"/>
<circle class="b" cx="354.9" cy="252.4"/>
<circle class="b" cx="354.2" cy="254.0"/>
<circle class="r" cx="353.8" cy="254.5"/>
<circle class="r" cx="355.3" cy="250.1"/>
<circle class="r" cx="355.5" cy="253.2"/>
<circle class="b" cx="355.1" cy="262.8"/>
<circle class="r" cx="353.6" cy="252.4"/>
<circle class="b" cx="353.4" cy="252.8"/>
<circle class="b" cx="353.1" cy="253.2"/>
<circle class="r" cx="353.3" cy="251.9"/>
<circle class="r" cx="353.7" cy="259.8"/>
<circle class="r" cx="353.6" cy="251.7"/>
<circle class="r" cx="352.7" cy="251.2"/>
<circle class="r" cx="355.3" cy="253.7"/>
<circle class="r" cx="354.6" cy="247.0"/>
<circle class="b" cx="353.2" cy="241.5"/>
<circle class="r" cx="356.5" cy="260.0"/>
<circle class="r" cx="356.2" cy="257.5"/>
<circle class="r" cx="355.5" cy="266.1"/>
<circle class="r" cx="355.2" cy="250.8"/>
<circle class="b" cx="352.7" cy="258.4"/>
<circle class="r" cx="353.0" cy="259.0"/>
<circle class="r" cx="354.4" cy="253.3"/>
<circle class="r" cx="351.5" cy="254.4"/>
<circle class="r" cx="372.0" cy="249.6"/>
<circle class="r" cx="373.2" cy="266.5"/>
<circle class="r" cx="371.8" cy="250.1"/>
<circle class="b" cx="372.2" cy="262.1"/>
<circle class="r" cx="370.2" cy="251.8"/>
<circle class="b" cx="371.6" cy="266.3"/>
<circle class="b" cx="371.9" cy="250.4"/>
<circle class="r" cx="372.2" cy="245.9"/>
<circle class="r" cx="370.6" cy="254.5"/>
<circle class="r" cx="372.3" cy="235.5"/>
<circle class="r" cx="371.7" cy="251.3"/>
<circle class="r" cx="372.8" cy="258.2"/>
<circle class="r" cx="371.4" cy="254.8"/>
<circle class="b" cx="370.5" cy="248.6"/>
<circle class="r" cx="373.6" cy="248.2"/>
<circle class="r" cx="372.0" cy="250.6"/>
<circle class="r" cx="372.6" cy="248.8"/>
<circle class="r" cx="370.6" cy="249.5"/>
<circle class="r" cx="373.0" cy="251.1"/>
<circle class="b" cx="372.7" cy="251.0"/>
<circle class="r" cx="373.5" cy="247.9"/>
<circle class="r" cx="372.2" cy="252.9"/>
<circle class="r" cx="372.3" cy="252.3"/>
<circle class="b" cx="370.0" cy="247.7"/>
<circle class="r" cx="370.3" cy="237.3"/>
<circle class="r" cx="372.3" cy="250.2"/>
<circle class="r" cx="372.2" cy="236.8"/>
<circle class="r" cx="370.9" cy="244.4"/>
<circle class="r" cx="374.1" cy="264.6"/>
<circle class="r" cx="371.1" cy="247.3"/>
<circle class="b" cx="387.4" cy="269.8"/>
<circle class="r" cx="386.1" cy="247.9"/>
<circle class="r" cx="386.4" cy="254.3"/>
<circle class="r" cx="385.6" cy="264.5"/>
<circle class="b" cx="385.2" cy="256.3"/>
<circle class="r" cx="388.2" cy="257.5"/>
<circle class="r" cx="386.7" cy="256.5"/>
<circle class="r" cx="387.5" cy="260.2"/>
<circle class="r" cx="387.6" cy="244.7"/>
<circle class="r" cx="389.2" cy="262.1"/>
<circle class="r" cx="385.7" cy="244.9"/>
<circle class="r" cx="388.0" cy="249.8"/>
<circle class="r" cx="387.6" cy="259.7"/>
<circle class="r" cx="388.0" cy="250.4"/>
<circle class="r" cx="388.2" cy="265.7"/>
<circle class="r" cx="388.0" cy="260.6"/>
<circle class="r" cx="386.6" cy="255.7"/>
<circle class="b" cx="386.7" cy="242.1"/>
<circle class="b" cx="402.5" cy="255.1"/>
<circle class="r" cx="401.9" cy="255.2"/>
<circle class="b" cx="401.8" cy="253.3"/>
<circle class="r" cx="402.7" cy="251.9"/>
<circle class="r" cx="401.0" cy="258.5"/>
<circle class="b" cx="402.1" cy="263.5"/>
<circle class="r" cx="402.3" cy="257.4"/>
<circle class="r" cx="402.1" cy="254.4"/>
<circle class="b" cx="401.5" cy="247.8"/>
<circle class="r" cx="402.8" cy="259.7"/>
<circle class="r" cx="402.4" cy="252.4"/>
<circle class="r" cx="401.4" cy="258.6"/>
<circle class="b" cx="402.6" cy="271.2"/>
<circle class="r" cx="400.9" cy="254.7"/>
<circle class="b" cx="402.5" cy="261.8"/>
<circle class="r" cx="413.9" cy="235.7"/>
<circle class="r" cx="413.2" cy="256.9"/>
<circle class="r" cx="413.1" cy="266.1"/>
<circle class="r" cx="413.6" cy="254.9"/>
<circle class="r" cx="413.8" cy="243.1"/>
<circle class="r" cx="413.0" cy="254.8"/>
<circle class="r" cx="413.3" cy="240.2"/>
<circle class="r" cx="411.5" cy="256.6"/>
<circle class="r" cx="412.4" cy="255.4"/>
<circle class="r" cx="413.8" cy="255.9"/>
<circle class="r" cx="413.8" cy="254.8"/>
<circle class="r" cx="412.3" cy="262.8"/>
<circle class="r" cx="411.6" cy="254.4"/>
<circle class="b" cx="412.6" cy="248.6"/>
<circle class="r" cx="414.0" cy="264.9"/>
<circle class="b" cx="411.9" cy="250.8"/>
<circle class="r" cx="412.1" cy="254.6"/>
<circle class="r" cx="413.6" cy="260.2"/>
<circle class="r" cx="405.6" cy="241.9"/>
<circle class="r" cx="353.1" cy="269.0"/>
<circle class="r" cx="376.6" cy="245.8"/>
<circle class="r" cx="353.6" cy="254.3"/>
<circle class="r" cx="391.2" cy="252.4"/>
<circle class="r" cx="352.7" cy="241.2"/>
<circle class="r" cx="406.4" cy="254.4"/>
<circle class="r" cx="388.7" cy="249.4"/>
<circle class="r" cx="365.6" cy="263.8"/>
<circle class="r" cx="404.7" cy="257.5"/>
<circle class="r" cx="377.0" cy="253.9"/>
<circle class="r" cx="375.8" cy="253.2"/>
<circle class="r" cx="360.3" cy="265.4"/>
<circle class="r" cx="373.4" cy="259.5"/>
<circle class="r" cx="348.1" cy="264.3"/>
<circle class="r" cx="385.6" cy="253.4"/>
<circle class="r" cx="408.0" cy="255.4"/>
<circle class="r" cx="347.8" cy="243.6"/>
<circle class="r" cx="396.4" cy="251.8"/>
<circle class="r" cx="396.3" cy="236.0"/>
<circle class="b" cx="359.3" cy="244.4"/>
<circle class="r" cx="371.0" cy="259.9"/>
<circle class="r" cx="417.0" cy="266.0"/>
<circle class="r" cx="422.0" cy="269.0"/>
<circle class="r" cx="428.0" cy="248.0"/>
<circle class="r" cx="432.0" cy="248.0"/>
<circle class="b" cx="427.0" cy="256.0"/>
<circle class="r" cx="438.0" cy="257.0"/>
<circle class="r" cx="443.0" cy="252.0"/>
<circle class="b" cx="448.0" cy="251.0"/>
<circle class="r" cx="443.0" cy="269.0"/>
<circle class="r" cx="448.0" cy="269.0"/>
<circle class="r" cx="425.0" cy="273.0"/>
<circle class="r" cx="418.0" cy="243.0"/>
<circle class="r" cx="345.0" cy="229.9"/>
<circle class="r" cx="348.0" cy="239.0"/>
<circle class="r" cx="366.0" cy="233.9"/>
<circle class="r" cx="386.0" cy="234.9"/>
<circle class="r" cx="381.0" cy="240.0"/>
<circle class="g" cx="318.5" cy="209.8"/>
</g><g class="s">
<circle class="r" cx="318.5" cy="245.6"/>
<circle class="r" cx="318.6" cy="263.6"/>
<circle class="r" cx="318.7" cy="261.3"/>
<circle class="r" cx="318.4" cy="238.8"/>
<circle class="r" cx="319.2" cy="238.8"/>
<circle class="r" cx="318.6" cy="261.3"/>
<circle class="r" cx="318.3" cy="236.7"/>
<circle class="r" cx="318.6" cy="267.5"/>
<circle class="b" cx="319.0" cy="247.6"/>
<circle class="r" cx="318.9" cy="249.4"/>
<circle class="r" cx="323.0" cy="256.8"/>
<circle class="r" cx="324.9" cy="251.8"/>
<circle class="r" cx="326.4" cy="256.3"/>
<circle class="b" cx="324.9" cy="250.9"/>
<circle class="r" cx="324.9" cy="259.5"/>
<circle class="r" cx="323.9" cy="273.1"/>
<circle class="r" cx="325.3" cy="252.1"/>
<circle class="r" cx="325.2" cy="259.7"/>
<circle class="r" cx="325.0" cy="258.9"/>
<circle class="b" cx="324.1" cy="247.4"/>
<circle class="r" cx="325.6" cy="245.2"/>
<circle class="b" cx="325.0" cy="253.8"/>
<circle class="b" cx="326.3" cy="239.4"/>
<circle class="r" cx="324.4" cy="259.9"/>
<circle class="r" cx="325.3" cy="247.5"/>
<circle class="r" cx="324.2" cy="230.2"/>
<circle class="b" cx="323.1" cy="257.7"/>
<circle class="r" cx="325.2" cy="241.6"/>
<circle class="r" cx="323.3" cy="254.2"/>
<circle class="r" cx="326.3" cy="238.0"/>
<circle class="r" cx="324.8" cy="250.0"/>
<circle class="r" cx="324.2" cy="246.9"/>
<circle class="r" cx="324.1" cy="268.3"/>
<circle class="r" cx="323.6" cy="249.9"/>
<circle class="r" cx="323.8" cy="240.6"/>
<circle class="r" cx="326.2" cy="241.6"/>
<circle class="r" cx="325.6" cy="240.4"/>
<circle class="r" cx="325.2" cy="242.7"/>
<circle class="r" cx="325.4" cy="243.5"/>
<circle class="r" cx="324.1" cy="256.2"/>
<circle class="r" cx="324.1" cy="243.0"/>
<circle class="r" cx="325.5" cy="257.3"/>
<circle class="r" cx="324.1" cy="255.4"/>
<circle class="r" cx="325.8" cy="251.4"/>
<circle class="r" cx="324.8" cy="256.4"/>
<circle class="r" cx="324.9" cy="236.3"/>
<circle class="r" cx="336.7" cy="253.5"/>
<circle class="r" cx="338.8" cy="244.0"/>
<circle class="r" cx="336.3" cy="240.7"/>
<circle class="r" cx="336.2" cy="245.4"/>
<circle class="r" cx="335.0" cy="259.1"/>
<circle class="b" cx="338.1" cy="255.6"/>
<circle class="r" cx="336.6" cy="249.9"/>
<circle class="b" cx="337.3" cy="254.5"/>
<circle class="r" cx="336.7" cy="234.5"/>
<circle class="r" cx="338.7" cy="247.4"/>
<circle class="r" cx="336.3" cy="255.0"/>
<circle class="r" cx="337.0" cy="246.1"/>
<circle class="r" cx="338.8" cy="254.9"/>
<circle class="r" cx="337.4" cy="254.1"/>
<circle class="r" cx="337.4" cy="256.4"/>
<circle class="b" cx="337.6" cy="240.1"/>
<circle class="b" cx="336.9" cy="253.2"/>
<circle class="r" cx="337.4" cy="261.9"/>
<circle class="r" cx="338.9" cy="262.1"/>
<circle class="b" cx="337.0" cy="258.1"/>
<circle class="r" cx="338.7" cy="254.6"/>
<circle class="r" cx="336.8" cy="233.7"/>
<circle class="r" cx="337.2" cy="257.2"/>
<circle class="r" cx="337.3" cy="248.6"/>
<circle class="r" cx="336.6" cy="252.0"/>
<circle class="b" cx="337.1" cy="244.0"/>
<circle class="r" cx="338.0" cy="243.0"/>
<circle class="r" cx="337.2" cy="243.3"/>
<circle class="b" cx="337.1" cy="240.1"/>
<circle class="r" cx="337.7" cy="254.1"/>
<circle class="r" cx="338.4" cy="263.7"/>
<circle class="r" cx="336.4" cy="257.4"/>
<circle class="b" cx="337.2" cy="261.2"/>
<circle class="b" cx="336.2" cy="267.0"/>
<circle class="b" cx="337.4" cy="257.1"/>
<circle class="r" cx="339.3" cy="243.5"/>
<circle class="r" cx="336.3" cy="238.7"/>
<circle class="r" cx="337.4" cy="240.9"/>
<circle class="r" cx="336.3" cy="240.1"/>
<circle class="b" cx="338.3" cy="254.0"/>
<circle class="r" cx="353.2" cy="254.9"/>
<circle class="r" cx="354.3" cy="233.0"/>
<circle class="r" cx="355.8" cy="240.1"/>
<circle class="r" cx="353.8" cy="254.5"/>
<circle class="r" cx="354.4" cy="254.1"/>
<circle class="r" cx="353.5" cy="253.5"/>
<circle class="b" cx="354.9" cy="252.4"/>
<circle class="b" cx="354.2" cy="254.0"/>
<circle class="r" cx="353.8" cy="254.5"/>
<circle class="r" cx="355.3" cy="250.1"/>
<circle class="r" cx="355.5" cy="253.2"/>
<circle class="b" cx="355.1" cy="262.8"/>
<circle class="r" cx="353.6" cy="252.4"/>
<circle class="b" cx="353.4" cy="252.8"/>
<circle class="b" cx="353.1" cy="253.2"/>
<circle class="r" cx="353.3" cy="251.9"/>
<circle class="r" cx="353.7" cy="259.8"/>
<circle class="r" cx="353.6" cy="251.7"/>
<circle class="r" cx="352.7" cy="251.2"/>
<circle class="r" cx="355.3" cy="253.7"/>
<circle class="r" cx="354.6" cy="247.0"/>
<circle class="b" cx="353.2" cy="241.5"/>
<circle class="r" cx="356.5" cy="260.0"/>
<circle class="r" cx="356.2" cy="257.5"/>
<circle class="r" cx="355.5" cy="266.1"/>
<circle class="r" cx="355.2" cy="250.8"/>
<circle class="b" cx="352.7" cy="258.4"/>
<circle class="r" cx="353.0" cy="259.0"/>
<circle class="r" cx="354.4" cy="253.3"/>
<circle class="r" cx="351.5" cy="254.4"/>
<circle class="r" cx="372.0" cy="249.6"/>
<circle class="r" cx="373.2" cy="266.5"/>
<circle class="r" cx="371.8" cy="250.1"/>
<circle class="b" cx="372.2" cy="262.1"/>
<circle class="r" cx="370.2" cy="251.8"/>
<circle class="b" cx="371.6" cy="266.3"/>
<circle class="b" cx="371.9" cy="250.4"/>
<circle class="r" cx="372.2" cy="245.9"/>
<circle class="r" cx="370.6" cy="254.5"/>
<circle class="r" cx="372.3" cy="235.5"/>
<circle class="r" cx="371.7" cy="251.3"/>
<circle class="r" cx="372.8" cy="258.2"/>
<circle class="r" cx="371.4" cy="254.8"/>
<circle class="b" cx="370.5" cy="248.6"/>
<circle class="r" cx="373.6" cy="248.2"/>
<circle class="r" cx="372.0" cy="250.6"/>
<circle class="r" cx="372.6" cy="248.8"/>
<circle class="r" cx="370.6" cy="249.5"/>
<circle class="r" cx="373.0" cy="251.1"/>
<circle class="b" cx="372.7" cy="251.0"/>
<circle class="r" cx="373.5" cy="247.9"/>
<circle class="r" cx="372.2" cy="252.9"/>
<circle class="r" cx="372.3" cy="252.3"/>
<circle class="b" cx="370.0" cy="247.7"/>
<circle class="r" cx="370.3" cy="237.3"/>
<circle class="r" cx="372.3" cy="250.2"/>
<circle class="r" cx="372.2" cy="236.8"/>
<circle class="r" cx="370.9" cy="244.4"/>
<circle class="r" cx="374.1" cy="264.6"/>
<circle class="r" cx="371.1" cy="247.3"/>
<circle class="b" cx="387.4" cy="269.8"/>
<circle class="r" cx="386.1" cy="247.9"/>
<circle class="r" cx="386.4" cy="254.3"/>
<circle class="r" cx="385.6" cy="264.5"/>
<circle class="b" cx="385.2" cy="256.3"/>
<circle class="r" cx="388.2" cy="257.5"/>
<circle class="r" cx="386.7" cy="256.5"/>
<circle class="r" cx="387.5" cy="260.2"/>
<circle class="r" cx="387.6" cy="244.7"/>
<circle class="r" cx="389.2" cy="262.1"/>
<circle class="r" cx="385.7" cy="244.9"/>
<circle class="r" cx="388.0" cy="249.8"/>
<circle class="r" cx="387.6" cy="259.7"/>
<circle class="r" cx="388.0" cy="250.4"/>
<circle class="r" cx="388.2" cy="265.7"/>
<circle class="r" cx="388.0" cy="260.6"/>
<circle class="r" cx="386.6" cy="255.7"/>
<circle class="b" cx="386.7" cy="242.1"/>
<circle class="b" cx="402.5" cy="255.1"/>
<circle class="r" cx="401.9" cy="255.2"/>
<circle class="b" cx="401.8" cy="253.3"/>
<circle class="r" cx="402.7" cy="251.9"/>
<circle class="r" cx="401.0" cy="258.5"/>
<circle class="b" cx="402.1" cy="263.5"/>
<circle class="r" cx="402.3" cy="257.4"/>
<circle class="r" cx="402.1" cy="254.4"/>
<circle class="b" cx="401.5" cy="247.8"/>
<circle class="r" cx="402.8" cy="259.7"/>
<circle class="r" cx="402.4" cy="252.4"/>
<circle class="r" cx="401.4" cy="258.6"/>
<circle class="b" cx="402.6" cy="271.2"/>
<circle class="r" cx="400.9" cy="254.7"/>
<circle class="b" cx="402.5" cy="261.8"/>
<circle class="r" cx="413.9" cy="235.7"/>
<circle class="r" cx="413.2" cy="256.9"/>
<circle class="r" cx="413.1" cy="266.1"/>
<circle class="r" cx="413.6" cy="254.9"/>
<circle class="r" cx="413.8" cy="243.1"/>
<circle class="r" cx="413.0" cy="254.8"/>
<circle class="r" cx="413.3" cy="240.2"/>
<circle class="r" cx="411.5" cy="256.6"/>
<circle class="r" cx="412.4" cy="255.4"/>
<circle class="r" cx="413.8" cy="255.9"/>
<circle class="r" cx="413.8" cy="254.8"/>
<circle class="r" cx="412.3" cy="262.8"/>
<circle class="r" cx="411.6" cy="254.4"/>
<circle class="b" cx="412.6" cy="248.6"/>
<circle class="r" cx="414.0" cy="264.9"/>
<circle class="b" cx="411.9" cy="250.8"/>
<circle class="r" cx="412.1" cy="254.6"/>
<circle class="r" cx="413.6" cy="260.2"/>
<circle class="r" cx="405.6" cy="241.9"/>
<circle class="r" cx="353.1" cy="269.0"/>
<circle class="r" cx="376.6" cy="245.8"/>
<circle class="r" cx="353.6" cy="254.3"/>
<circle class="r" cx="391.2" cy="252.4"/>
<circle class="r" cx="352.7" cy="241.2"/>
<circle class="r" cx="406.4" cy="254.4"/>
<circle class="r" cx="388.7" cy="249.4"/>
<circle class="r" cx="365.6" cy="263.8"/>
<circle class="r" cx="404.7" cy="257.5"/>
<circle class="r" cx="377.0" cy="253.9"/>
<circle class="r" cx="375.8" cy="253.2"/>
<circle class="r" cx="360.3" cy="265.4"/>
<circle class="r" cx="373.4" cy="259.5"/>
<circle class="r" cx="348.1" cy="264.3"/>
<circle class="r" cx="385.6" cy="253.4"/>
<circle class="r" cx="408.0" cy="255.4"/>
<circle class="r" cx="347.8" cy="243.6"/>
<circle class="r" cx="396.4" cy="251.8"/>
<circle class="r" cx="396.3" cy="236.0"/>
<circle class="b" cx="359.3" cy="244.4"/>
<circle class="r" cx="371.0" cy="259.9"/>
<circle class="r" cx="417.0" cy="266.0"/>
<circle class="r" cx="422.0" cy="269.0"/>
<circle class="r" cx="428.0" cy="248.0"/>
<circle class="r" cx="432.0" cy="248.0"/>
<circle class="b" cx="427.0" cy="256.0"/>
<circle class="r" cx="438.0" cy="257.0"/>
<circle class="r" cx="443.0" cy="252.0"/>
<circle class="b" cx="448.0" cy="251.0"/>
<circle class="r" cx="443.0" cy="269.0"/>
<circle class="r" cx="448.0" cy="269.0"/>
<circle class="r" cx="425.0" cy="273.0"/>
<circle class="r" cx="418.0" cy="243.0"/>
<circle class="r" cx="345.0" cy="229.9"/>
<circle class="r" cx="348.0" cy="239.0"/>
<circle class="r" cx="366.0" cy="233.9"/>
<circle class="r" cx="386.0" cy="234.9"/>
<circle class="r" cx="381.0" cy="240.0"/>
<circle class="g" cx="318.5" cy="209.8"/>
</g></g>
<line x1="323.6" x2="340" y1="244.16" y2="244.16" stroke="#5cc65c" stroke-width="1.5"/>
<line x1="323.6" x2="340" y1="251.66" y2="251.66" stroke="#5cc65c" stroke-width="1.5"/>
<line x1="340" x2="407.7" y1="251.66" y2="251.66" stroke="#5cc65c" stroke-width="1.5"/>
<line x1="340" x2="407.7" y1="259.78" y2="259.78" stroke="#5cc65c" stroke-width="1.5"/>
<line x1="407.7" x2="490.8" y1="259.78" y2="259.78" stroke="#5cc65c" stroke-width="1.5"/>
<line x1="407.7" x2="490.8" y1="265.72" y2="265.72" stroke="#5cc65c" stroke-width="1.5"/>
<line x1="303.6" x2="303.6" y1="196.9" y2="275.9" stroke="#8c8c8c" stroke-width="1"/>
<line x1="303.6" x2="319.4" y1="275.4" y2="275.4" stroke="#8c8c8c" stroke-width="1"/>
<line x1="323.4" x2="404.8" y1="275.4" y2="275.4" stroke="#8c8c8c" stroke-width="1"/>
<line x1="408" x2="490.8" y1="275.4" y2="275.4" stroke="#8c8c8c" stroke-width="1"/>
<line x1="301.20000000000005" x2="303.6" y1="275.40" y2="275.40" stroke="#8c8c8c" stroke-width="0.8"/>
<text x="300.90000000000003" y="277.20" font-size="5.1" text-anchor="end" font-family="Liberation Sans, sans-serif" font-weight="bold" stroke="#000" stroke-width="0.22">0.0</text>
<line x1="301.20000000000005" x2="303.6" y1="266.03" y2="266.03" stroke="#8c8c8c" stroke-width="0.8"/>
<text x="300.90000000000003" y="267.83" font-size="5.1" text-anchor="end" font-family="Liberation Sans, sans-serif" font-weight="bold" stroke="#000" stroke-width="0.22">0.3</text>
<line x1="301.20000000000005" x2="303.6" y1="259.78" y2="259.78" stroke="#8c8c8c" stroke-width="0.8"/>
<text x="300.90000000000003" y="261.58" font-size="5.1" text-anchor="end" font-family="Liberation Sans, sans-serif" font-weight="bold" stroke="#000" stroke-width="0.22">0.5</text>
<line x1="301.20000000000005" x2="303.6" y1="250.41" y2="250.41" stroke="#8c8c8c" stroke-width="0.8"/>
<text x="300.90000000000003" y="252.21" font-size="5.1" text-anchor="end" font-family="Liberation Sans, sans-serif" font-weight="bold" stroke="#000" stroke-width="0.22">0.8</text>
<line x1="301.20000000000005" x2="303.6" y1="244.16" y2="244.16" stroke="#8c8c8c" stroke-width="0.8"/>
<text x="300.90000000000003" y="245.96" font-size="5.1" text-anchor="end" font-family="Liberation Sans, sans-serif" font-weight="bold" stroke="#000" stroke-width="0.22">1.0</text>
<line x1="301.20000000000005" x2="303.6" y1="228.54" y2="228.54" stroke="#8c8c8c" stroke-width="0.8"/>
<text x="300.90000000000003" y="230.34" font-size="5.1" text-anchor="end" font-family="Liberation Sans, sans-serif" font-weight="bold" stroke="#000" stroke-width="0.22">1.5</text>
<line x1="301.20000000000005" x2="303.6" y1="212.92" y2="212.92" stroke="#8c8c8c" stroke-width="0.8"/>
<text x="300.90000000000003" y="214.72" font-size="5.1" text-anchor="end" font-family="Liberation Sans, sans-serif" font-weight="bold" stroke="#000" stroke-width="0.22">2.0</text>
<line x1="301.20000000000005" x2="303.6" y1="197.30" y2="197.30" stroke="#8c8c8c" stroke-width="0.8"/>
<text x="300.90000000000003" y="199.10" font-size="5.1" text-anchor="end" font-family="Liberation Sans, sans-serif" font-weight="bold" stroke="#000" stroke-width="0.22">2.5</text>
<text x="323.8" y="281.70" font-size="5.1" text-anchor="middle" font-family="Liberation Sans, sans-serif" font-weight="bold" stroke="#000" stroke-width="0.22">0</text>
<text x="339" y="281.70" font-size="5.1" text-anchor="middle" font-family="Liberation Sans, sans-serif" font-weight="bold" stroke="#000" stroke-width="0.22">24</text>
<text x="406.3" y="281.70" font-size="5.1" text-anchor="middle" font-family="Liberation Sans, sans-serif" font-weight="bold" stroke="#000" stroke-width="0.22">120</text>
<text x="487.2" y="281.70" font-size="5.1" text-anchor="middle" font-family="Liberation Sans, sans-serif" font-weight="bold" stroke="#000" stroke-width="0.22">500</text>
<line x1="319.4" x2="319.4" y1="274.1" y2="276.7" stroke="#8c8c8c" stroke-width="0.9"/>
<line x1="323.4" x2="323.4" y1="274.1" y2="276.7" stroke="#8c8c8c" stroke-width="0.9"/>
<line x1="404.8" x2="404.8" y1="274.1" y2="276.7" stroke="#8c8c8c" stroke-width="0.9"/>
<line x1="408" x2="408" y1="274.1" y2="276.7" stroke="#8c8c8c" stroke-width="0.9"/>
<text x="349" y="287.90" font-size="5.6" font-family="Liberation Sans, sans-serif" font-weight="bold" stroke="#000" stroke-width="0.22">Time (hours)</text>
<text transform="translate(290.6,236.9) rotate(-90)" font-size="5.6" text-anchor="middle" font-family="Liberation Sans, sans-serif" font-weight="bold" stroke="#000" stroke-width="0.22">FVIII plasma level (IU/ml<tspan font-size="3.6" dy="-1.8">-1</tspan><tspan dy="1.8">)</tspan></text>
<text x="360" y="184.20" font-size="7.6" text-anchor="middle" font-family="Liberation Sans, sans-serif" font-weight="bold" stroke="#000" stroke-width="0.22">Children</text>
<circle cx="412.1" cy="206.4" r="0.7" fill="#555"/>
<text x="420.8" y="208.00" font-size="4.5" fill="#d62a3c" stroke="#d62a3c" stroke-width="0.15" font-family="Liberation Sans, sans-serif" font-weight="bold">low risk surgical procedure</text>
<circle cx="412.1" cy="212.6" r="0.7" fill="#555"/>
<text x="420.8" y="214.20" font-size="4.5" fill="#24245e" stroke="#24245e" stroke-width="0.15" font-family="Liberation Sans, sans-serif" font-weight="bold">medium risk surgical procedure</text>
</svg></body></html>
